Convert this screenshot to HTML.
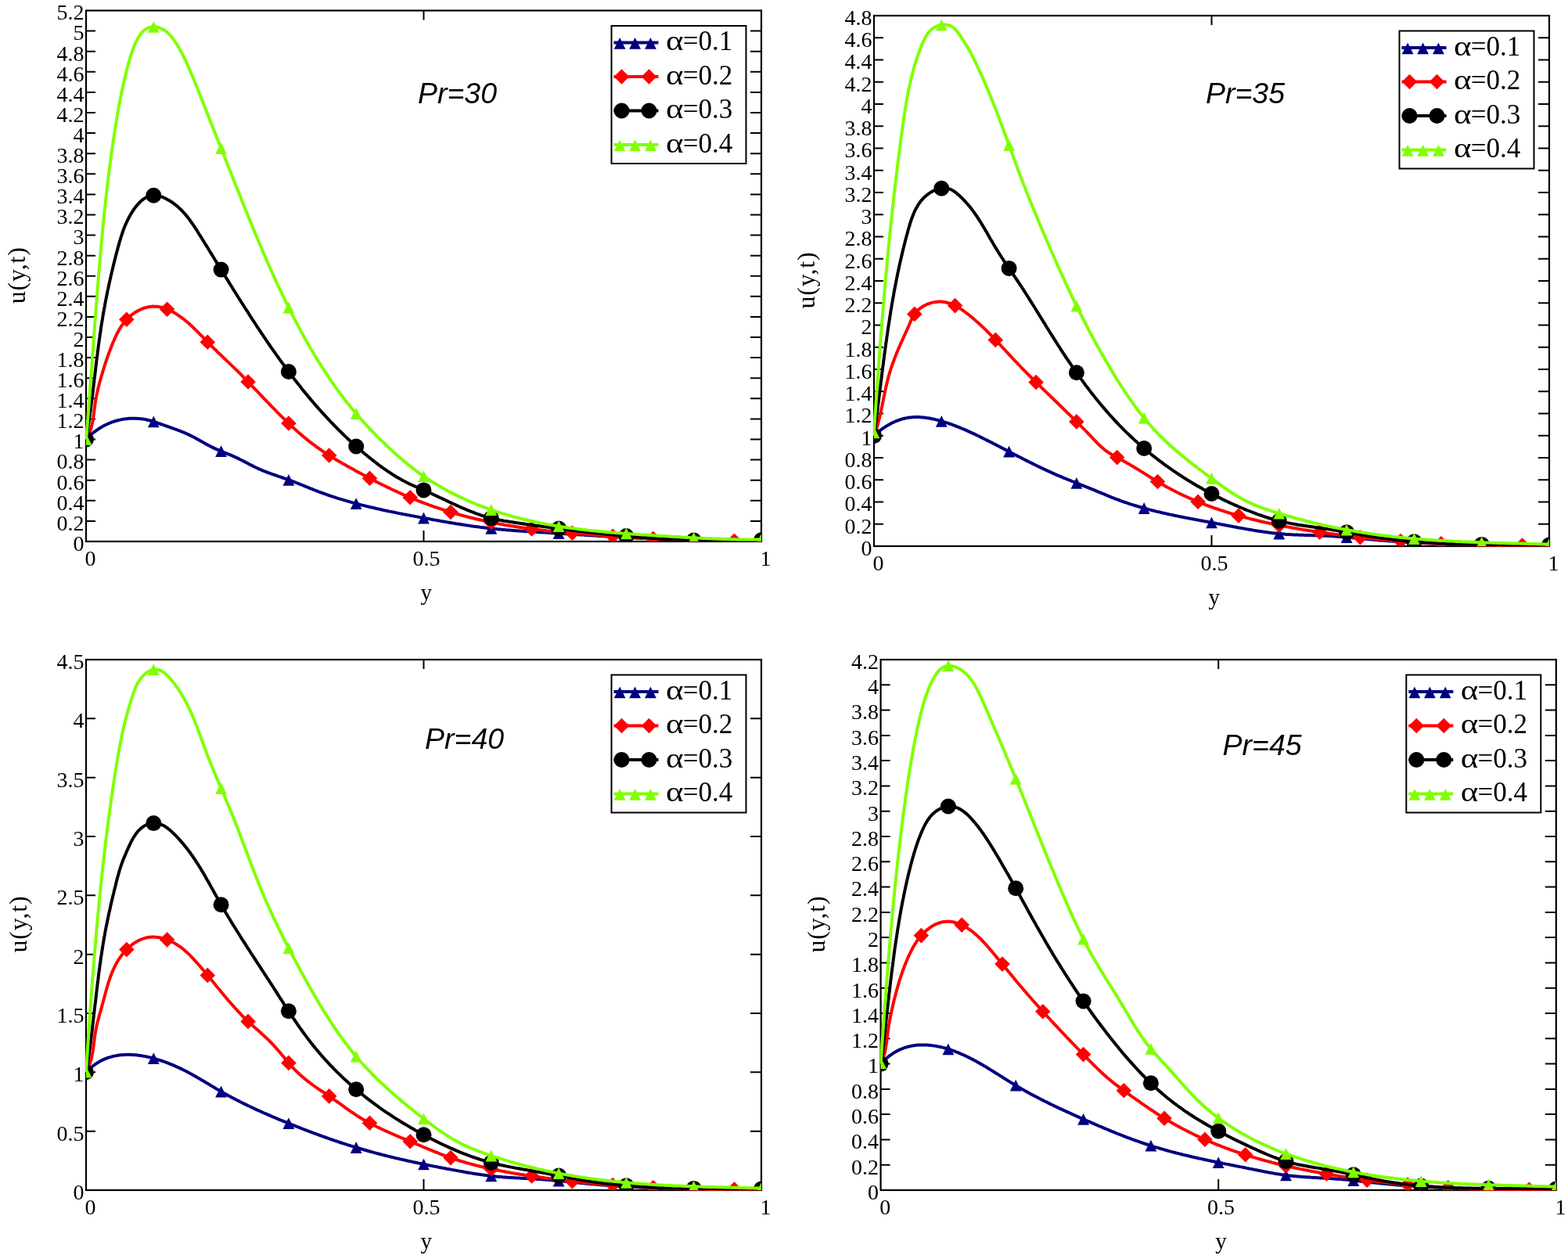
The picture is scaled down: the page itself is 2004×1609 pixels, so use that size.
<!DOCTYPE html>
<html><head><meta charset="utf-8"><title>u(y,t) profiles</title><style>
html,body{margin:0;padding:0;background:#fff;}
svg{display:block;}
.tl{font-family:"Liberation Serif",serif;font-size:28px;fill:#000;}
.al{font-family:"Liberation Serif",serif;font-size:29px;fill:#000;}
.ul{font-family:"Liberation Serif",serif;font-size:32px;letter-spacing:0.8px;fill:#000;}
.lg{font-family:"Liberation Serif",serif;font-size:35px;fill:#000;}
.pr{font-family:"Liberation Sans",sans-serif;font-style:italic;font-size:37.5px;fill:#000;}
</style></head>
<body><svg xmlns="http://www.w3.org/2000/svg" width="2004" height="1609" viewBox="0 0 2004 1609">
<rect width="2004" height="1609" fill="#fff"/>
<rect x="110.0" y="13.5" width="863.0" height="678.5" fill="none" stroke="#000" stroke-width="2.2"/>
<path d="M110.0 665.9H122.0M959.0 665.9H973.0M110.0 639.8H122.0M959.0 639.8H973.0M110.0 613.7H122.0M959.0 613.7H973.0M110.0 587.6H122.0M959.0 587.6H973.0M110.0 561.5H122.0M959.0 561.5H973.0M110.0 535.4H122.0M959.0 535.4H973.0M110.0 509.3H122.0M959.0 509.3H973.0M110.0 483.2H122.0M959.0 483.2H973.0M110.0 457.1H122.0M959.0 457.1H973.0M110.0 431.0H122.0M959.0 431.0H973.0M110.0 404.9H122.0M959.0 404.9H973.0M110.0 378.8H122.0M959.0 378.8H973.0M110.0 352.8H122.0M959.0 352.8H973.0M110.0 326.7H122.0M959.0 326.7H973.0M110.0 300.6H122.0M959.0 300.6H973.0M110.0 274.5H122.0M959.0 274.5H973.0M110.0 248.4H122.0M959.0 248.4H973.0M110.0 222.3H122.0M959.0 222.3H973.0M110.0 196.2H122.0M959.0 196.2H973.0M110.0 170.1H122.0M959.0 170.1H973.0M110.0 144.0H122.0M959.0 144.0H973.0M110.0 117.9H122.0M959.0 117.9H973.0M110.0 91.8H122.0M959.0 91.8H973.0M110.0 65.7H122.0M959.0 65.7H973.0M110.0 39.6H122.0M959.0 39.6H973.0M541.5 13.5V25.5M541.5 678.0V692.0" stroke="#000" stroke-width="2" fill="none"/>
<g class="tl" text-anchor="end"><text x="107.5" y="703.8">0</text><text x="107.5" y="677.7">0.2</text><text x="107.5" y="651.6">0.4</text><text x="107.5" y="625.5">0.6</text><text x="107.5" y="599.4">0.8</text><text x="107.5" y="573.3">1</text><text x="107.5" y="547.2">1.2</text><text x="107.5" y="521.1">1.4</text><text x="107.5" y="495.0">1.6</text><text x="107.5" y="468.9">1.8</text><text x="107.5" y="442.8">2</text><text x="107.5" y="416.7">2.2</text><text x="107.5" y="390.6">2.4</text><text x="107.5" y="364.6">2.6</text><text x="107.5" y="338.5">2.8</text><text x="107.5" y="312.4">3</text><text x="107.5" y="286.3">3.2</text><text x="107.5" y="260.2">3.4</text><text x="107.5" y="234.1">3.6</text><text x="107.5" y="208.0">3.8</text><text x="107.5" y="181.9">4</text><text x="107.5" y="155.8">4.2</text><text x="107.5" y="129.7">4.4</text><text x="107.5" y="103.6">4.6</text><text x="107.5" y="77.5">4.8</text><text x="107.5" y="51.4">5</text><text x="107.5" y="25.3">5.2</text></g>
<g class="tl" text-anchor="middle"><text x="115.6" y="723.2">0</text><text x="544.9" y="723.2">0.5</text><text x="978.6" y="723.2">1</text></g>
<text class="al" x="544.8" y="767.0" text-anchor="middle">y</text>
<text class="ul" transform="translate(31.6 351.8) rotate(-90)" text-anchor="middle">u(y,t)</text>
<clipPath id="c0"><rect x="109.0" y="12.5" width="865.0" height="680.5"/></clipPath>
<clipPath id="c0i"><rect x="110.0" y="13.5" width="863.0" height="678.5"/></clipPath>
<g clip-path="url(#c0)">
<path d="M110.0 561.5L111.3 560.2L112.5 558.9L113.8 557.7L115.1 556.5L116.4 555.3L117.8 554.1L119.2 553.0L120.6 551.9L122.1 550.8L123.5 549.8L125.0 548.8L126.5 547.8L128.1 546.8L129.6 545.9L131.2 545.0L132.8 544.1L134.4 543.3L136.0 542.5L137.6 541.8L139.3 541.0L141.0 540.4L142.6 539.7L144.3 539.1L146.0 538.5L147.8 538.0L149.5 537.5L151.2 537.0L153.0 536.6L154.7 536.3L156.5 535.9L158.3 535.6L160.1 535.4L161.8 535.2L163.6 535.0L165.4 534.8L167.2 534.7L169.0 534.7L170.8 534.7L172.6 534.7L174.4 534.8L176.1 534.9L177.9 535.0L179.7 535.2L181.5 535.4L183.2 535.6L185.0 535.9L186.8 536.3L188.5 536.7L190.2 537.1L192.0 537.5L193.7 538.0L195.4 538.5L197.1 539.0L198.8 539.6L200.5 540.2L202.2 540.8L203.9 541.4L205.6 542.0L207.3 542.6L209.0 543.2L210.7 543.8L212.4 544.4L214.1 545.0L215.8 545.6L217.5 546.2L219.2 546.8L220.9 547.4L222.5 548.0L224.2 548.6L225.9 549.2L227.6 549.8L229.3 550.5L231.0 551.1L232.6 551.8L234.3 552.4L235.9 553.1L237.6 553.8L239.2 554.6L240.8 555.3L242.4 556.1L244.0 556.9L245.6 557.7L247.2 558.5L248.8 559.3L250.4 560.2L251.9 561.1L253.5 561.9L255.0 562.8L256.6 563.7L258.2 564.6L259.7 565.4L261.3 566.3L262.8 567.2L264.4 568.0L266.0 568.9L267.6 569.7L269.2 570.5L270.8 571.4L272.4 572.1L274.0 572.9L275.6 573.6L277.3 574.4L278.9 575.1L280.6 575.8L282.2 576.5L283.9 577.1L285.5 577.8L287.2 578.5L288.8 579.2L290.5 579.9L292.2 580.5L293.8 581.2L295.5 581.9L297.1 582.6L298.8 583.3L300.4 584.1L302.0 584.8L303.7 585.6L305.3 586.4L306.9 587.2L308.5 588.0L310.1 588.8L311.7 589.6L313.3 590.4L314.9 591.3L316.5 592.1L318.0 592.9L319.6 593.8L321.2 594.6L322.8 595.4L324.4 596.2L326.0 597.0L327.7 597.8L329.3 598.5L330.9 599.3L332.5 600.0L334.2 600.7L335.8 601.4L337.5 602.1L339.1 602.7L340.8 603.4L342.5 604.0L344.1 604.6L345.8 605.2L347.5 605.8L349.2 606.4L350.9 607.0L352.6 607.6L354.3 608.2L356.0 608.8L357.7 609.3L359.4 609.9L361.1 610.5L362.8 611.1L364.4 611.7L366.1 612.3L367.8 612.9L369.5 613.5L371.2 614.1L372.9 614.7L374.6 615.4L376.3 616.0L377.9 616.7L379.6 617.3L381.3 618.0L383.0 618.7L384.6 619.3L386.3 620.0L388.0 620.7L389.6 621.4L391.3 622.0L393.0 622.7L394.6 623.4L396.3 624.1L398.0 624.7L399.6 625.4L401.3 626.1L403.0 626.7L404.7 627.4L406.4 628.0L408.0 628.7L409.7 629.3L411.4 629.9L413.1 630.5L414.8 631.1L416.5 631.7L418.2 632.3L419.9 632.9L421.6 633.5L423.3 634.1L425.0 634.6L426.7 635.2L428.4 635.7L430.1 636.3L431.8 636.8L433.5 637.4L435.2 637.9L436.9 638.4L438.6 638.9L440.4 639.4L442.1 639.9L443.8 640.4L445.5 640.9L447.2 641.4L449.0 641.9L450.7 642.4L452.4 642.8L454.2 643.3L455.9 643.8L457.6 644.2L459.4 644.7L461.1 645.1L462.8 645.6L464.6 646.0L466.3 646.4L468.1 646.9L469.8 647.3L471.5 647.7L473.3 648.1L475.0 648.5L476.8 648.9L478.5 649.3L480.3 649.7L482.0 650.1L483.8 650.5L485.5 650.9L487.3 651.3L489.0 651.7L490.8 652.1L492.6 652.5L494.3 652.8L496.1 653.2L497.8 653.6L499.6 653.9L501.4 654.3L503.1 654.6L504.9 655.0L506.6 655.4L508.4 655.7L510.2 656.1L511.9 656.4L513.7 656.7L515.5 657.1L517.2 657.4L519.0 657.8L520.7 658.1L522.5 658.4L524.3 658.8L526.0 659.1L527.8 659.4L529.6 659.8L531.4 660.1L533.1 660.4L534.9 660.7L536.7 661.1L538.4 661.4L540.2 661.7L542.0 662.0L543.7 662.4L545.5 662.7L547.3 663.0L549.0 663.3L550.8 663.6L552.6 664.0L554.3 664.3L556.1 664.6L557.9 664.9L559.6 665.2L561.4 665.5L563.2 665.9L565.0 666.2L566.7 666.5L568.5 666.8L570.3 667.1L572.0 667.4L573.8 667.7L575.6 668.0L577.3 668.3L579.1 668.6L580.9 668.9L582.7 669.2L584.4 669.4L586.2 669.7L588.0 670.0L589.7 670.3L591.5 670.6L593.3 670.8L595.1 671.1L596.8 671.4L598.6 671.6L600.4 671.9L602.2 672.2L603.9 672.4L605.7 672.7L607.5 672.9L609.3 673.1L611.0 673.4L612.8 673.6L614.6 673.9L616.4 674.1L618.2 674.3L619.9 674.5L621.7 674.7L623.5 674.9L625.3 675.1L627.1 675.3L628.9 675.5L630.6 675.7L632.4 675.9L634.2 676.1L636.0 676.3L637.8 676.4L639.6 676.6L641.4 676.8L643.1 676.9L644.9 677.1L646.7 677.2L648.5 677.4L650.3 677.5L652.1 677.6L653.9 677.8L655.7 677.9L657.5 678.1L659.3 678.2L661.1 678.3L662.8 678.4L664.6 678.6L666.4 678.7L668.2 678.8L670.0 678.9L671.8 679.0L673.6 679.2L675.4 679.3L677.2 679.4L679.0 679.5L680.8 679.6L682.6 679.7L684.4 679.8L686.2 679.9L688.0 680.0L689.8 680.2L691.5 680.3L693.3 680.4L695.1 680.5L696.9 680.6L698.7 680.7L700.5 680.8L702.3 680.9L704.1 681.0L705.9 681.2L707.7 681.3L709.5 681.4L711.3 681.5L713.1 681.6L714.9 681.7L716.7 681.8L718.5 681.9L720.3 682.1L722.0 682.2L723.8 682.3L725.6 682.4L727.4 682.5L729.2 682.6L731.0 682.7L732.8 682.9L734.6 683.0L736.4 683.1L738.2 683.2L740.0 683.3L741.8 683.4L743.6 683.5L745.4 683.6L747.2 683.8L748.9 683.9L750.7 684.0L752.5 684.1L754.3 684.2L756.1 684.3L757.9 684.4L759.7 684.5L761.5 684.6L763.3 684.7L765.1 684.9L766.9 685.0L768.7 685.1L770.5 685.2L772.3 685.3L774.0 685.4L775.8 685.5L777.6 685.6L779.4 685.7L781.2 685.8L783.0 685.9L784.8 686.0L786.6 686.1L788.4 686.2L790.2 686.3L792.0 686.4L793.8 686.5L795.6 686.6L797.4 686.7L799.2 686.8L800.9 686.9L802.7 687.0L804.5 687.1L806.3 687.2L808.1 687.3L809.9 687.4L811.7 687.5L813.5 687.6L815.3 687.7L817.1 687.8L818.9 687.9L820.7 688.0L822.5 688.0L824.3 688.1L826.0 688.2L827.8 688.3L829.6 688.4L831.4 688.5L833.2 688.6L835.0 688.6L836.8 688.7L838.6 688.8L840.4 688.9L842.2 688.9L844.0 689.0L845.8 689.1L847.6 689.2L849.4 689.2L851.2 689.3L853.0 689.4L854.7 689.5L856.5 689.5L858.3 689.6L860.1 689.7L861.9 689.7L863.7 689.8L865.5 689.8L867.3 689.9L869.1 690.0L870.9 690.0L872.7 690.1L874.5 690.1L876.3 690.2L878.1 690.2L879.9 690.3L881.7 690.3L883.5 690.4L885.3 690.4L887.0 690.5L888.8 690.5L890.6 690.6L892.4 690.6L894.2 690.6L896.0 690.7L897.8 690.7L899.6 690.7L901.4 690.8L903.2 690.8L905.0 690.8L906.8 690.9L908.6 690.9L910.4 690.9L912.2 690.9L914.0 690.9L915.8 691.0L917.6 691.0L919.4 691.0L921.2 691.0L923.0 691.0L924.8 691.0L926.6 691.0L928.4 691.0L930.2 691.0L932.0 691.0L933.7 691.0L935.5 691.0L937.3 691.0L939.1 691.0L940.9 691.0L942.7 691.0L944.5 691.0L946.3 691.0L948.1 691.0L949.9 690.9L951.7 690.9L953.5 690.9L955.3 690.9L957.1 690.8L958.9 690.8L960.7 690.8L962.5 690.7L964.3 690.7L966.1 690.7L967.9 690.6L969.7 690.6L971.5 690.5L973.3 690.5" fill="none" stroke="#000080" stroke-width="4.0" stroke-linejoin="round"/>
<g fill="#000080" clip-path="url(#c0i)"><path d="M110.0 554.1L117.4 568.9L102.6 568.9Z"/><path d="M196.3 531.4L203.7 546.2L188.9 546.2Z"/><path d="M282.6 569.2L290.0 584.0L275.2 584.0Z"/><path d="M368.9 605.9L376.3 620.7L361.5 620.7Z"/><path d="M455.2 636.2L462.6 651.0L447.8 651.0Z"/><path d="M541.5 654.6L548.9 669.4L534.1 669.4Z"/><path d="M627.8 668.0L635.2 682.8L620.4 682.8Z"/><path d="M714.1 674.3L721.5 689.1L706.7 689.1Z"/><path d="M800.4 679.5L807.8 694.3L793.0 694.3Z"/><path d="M886.7 683.1L894.1 697.9L879.3 697.9Z"/><path d="M973.0 683.1L980.4 697.9L965.6 697.9Z"/></g>
<path d="M110.1 561.5L111.2 559.7L112.3 557.8L113.2 555.8L114.0 553.9L114.8 551.9L115.5 549.9L116.2 547.9L116.7 545.9L117.3 543.8L117.7 541.7L118.2 539.6L118.6 537.5L118.9 535.4L119.3 533.3L119.6 531.2L119.9 529.0L120.1 526.9L120.4 524.8L120.7 522.6L121.0 520.5L121.3 518.3L121.6 516.2L121.9 514.0L122.2 511.9L122.6 509.8L123.0 507.6L123.4 505.5L123.8 503.4L124.3 501.3L124.8 499.2L125.2 497.1L125.7 495.0L126.3 492.9L126.8 490.8L127.3 488.8L127.9 486.7L128.5 484.6L129.1 482.5L129.7 480.5L130.3 478.4L130.9 476.4L131.5 474.3L132.1 472.3L132.8 470.2L133.4 468.2L134.1 466.1L134.7 464.1L135.4 462.1L136.1 460.1L136.8 458.0L137.5 456.0L138.2 454.0L138.9 452.0L139.7 450.0L140.4 448.0L141.2 446.0L141.9 444.0L142.7 442.0L143.5 440.0L144.3 438.0L145.2 436.0L146.0 434.1L146.9 432.1L147.8 430.2L148.7 428.2L149.7 426.3L150.7 424.4L151.7 422.5L152.8 420.6L153.9 418.7L155.1 416.9L156.3 415.1L157.6 413.3L158.9 411.6L160.3 409.9L161.8 408.2L163.4 406.7L165.0 405.1L166.7 403.7L168.4 402.3L170.2 401.0L172.0 399.7L173.9 398.5L175.8 397.4L177.7 396.4L179.7 395.5L181.7 394.6L183.7 393.9L185.7 393.2L187.8 392.7L189.8 392.3L191.9 391.9L193.9 391.7L196.0 391.6L198.1 391.7L200.1 391.8L202.2 392.0L204.2 392.4L206.2 392.8L208.3 393.3L210.3 394.0L212.3 394.7L214.3 395.5L216.2 396.3L218.2 397.2L220.1 398.2L222.1 399.3L224.0 400.4L225.8 401.6L227.7 402.8L229.5 404.1L231.4 405.4L233.1 406.7L234.9 408.0L236.6 409.4L238.3 410.8L240.0 412.3L241.7 413.7L243.3 415.2L244.9 416.6L246.5 418.1L248.0 419.6L249.5 421.1L251.1 422.6L252.6 424.1L254.1 425.6L255.6 427.1L257.0 428.7L258.5 430.2L260.0 431.7L261.5 433.2L263.0 434.8L264.4 436.3L265.9 437.8L267.4 439.3L268.9 440.8L270.4 442.3L272.0 443.8L273.5 445.3L275.0 446.8L276.6 448.3L278.1 449.8L279.6 451.3L281.2 452.7L282.7 454.2L284.3 455.7L285.8 457.2L287.4 458.7L289.0 460.2L290.5 461.6L292.1 463.1L293.6 464.6L295.2 466.1L296.7 467.6L298.3 469.1L299.8 470.6L301.4 472.1L302.9 473.6L304.4 475.1L306.0 476.7L307.5 478.2L309.0 479.7L310.5 481.3L312.0 482.8L313.5 484.3L315.0 485.9L316.5 487.4L318.0 489.0L319.5 490.5L321.0 492.1L322.5 493.6L324.0 495.2L325.5 496.8L327.0 498.3L328.5 499.9L330.0 501.4L331.5 503.0L333.0 504.6L334.4 506.1L335.9 507.7L337.4 509.3L338.9 510.8L340.4 512.4L341.9 513.9L343.4 515.5L344.9 517.0L346.4 518.6L347.9 520.1L349.4 521.7L350.9 523.2L352.4 524.7L353.9 526.3L355.4 527.8L356.9 529.3L358.4 530.8L359.9 532.3L361.5 533.9L363.0 535.4L364.5 536.8L366.1 538.3L367.6 539.8L369.2 541.3L370.7 542.8L372.3 544.2L373.9 545.7L375.4 547.1L377.0 548.6L378.6 550.0L380.2 551.4L381.8 552.8L383.4 554.2L385.0 555.6L386.7 557.0L388.3 558.4L389.9 559.7L391.6 561.1L393.2 562.4L394.9 563.8L396.6 565.1L398.3 566.4L400.0 567.7L401.7 569.0L403.4 570.2L405.1 571.5L406.9 572.7L408.6 574.0L410.4 575.2L412.1 576.4L413.9 577.6L415.7 578.8L417.5 579.9L419.3 581.1L421.1 582.3L422.9 583.4L424.8 584.5L426.6 585.6L428.4 586.8L430.3 587.9L432.1 589.0L434.0 590.1L435.9 591.1L437.7 592.2L439.6 593.3L441.5 594.3L443.3 595.4L445.2 596.5L447.1 597.5L449.0 598.6L450.9 599.6L452.8 600.6L454.6 601.7L456.5 602.7L458.4 603.7L460.3 604.8L462.2 605.8L464.1 606.8L466.0 607.8L467.9 608.8L469.8 609.8L471.7 610.8L473.6 611.8L475.5 612.8L477.4 613.8L479.3 614.8L481.2 615.8L483.1 616.7L485.0 617.7L486.9 618.7L488.9 619.6L490.8 620.6L492.7 621.5L494.6 622.4L496.6 623.4L498.5 624.3L500.4 625.2L502.4 626.1L504.3 627.0L506.2 627.9L508.2 628.8L510.1 629.7L512.1 630.6L514.1 631.5L516.0 632.3L518.0 633.2L519.9 634.0L521.9 634.9L523.9 635.7L525.9 636.5L527.8 637.3L529.8 638.2L531.8 639.0L533.8 639.8L535.8 640.5L537.8 641.3L539.8 642.1L541.8 642.8L543.8 643.6L545.8 644.3L547.9 645.1L549.9 645.8L551.9 646.5L553.9 647.3L556.0 648.0L558.0 648.7L560.0 649.3L562.1 650.0L564.1 650.7L566.2 651.4L568.2 652.0L570.3 652.7L572.3 653.3L574.4 654.0L576.4 654.6L578.5 655.2L580.6 655.8L582.6 656.4L584.7 657.0L586.8 657.6L588.8 658.2L590.9 658.8L593.0 659.3L595.1 659.9L597.2 660.4L599.2 661.0L601.3 661.5L603.4 662.0L605.5 662.5L607.6 663.0L609.7 663.5L611.8 664.0L613.9 664.5L616.0 665.0L618.1 665.5L620.2 665.9L622.3 666.4L624.4 666.8L626.5 667.3L628.6 667.7L630.7 668.1L632.8 668.5L634.9 668.9L637.0 669.3L639.1 669.7L641.2 670.1L643.4 670.5L645.5 670.9L647.6 671.2L649.7 671.6L651.8 671.9L653.9 672.3L656.1 672.6L658.2 672.9L660.3 673.3L662.4 673.6L664.5 673.9L666.7 674.2L668.8 674.5L670.9 674.8L673.0 675.1L675.2 675.4L677.3 675.6L679.4 675.9L681.5 676.2L683.7 676.5L685.8 676.7L687.9 677.0L690.1 677.2L692.2 677.5L694.3 677.7L696.5 677.9L698.6 678.2L700.7 678.4L702.9 678.6L705.0 678.8L707.1 679.1L709.3 679.3L711.4 679.5L713.5 679.7L715.7 679.9L717.8 680.1L720.0 680.3L722.1 680.5L724.2 680.7L726.4 680.9L728.5 681.0L730.7 681.2L732.8 681.4L734.9 681.6L737.1 681.8L739.2 681.9L741.4 682.1L743.5 682.3L745.6 682.5L747.8 682.6L749.9 682.8L752.1 683.0L754.2 683.1L756.4 683.3L758.5 683.5L760.6 683.6L762.8 683.8L764.9 683.9L767.1 684.1L769.2 684.3L771.3 684.4L773.5 684.6L775.6 684.7L777.8 684.9L779.9 685.0L782.1 685.2L784.2 685.3L786.3 685.5L788.5 685.6L790.6 685.8L792.8 685.9L794.9 686.1L797.1 686.2L799.2 686.4L801.4 686.5L803.5 686.6L805.6 686.8L807.8 686.9L809.9 687.1L812.1 687.2L814.2 687.3L816.4 687.5L818.5 687.6L820.6 687.7L822.8 687.8L824.9 688.0L827.1 688.1L829.2 688.2L831.4 688.3L833.5 688.4L835.7 688.5L837.8 688.7L839.9 688.8L842.1 688.9L844.2 689.0L846.4 689.1L848.5 689.2L850.7 689.3L852.8 689.4L855.0 689.5L857.1 689.6L859.3 689.7L861.4 689.8L863.5 689.8L865.7 689.9L867.8 690.0L870.0 690.1L872.1 690.2L874.3 690.3L876.4 690.3L878.6 690.4L880.7 690.5L882.9 690.5L885.0 690.6L887.2 690.7L889.3 690.7L891.4 690.8L893.6 690.8L895.7 690.9L897.9 690.9L900.0 691.0L902.2 691.0L904.3 691.1L906.5 691.1L908.6 691.1L910.8 691.2L912.9 691.2L915.1 691.2L917.2 691.2L919.4 691.3L921.5 691.3L923.7 691.3L925.8 691.3L927.9 691.3L930.1 691.3L932.2 691.3L934.4 691.3L936.5 691.3L938.7 691.3L940.8 691.3L943.0 691.3L945.1 691.3L947.3 691.2L949.4 691.2L951.6 691.2L953.7 691.2L955.9 691.1L958.0 691.1L960.2 691.1L962.3 691.0L964.5 691.0L966.6 690.9L968.8 690.9L970.9 690.8L973.1 690.7" fill="none" stroke="#ff0000" stroke-width="4.0" stroke-linejoin="round"/>
<g fill="#ff0000" clip-path="url(#c0i)"><path d="M110.0 551.7L119.8 561.5L110.0 571.3L100.2 561.5Z"/><path d="M161.8 398.5L171.6 408.3L161.8 418.1L152.0 408.3Z"/><path d="M213.6 385.4L223.4 395.2L213.6 405.0L203.8 395.2Z"/><path d="M265.3 427.4L275.1 437.2L265.3 447.0L255.5 437.2Z"/><path d="M317.1 478.2L326.9 488.0L317.1 497.8L307.3 488.0Z"/><path d="M368.9 531.2L378.7 541.0L368.9 550.8L359.1 541.0Z"/><path d="M420.7 572.2L430.5 582.0L420.7 591.8L410.9 582.0Z"/><path d="M472.5 601.4L482.3 611.2L472.5 621.0L462.7 611.2Z"/><path d="M524.2 626.0L534.0 635.8L524.2 645.6L514.4 635.8Z"/><path d="M576.0 644.7L585.8 654.5L576.0 664.3L566.2 654.5Z"/><path d="M627.8 657.7L637.6 667.5L627.8 677.3L618.0 667.5Z"/><path d="M679.6 666.1L689.4 675.9L679.6 685.7L669.8 675.9Z"/><path d="M731.4 671.5L741.2 681.3L731.4 691.1L721.6 681.3Z"/><path d="M783.1 675.5L792.9 685.3L783.1 695.1L773.3 685.3Z"/><path d="M834.9 678.7L844.7 688.5L834.9 698.3L825.1 688.5Z"/><path d="M886.7 680.8L896.5 690.6L886.7 700.4L876.9 690.6Z"/><path d="M938.5 681.5L948.3 691.3L938.5 701.1L928.7 691.3Z"/></g>
<path d="M110.0 561.5L110.4 558.9L110.9 556.4L111.3 553.8L111.7 551.2L112.1 548.7L112.5 546.1L112.9 543.6L113.3 541.0L113.7 538.4L114.1 535.8L114.4 533.3L114.8 530.7L115.1 528.1L115.5 525.6L115.8 523.0L116.2 520.4L116.5 517.8L116.9 515.3L117.2 512.7L117.5 510.1L117.8 507.5L118.2 505.0L118.5 502.4L118.8 499.8L119.1 497.2L119.4 494.7L119.7 492.1L120.0 489.5L120.3 486.9L120.6 484.3L121.0 481.8L121.3 479.2L121.6 476.6L121.9 474.0L122.2 471.5L122.5 468.9L122.8 466.3L123.1 463.7L123.4 461.1L123.7 458.6L124.1 456.0L124.4 453.4L124.7 450.8L125.0 448.3L125.4 445.7L125.7 443.1L126.0 440.5L126.4 438.0L126.7 435.4L127.1 432.8L127.5 430.3L127.8 427.7L128.2 425.1L128.6 422.5L128.9 420.0L129.3 417.4L129.7 414.8L130.1 412.3L130.6 409.7L131.0 407.2L131.4 404.6L131.8 402.0L132.3 399.5L132.7 396.9L133.2 394.4L133.7 391.8L134.1 389.2L134.6 386.7L135.1 384.1L135.6 381.6L136.1 379.0L136.6 376.5L137.1 374.0L137.6 371.4L138.2 368.9L138.7 366.3L139.3 363.8L139.8 361.2L140.4 358.7L140.9 356.2L141.5 353.6L142.1 351.1L142.7 348.6L143.3 346.1L143.9 343.5L144.5 341.0L145.1 338.5L145.7 336.0L146.3 333.5L147.0 331.0L147.6 328.4L148.3 325.9L148.9 323.4L149.6 320.9L150.3 318.4L150.9 315.9L151.6 313.4L152.3 310.9L153.0 308.4L153.8 306.0L154.5 303.5L155.3 301.0L156.1 298.6L156.9 296.1L157.8 293.7L158.7 291.3L159.7 288.8L160.7 286.4L161.8 284.1L162.9 281.7L164.1 279.3L165.3 277.0L166.6 274.7L168.0 272.4L169.4 270.1L170.9 267.8L172.5 265.6L174.1 263.5L175.9 261.4L177.7 259.5L179.5 257.6L181.5 255.9L183.5 254.4L185.5 253.1L187.7 251.9L189.9 251.0L192.2 250.3L194.5 249.9L196.9 249.7L199.4 249.8L201.9 250.2L204.4 250.9L207.0 251.7L209.5 252.7L212.0 253.9L214.4 255.2L216.8 256.6L219.1 258.0L221.3 259.5L223.4 261.1L225.5 262.8L227.5 264.4L229.4 266.2L231.3 268.0L233.1 269.9L234.9 271.8L236.6 273.7L238.3 275.7L239.9 277.7L241.5 279.8L243.0 281.8L244.5 284.0L246.0 286.1L247.5 288.2L248.9 290.4L250.4 292.6L251.8 294.8L253.1 297.0L254.5 299.2L255.9 301.4L257.3 303.6L258.6 305.8L260.0 308.0L261.4 310.2L262.7 312.4L264.1 314.6L265.5 316.8L266.8 319.0L268.2 321.2L269.5 323.4L270.9 325.6L272.2 327.8L273.6 330.0L274.9 332.2L276.3 334.4L277.7 336.6L279.0 338.8L280.4 341.0L281.7 343.2L283.1 345.4L284.5 347.6L285.8 349.8L287.2 352.0L288.5 354.2L289.9 356.4L291.3 358.6L292.6 360.9L294.0 363.1L295.4 365.3L296.8 367.5L298.1 369.7L299.5 371.9L300.9 374.1L302.3 376.3L303.6 378.5L305.0 380.7L306.4 382.9L307.8 385.1L309.2 387.3L310.6 389.5L312.0 391.7L313.4 393.9L314.8 396.1L316.2 398.2L317.6 400.4L319.0 402.6L320.4 404.8L321.8 407.0L323.2 409.2L324.7 411.4L326.1 413.5L327.5 415.7L328.9 417.9L330.4 420.1L331.8 422.2L333.3 424.4L334.7 426.6L336.2 428.7L337.6 430.9L339.1 433.0L340.5 435.2L342.0 437.3L343.5 439.5L344.9 441.6L346.4 443.8L347.9 445.9L349.4 448.0L350.9 450.2L352.4 452.3L353.9 454.4L355.4 456.5L356.9 458.6L358.4 460.7L359.9 462.8L361.5 464.9L363.0 467.0L364.5 469.1L366.1 471.2L367.6 473.3L369.2 475.4L370.8 477.4L372.3 479.5L373.9 481.6L375.5 483.6L377.1 485.7L378.7 487.7L380.3 489.8L381.9 491.8L383.5 493.8L385.1 495.9L386.7 497.9L388.3 499.9L390.0 501.9L391.6 503.9L393.3 505.9L394.9 507.9L396.6 509.9L398.3 511.9L399.9 513.8L401.6 515.8L403.3 517.7L405.0 519.7L406.7 521.6L408.5 523.6L410.2 525.5L411.9 527.4L413.7 529.3L415.4 531.2L417.2 533.1L418.9 535.0L420.7 536.9L422.5 538.8L424.3 540.7L426.1 542.5L427.9 544.4L429.7 546.2L431.5 548.1L433.3 549.9L435.2 551.7L437.0 553.5L438.9 555.3L440.7 557.1L442.6 558.9L444.5 560.7L446.4 562.5L448.3 564.2L450.2 566.0L452.1 567.7L454.1 569.5L456.0 571.2L458.0 572.9L459.9 574.6L461.9 576.3L463.9 578.0L465.9 579.7L467.9 581.3L469.9 583.0L471.9 584.6L474.0 586.3L476.0 587.9L478.1 589.5L480.1 591.1L482.2 592.7L484.3 594.3L486.4 595.8L488.5 597.4L490.6 598.9L492.8 600.4L494.9 601.9L497.1 603.3L499.2 604.7L501.4 606.2L503.6 607.5L505.8 608.9L508.1 610.2L510.3 611.5L512.6 612.8L514.8 614.1L517.1 615.3L519.4 616.4L521.7 617.6L524.0 618.7L526.4 619.8L528.7 620.9L531.1 621.9L533.4 622.9L535.8 624.0L538.2 625.0L540.5 626.0L542.9 627.0L545.3 628.1L547.7 629.1L550.0 630.2L552.4 631.3L554.7 632.4L557.1 633.5L559.5 634.6L561.8 635.7L564.2 636.8L566.5 637.9L568.9 639.0L571.2 640.1L573.6 641.2L576.0 642.4L578.3 643.5L580.7 644.5L583.1 645.6L585.4 646.7L587.8 647.8L590.2 648.8L592.6 649.8L595.0 650.9L597.4 651.9L599.8 652.8L602.2 653.8L604.6 654.7L607.0 655.7L609.4 656.6L611.9 657.4L614.3 658.3L616.8 659.1L619.2 659.8L621.7 660.6L624.2 661.3L626.7 662.0L629.2 662.6L631.7 663.2L634.2 663.7L636.8 664.3L639.3 664.8L641.8 665.2L644.4 665.7L647.0 666.1L649.5 666.5L652.1 666.9L654.7 667.3L657.2 667.7L659.8 668.1L662.4 668.4L665.0 668.8L667.5 669.2L670.1 669.6L672.7 669.9L675.3 670.3L677.8 670.6L680.4 671.0L683.0 671.4L685.6 671.7L688.1 672.1L690.7 672.4L693.3 672.8L695.9 673.1L698.4 673.5L701.0 673.8L703.6 674.1L706.2 674.5L708.8 674.8L711.3 675.2L713.9 675.5L716.5 675.8L719.1 676.2L721.6 676.5L724.2 676.8L726.8 677.1L729.4 677.5L731.9 677.8L734.5 678.1L737.1 678.4L739.7 678.7L742.3 679.0L744.8 679.3L747.4 679.6L750.0 679.9L752.6 680.2L755.2 680.5L757.7 680.8L760.3 681.1L762.9 681.4L765.5 681.6L768.1 681.9L770.6 682.2L773.2 682.5L775.8 682.7L778.4 683.0L781.0 683.3L783.5 683.5L786.1 683.8L788.7 684.0L791.3 684.3L793.9 684.5L796.4 684.7L799.0 685.0L801.6 685.2L804.2 685.4L806.8 685.7L809.4 685.9L811.9 686.1L814.5 686.3L817.1 686.5L819.7 686.7L822.3 686.9L824.9 687.1L827.5 687.3L830.0 687.5L832.6 687.7L835.2 687.9L837.8 688.1L840.4 688.2L843.0 688.4L845.6 688.6L848.1 688.7L850.7 688.9L853.3 689.0L855.9 689.2L858.5 689.3L861.1 689.5L863.7 689.6L866.3 689.7L868.9 689.8L871.5 690.0L874.0 690.1L876.6 690.2L879.2 690.3L881.8 690.4L884.4 690.5L887.0 690.6L889.6 690.6L892.2 690.7L894.8 690.8L897.4 690.8L900.0 690.9L902.6 691.0L905.2 691.0L907.8 691.1L910.4 691.1L913.0 691.1L915.6 691.2L918.1 691.2L920.7 691.2L923.3 691.2L925.9 691.2L928.5 691.2L931.1 691.2L933.7 691.2L936.3 691.2L938.9 691.2L941.5 691.1L944.1 691.1L946.8 691.0L949.4 691.0L952.0 690.9L954.6 690.9L957.2 690.8L959.8 690.7L962.4 690.7L965.0 690.6L967.6 690.5L970.2 690.4L972.8 690.3" fill="none" stroke="#000000" stroke-width="4.0" stroke-linejoin="round"/>
<g fill="#000000" clip-path="url(#c0i)"><circle cx="110.0" cy="561.5" r="10.0"/><circle cx="196.3" cy="249.7" r="10.0"/><circle cx="282.6" cy="344.6" r="10.0"/><circle cx="368.9" cy="475.0" r="10.0"/><circle cx="455.2" cy="570.5" r="10.0"/><circle cx="541.5" cy="626.4" r="10.0"/><circle cx="627.8" cy="662.2" r="10.0"/><circle cx="714.1" cy="675.5" r="10.0"/><circle cx="800.4" cy="685.1" r="10.0"/><circle cx="886.7" cy="690.5" r="10.0"/><circle cx="973.0" cy="690.3" r="10.0"/></g>
<path d="M110.1 561.5L110.4 558.2L110.7 554.8L110.9 551.5L111.2 548.1L111.5 544.8L111.8 541.4L112.0 538.1L112.3 534.7L112.5 531.4L112.8 528.1L113.1 524.7L113.3 521.4L113.6 518.0L113.8 514.7L114.1 511.3L114.3 508.0L114.6 504.6L114.8 501.3L115.1 497.9L115.3 494.6L115.6 491.3L115.8 487.9L116.1 484.6L116.3 481.2L116.6 477.9L116.8 474.5L117.0 471.2L117.3 467.9L117.5 464.5L117.8 461.2L118.0 457.8L118.3 454.5L118.5 451.1L118.8 447.8L119.0 444.5L119.2 441.1L119.5 437.8L119.7 434.4L120.0 431.1L120.2 427.8L120.5 424.4L120.7 421.1L121.0 417.7L121.2 414.4L121.5 411.1L121.7 407.7L122.0 404.4L122.2 401.0L122.5 397.7L122.7 394.4L123.0 391.0L123.2 387.7L123.5 384.3L123.8 381.0L124.0 377.6L124.3 374.3L124.5 371.0L124.8 367.6L125.1 364.3L125.3 360.9L125.6 357.6L125.9 354.3L126.2 350.9L126.4 347.6L126.7 344.2L127.0 340.9L127.3 337.6L127.6 334.2L127.9 330.9L128.1 327.5L128.4 324.2L128.7 320.9L129.0 317.5L129.3 314.2L129.6 310.8L129.9 307.5L130.3 304.2L130.6 300.8L130.9 297.5L131.2 294.1L131.5 290.8L131.9 287.5L132.2 284.1L132.5 280.8L132.8 277.4L133.2 274.1L133.5 270.8L133.9 267.4L134.2 264.1L134.6 260.7L134.9 257.4L135.3 254.1L135.7 250.7L136.1 247.4L136.4 244.0L136.8 240.7L137.2 237.4L137.6 234.0L138.0 230.7L138.4 227.4L138.8 224.0L139.2 220.7L139.6 217.4L140.1 214.1L140.5 210.7L140.9 207.4L141.4 204.1L141.8 200.8L142.3 197.4L142.7 194.1L143.2 190.8L143.7 187.5L144.1 184.2L144.6 180.8L145.1 177.5L145.6 174.2L146.1 170.9L146.6 167.6L147.2 164.3L147.7 161.0L148.2 157.7L148.8 154.4L149.3 151.1L149.9 147.8L150.4 144.5L151.0 141.2L151.6 137.9L152.2 134.6L152.8 131.3L153.5 128.0L154.1 124.8L154.8 121.5L155.4 118.2L156.1 114.9L156.8 111.7L157.5 108.4L158.3 105.1L159.0 101.9L159.8 98.6L160.6 95.3L161.4 92.1L162.2 88.8L163.0 85.6L163.9 82.3L164.8 79.1L165.7 75.8L166.6 72.6L167.6 69.4L168.7 66.2L169.9 63.0L171.1 59.9L172.4 56.7L173.8 53.7L175.4 50.6L177.1 47.6L178.9 44.7L180.9 42.1L183.1 39.7L185.5 37.7L188.2 36.1L191.1 35.0L194.2 34.5L197.4 34.4L200.6 34.7L203.8 35.5L206.9 36.8L209.8 38.4L212.6 40.4L215.1 42.7L217.6 45.2L219.8 47.8L221.9 50.6L223.9 53.4L225.8 56.3L227.6 59.2L229.3 62.1L230.9 65.1L232.5 68.0L234.0 71.0L235.5 74.0L236.9 77.0L238.3 80.0L239.7 83.0L241.0 86.1L242.4 89.1L243.7 92.2L245.0 95.2L246.3 98.3L247.6 101.4L248.8 104.5L250.1 107.6L251.4 110.7L252.6 113.8L253.8 116.9L255.1 120.0L256.3 123.2L257.5 126.3L258.8 129.4L260.0 132.5L261.2 135.6L262.5 138.8L263.7 141.9L264.9 145.0L266.2 148.1L267.4 151.2L268.6 154.4L269.9 157.5L271.1 160.6L272.3 163.7L273.6 166.8L274.8 170.0L276.0 173.1L277.3 176.2L278.5 179.3L279.8 182.4L281.0 185.5L282.2 188.7L283.5 191.8L284.7 194.9L285.9 198.0L287.2 201.1L288.4 204.2L289.7 207.3L290.9 210.5L292.1 213.6L293.4 216.7L294.6 219.8L295.8 222.9L297.1 226.0L298.3 229.1L299.6 232.3L300.8 235.4L302.0 238.5L303.3 241.6L304.5 244.7L305.8 247.8L307.0 250.9L308.3 254.1L309.5 257.2L310.7 260.3L312.0 263.4L313.2 266.5L314.5 269.6L315.8 272.7L317.0 275.8L318.3 278.9L319.5 282.0L320.8 285.1L322.1 288.2L323.3 291.3L324.6 294.4L325.9 297.5L327.2 300.6L328.5 303.7L329.8 306.8L331.1 309.9L332.4 313.0L333.7 316.0L335.0 319.1L336.3 322.2L337.6 325.3L339.0 328.4L340.3 331.4L341.6 334.5L343.0 337.6L344.3 340.6L345.7 343.7L347.1 346.8L348.4 349.8L349.8 352.9L351.2 355.9L352.6 359.0L354.0 362.0L355.4 365.0L356.8 368.1L358.3 371.1L359.7 374.1L361.1 377.2L362.6 380.2L364.1 383.2L365.5 386.2L367.0 389.2L368.5 392.2L370.0 395.2L371.5 398.2L373.0 401.2L374.6 404.2L376.1 407.2L377.6 410.2L379.2 413.1L380.8 416.1L382.4 419.1L384.0 422.0L385.6 425.0L387.2 427.9L388.8 430.9L390.5 433.8L392.1 436.8L393.8 439.7L395.5 442.6L397.1 445.5L398.8 448.4L400.6 451.3L402.3 454.2L404.0 457.1L405.8 459.9L407.6 462.8L409.3 465.6L411.1 468.5L413.0 471.3L414.8 474.1L416.6 476.9L418.5 479.7L420.4 482.5L422.2 485.3L424.1 488.1L426.1 490.8L428.0 493.6L429.9 496.3L431.9 499.0L433.9 501.7L435.9 504.4L437.9 507.0L439.9 509.7L442.0 512.4L444.0 515.0L446.1 517.6L448.2 520.2L450.3 522.8L452.4 525.3L454.6 527.9L456.7 530.4L458.9 533.0L461.1 535.5L463.3 537.9L465.6 540.4L467.8 542.9L470.1 545.3L472.4 547.8L474.7 550.2L477.0 552.6L479.3 555.0L481.7 557.4L484.1 559.7L486.4 562.1L488.8 564.4L491.3 566.7L493.7 569.1L496.1 571.4L498.6 573.7L501.1 575.9L503.6 578.2L506.1 580.5L508.6 582.7L511.1 584.9L513.7 587.1L516.3 589.3L518.9 591.4L521.5 593.6L524.1 595.7L526.8 597.8L529.5 599.8L532.1 601.9L534.8 603.8L537.6 605.8L540.3 607.7L543.1 609.7L545.9 611.5L548.7 613.4L551.5 615.2L554.3 617.0L557.2 618.7L560.0 620.4L562.9 622.1L565.8 623.8L568.8 625.4L571.7 627.0L574.6 628.6L577.6 630.1L580.6 631.6L583.6 633.1L586.6 634.6L589.6 636.0L592.6 637.4L595.7 638.8L598.8 640.2L601.8 641.5L604.9 642.8L608.0 644.0L611.1 645.3L614.2 646.5L617.4 647.7L620.5 648.9L623.7 650.0L626.8 651.1L630.0 652.2L633.2 653.3L636.4 654.3L639.6 655.4L642.8 656.4L646.0 657.3L649.2 658.3L652.4 659.2L655.7 660.1L658.9 661.0L662.2 661.8L665.4 662.7L668.7 663.5L671.9 664.3L675.2 665.0L678.5 665.8L681.8 666.5L685.1 667.2L688.3 667.9L691.6 668.6L694.9 669.2L698.2 669.9L701.5 670.5L704.8 671.0L708.1 671.6L711.4 672.2L714.7 672.7L718.1 673.2L721.4 673.7L724.7 674.2L728.0 674.7L731.3 675.1L734.7 675.6L738.0 676.0L741.3 676.4L744.6 676.8L748.0 677.2L751.3 677.6L754.6 677.9L758.0 678.3L761.3 678.6L764.7 678.9L768.0 679.3L771.3 679.6L774.7 679.9L778.0 680.2L781.4 680.4L784.7 680.7L788.1 681.0L791.4 681.2L794.8 681.5L798.1 681.7L801.5 682.0L804.8 682.2L808.2 682.5L811.5 682.7L814.9 682.9L818.2 683.2L821.6 683.4L824.9 683.6L828.2 683.8L831.6 684.0L834.9 684.2L838.3 684.5L841.6 684.7L845.0 684.9L848.3 685.1L851.7 685.3L855.0 685.5L858.4 685.7L861.7 685.9L865.1 686.1L868.4 686.3L871.7 686.5L875.1 686.7L878.4 686.9L881.8 687.1L885.1 687.2L888.5 687.4L891.8 687.6L895.2 687.7L898.5 687.9L901.8 688.1L905.2 688.2L908.5 688.3L911.9 688.5L915.2 688.6L918.6 688.7L921.9 688.8L925.3 689.0L928.6 689.1L932.0 689.1L935.3 689.2L938.7 689.3L942.0 689.4L945.4 689.4L948.7 689.5L952.1 689.5L955.5 689.6L958.8 689.6L962.2 689.6L965.5 689.6L968.9 689.6L972.3 689.6" fill="none" stroke="#80ff00" stroke-width="4.0" stroke-linejoin="round"/>
<g fill="#80ff00" clip-path="url(#c0i)"><path d="M110.0 554.1L117.4 568.9L102.6 568.9Z"/><path d="M196.3 27.0L203.7 41.8L188.9 41.8Z"/><path d="M282.6 182.2L290.0 197.0L275.2 197.0Z"/><path d="M368.9 385.6L376.3 400.4L361.5 400.4Z"/><path d="M455.2 521.2L462.6 536.0L447.8 536.0Z"/><path d="M541.5 601.2L548.9 616.0L534.1 616.0Z"/><path d="M627.8 644.1L635.2 658.9L620.4 658.9Z"/><path d="M714.1 665.2L721.5 680.0L706.7 680.0Z"/><path d="M800.4 674.5L807.8 689.3L793.0 689.3Z"/><path d="M886.7 679.9L894.1 694.7L879.3 694.7Z"/><path d="M973.0 682.2L980.4 697.0L965.6 697.0Z"/></g>
</g>
<rect x="781.5" y="33.0" width="172" height="176" fill="#fff" stroke="#000" stroke-width="2"/>
<path d="M784.5 54.5H841.5" stroke="#000080" stroke-width="4"/>
<g fill="#000080"><path d="M792.1 47.9L799.5 62.7L784.7 62.7Z"/><path d="M811.6 47.9L819.0 62.7L804.2 62.7Z"/><path d="M831.4 47.9L838.8 62.7L824.0 62.7Z"/></g>
<text class="lg" transform="translate(851.0 64.3) scale(1.230 1)">&#945;</text>
<text class="lg" x="872.7" y="64.3">=0.1</text>
<path d="M784.5 98.0H841.5" stroke="#ff0000" stroke-width="4"/>
<g fill="#ff0000"><path d="M794.5 88.2L804.3 98.0L794.5 107.8L784.7 98.0Z"/><path d="M829.5 88.2L839.3 98.0L829.5 107.8L819.7 98.0Z"/></g>
<text class="lg" transform="translate(851.0 107.8) scale(1.230 1)">&#945;</text>
<text class="lg" x="872.7" y="107.8">=0.2</text>
<path d="M784.5 141.5H841.5" stroke="#000000" stroke-width="4"/>
<g fill="#000000"><circle cx="794.5" cy="141.5" r="10.0"/><circle cx="829.5" cy="141.5" r="10.0"/></g>
<text class="lg" transform="translate(851.0 151.3) scale(1.230 1)">&#945;</text>
<text class="lg" x="872.7" y="151.3">=0.3</text>
<path d="M784.5 185.0H841.5" stroke="#80ff00" stroke-width="4"/>
<g fill="#80ff00"><path d="M792.1 178.4L799.5 193.2L784.7 193.2Z"/><path d="M811.6 178.4L819.0 193.2L804.2 193.2Z"/><path d="M831.4 178.4L838.8 193.2L824.0 193.2Z"/></g>
<text class="lg" transform="translate(851.0 194.8) scale(1.230 1)">&#945;</text>
<text class="lg" x="872.7" y="194.8">=0.4</text>
<text class="pr" x="533.9" y="131.9">Pr=30</text>
<rect x="1117.0" y="20.0" width="863.0" height="678.0" fill="none" stroke="#000" stroke-width="2.2"/>
<path d="M1117.0 669.8H1129.0M1966.0 669.8H1980.0M1117.0 641.5H1129.0M1966.0 641.5H1980.0M1117.0 613.2H1129.0M1966.0 613.2H1980.0M1117.0 585.0H1129.0M1966.0 585.0H1980.0M1117.0 556.8H1129.0M1966.0 556.8H1980.0M1117.0 528.5H1129.0M1966.0 528.5H1980.0M1117.0 500.2H1129.0M1966.0 500.2H1980.0M1117.0 472.0H1129.0M1966.0 472.0H1980.0M1117.0 443.8H1129.0M1966.0 443.8H1980.0M1117.0 415.5H1129.0M1966.0 415.5H1980.0M1117.0 387.2H1129.0M1966.0 387.2H1980.0M1117.0 359.0H1129.0M1966.0 359.0H1980.0M1117.0 330.7H1129.0M1966.0 330.7H1980.0M1117.0 302.5H1129.0M1966.0 302.5H1980.0M1117.0 274.2H1129.0M1966.0 274.2H1980.0M1117.0 246.0H1129.0M1966.0 246.0H1980.0M1117.0 217.7H1129.0M1966.0 217.7H1980.0M1117.0 189.5H1129.0M1966.0 189.5H1980.0M1117.0 161.2H1129.0M1966.0 161.2H1980.0M1117.0 133.0H1129.0M1966.0 133.0H1980.0M1117.0 104.7H1129.0M1966.0 104.7H1980.0M1117.0 76.5H1129.0M1966.0 76.5H1980.0M1117.0 48.2H1129.0M1966.0 48.2H1980.0M1548.5 20.0V32.0M1548.5 684.0V698.0" stroke="#000" stroke-width="2" fill="none"/>
<g class="tl" text-anchor="end"><text x="1114.5" y="709.8">0</text><text x="1114.5" y="681.5">0.2</text><text x="1114.5" y="653.3">0.4</text><text x="1114.5" y="625.0">0.6</text><text x="1114.5" y="596.8">0.8</text><text x="1114.5" y="568.5">1</text><text x="1114.5" y="540.3">1.2</text><text x="1114.5" y="512.0">1.4</text><text x="1114.5" y="483.8">1.6</text><text x="1114.5" y="455.6">1.8</text><text x="1114.5" y="427.3">2</text><text x="1114.5" y="399.1">2.2</text><text x="1114.5" y="370.8">2.4</text><text x="1114.5" y="342.5">2.6</text><text x="1114.5" y="314.3">2.8</text><text x="1114.5" y="286.1">3</text><text x="1114.5" y="257.8">3.2</text><text x="1114.5" y="229.5">3.4</text><text x="1114.5" y="201.3">3.6</text><text x="1114.5" y="173.1">3.8</text><text x="1114.5" y="144.8">4</text><text x="1114.5" y="116.5">4.2</text><text x="1114.5" y="88.3">4.4</text><text x="1114.5" y="60.0">4.6</text><text x="1114.5" y="31.8">4.8</text></g>
<g class="tl" text-anchor="middle"><text x="1122.6" y="729.2">0</text><text x="1551.9" y="729.2">0.5</text><text x="1985.6" y="729.2">1</text></g>
<text class="al" x="1551.8" y="773.0" text-anchor="middle">y</text>
<text class="ul" transform="translate(1040.8 358.0) rotate(-90)" text-anchor="middle">u(y,t)</text>
<clipPath id="c1"><rect x="1116.0" y="19.0" width="865.0" height="680.0"/></clipPath>
<clipPath id="c1i"><rect x="1117.0" y="20.0" width="863.0" height="678.0"/></clipPath>
<g clip-path="url(#c1)">
<path d="M1116.9 556.9L1118.2 555.7L1119.6 554.5L1121.0 553.3L1122.4 552.1L1123.8 551.0L1125.2 549.8L1126.7 548.7L1128.2 547.7L1129.7 546.6L1131.2 545.6L1132.8 544.6L1134.3 543.7L1135.9 542.8L1137.5 541.9L1139.1 541.0L1140.8 540.2L1142.4 539.5L1144.0 538.7L1145.7 538.0L1147.4 537.4L1149.1 536.8L1150.8 536.2L1152.5 535.7L1154.2 535.2L1155.9 534.8L1157.6 534.4L1159.3 534.1L1161.1 533.8L1162.8 533.6L1164.6 533.4L1166.3 533.2L1168.1 533.1L1169.8 533.1L1171.6 533.0L1173.3 533.1L1175.1 533.1L1176.9 533.2L1178.6 533.4L1180.4 533.5L1182.2 533.7L1183.9 534.0L1185.7 534.2L1187.5 534.5L1189.2 534.8L1191.0 535.2L1192.8 535.5L1194.5 535.9L1196.3 536.4L1198.0 536.8L1199.8 537.3L1201.5 537.7L1203.2 538.2L1205.0 538.8L1206.7 539.3L1208.4 539.8L1210.1 540.4L1211.8 540.9L1213.6 541.5L1215.3 542.1L1216.9 542.7L1218.6 543.4L1220.3 544.0L1222.0 544.6L1223.7 545.3L1225.3 545.9L1227.0 546.6L1228.7 547.3L1230.3 548.0L1232.0 548.7L1233.6 549.4L1235.3 550.1L1236.9 550.9L1238.6 551.6L1240.2 552.4L1241.8 553.1L1243.5 553.9L1245.1 554.6L1246.7 555.4L1248.4 556.2L1250.0 557.0L1251.6 557.8L1253.2 558.6L1254.8 559.4L1256.4 560.2L1258.1 561.0L1259.7 561.8L1261.3 562.6L1262.9 563.4L1264.5 564.2L1266.1 565.0L1267.7 565.8L1269.3 566.7L1270.9 567.5L1272.5 568.3L1274.1 569.1L1275.7 570.0L1277.3 570.8L1278.9 571.6L1280.5 572.4L1282.1 573.3L1283.7 574.1L1285.3 574.9L1286.9 575.7L1288.5 576.6L1290.1 577.4L1291.7 578.2L1293.3 579.1L1294.9 579.9L1296.4 580.7L1298.0 581.5L1299.6 582.4L1301.2 583.2L1302.8 584.0L1304.4 584.8L1306.0 585.6L1307.6 586.5L1309.2 587.3L1310.8 588.1L1312.4 588.9L1314.0 589.7L1315.6 590.5L1317.2 591.3L1318.9 592.1L1320.5 592.9L1322.1 593.7L1323.7 594.5L1325.3 595.3L1326.9 596.1L1328.5 596.8L1330.1 597.6L1331.8 598.4L1333.4 599.2L1335.0 599.9L1336.6 600.7L1338.3 601.4L1339.9 602.2L1341.5 602.9L1343.2 603.7L1344.8 604.4L1346.4 605.2L1348.1 605.9L1349.7 606.6L1351.4 607.3L1353.0 608.0L1354.7 608.7L1356.3 609.4L1358.0 610.1L1359.7 610.8L1361.3 611.5L1363.0 612.2L1364.7 612.9L1366.3 613.5L1368.0 614.2L1369.7 614.9L1371.3 615.5L1373.0 616.2L1374.7 616.9L1376.4 617.5L1378.0 618.2L1379.7 618.8L1381.4 619.5L1383.1 620.2L1384.7 620.8L1386.4 621.5L1388.1 622.2L1389.8 622.8L1391.4 623.5L1393.1 624.2L1394.8 624.8L1396.4 625.5L1398.1 626.2L1399.8 626.9L1401.4 627.6L1403.1 628.3L1404.7 629.0L1406.4 629.7L1408.1 630.3L1409.7 631.0L1411.4 631.7L1413.0 632.4L1414.7 633.1L1416.4 633.8L1418.0 634.5L1419.7 635.1L1421.4 635.8L1423.0 636.5L1424.7 637.1L1426.4 637.8L1428.1 638.4L1429.8 639.0L1431.4 639.6L1433.1 640.3L1434.8 640.9L1436.5 641.5L1438.2 642.0L1439.9 642.6L1441.6 643.2L1443.3 643.8L1445.0 644.3L1446.8 644.9L1448.5 645.4L1450.2 646.0L1451.9 646.5L1453.6 647.0L1455.4 647.5L1457.1 648.0L1458.8 648.5L1460.5 649.0L1462.3 649.5L1464.0 650.0L1465.7 650.4L1467.5 650.9L1469.2 651.4L1471.0 651.8L1472.7 652.3L1474.4 652.7L1476.2 653.1L1477.9 653.6L1479.7 654.0L1481.4 654.4L1483.2 654.8L1484.9 655.2L1486.7 655.6L1488.4 656.0L1490.2 656.4L1491.9 656.8L1493.7 657.2L1495.5 657.6L1497.2 657.9L1499.0 658.3L1500.7 658.7L1502.5 659.0L1504.3 659.4L1506.0 659.8L1507.8 660.1L1509.5 660.5L1511.3 660.8L1513.1 661.2L1514.8 661.5L1516.6 661.9L1518.4 662.2L1520.1 662.5L1521.9 662.9L1523.7 663.2L1525.4 663.5L1527.2 663.9L1529.0 664.2L1530.7 664.5L1532.5 664.9L1534.3 665.2L1536.1 665.5L1537.8 665.9L1539.6 666.2L1541.4 666.5L1543.1 666.8L1544.9 667.2L1546.7 667.5L1548.4 667.8L1550.2 668.2L1552.0 668.5L1553.7 668.8L1555.5 669.2L1557.3 669.5L1559.1 669.8L1560.8 670.2L1562.6 670.5L1564.4 670.8L1566.1 671.2L1567.9 671.5L1569.7 671.8L1571.4 672.2L1573.2 672.5L1575.0 672.8L1576.7 673.2L1578.5 673.5L1580.3 673.8L1582.0 674.2L1583.8 674.5L1585.6 674.8L1587.3 675.1L1589.1 675.4L1590.9 675.8L1592.7 676.1L1594.4 676.4L1596.2 676.7L1598.0 677.0L1599.7 677.3L1601.5 677.6L1603.3 677.9L1605.1 678.2L1606.8 678.5L1608.6 678.8L1610.4 679.0L1612.2 679.3L1614.0 679.6L1615.7 679.8L1617.5 680.1L1619.3 680.3L1621.1 680.6L1622.9 680.8L1624.6 681.0L1626.4 681.2L1628.2 681.4L1630.0 681.6L1631.8 681.8L1633.6 682.0L1635.4 682.2L1637.2 682.3L1638.9 682.5L1640.7 682.6L1642.5 682.7L1644.3 682.9L1646.1 683.0L1647.9 683.1L1649.7 683.2L1651.5 683.3L1653.3 683.4L1655.1 683.4L1656.9 683.5L1658.7 683.6L1660.5 683.7L1662.3 683.7L1664.1 683.8L1665.9 683.8L1667.7 683.9L1669.5 684.0L1671.3 684.0L1673.1 684.1L1674.9 684.1L1676.7 684.2L1678.5 684.2L1680.3 684.3L1682.1 684.3L1683.9 684.4L1685.7 684.5L1687.5 684.5L1689.3 684.6L1691.1 684.7L1692.9 684.7L1694.7 684.8L1696.5 684.9L1698.3 685.0L1700.1 685.1L1701.9 685.2L1703.6 685.3L1705.4 685.4L1707.2 685.6L1709.0 685.7L1710.8 685.8L1712.6 685.9L1714.4 686.1L1716.2 686.2L1718.0 686.4L1719.8 686.5L1721.6 686.6L1723.4 686.8L1725.2 687.0L1727.0 687.1L1728.8 687.3L1730.6 687.4L1732.3 687.6L1734.1 687.7L1735.9 687.9L1737.7 688.1L1739.5 688.2L1741.3 688.4L1743.1 688.6L1744.9 688.7L1746.7 688.9L1748.5 689.1L1750.3 689.2L1752.1 689.4L1753.8 689.6L1755.6 689.7L1757.4 689.9L1759.2 690.0L1761.0 690.2L1762.8 690.4L1764.6 690.5L1766.4 690.7L1768.2 690.8L1770.0 690.9L1771.8 691.1L1773.6 691.2L1775.4 691.4L1777.1 691.5L1778.9 691.6L1780.7 691.8L1782.5 691.9L1784.3 692.0L1786.1 692.1L1787.9 692.3L1789.7 692.4L1791.5 692.5L1793.3 692.6L1795.1 692.7L1796.9 692.8L1798.7 692.9L1800.5 693.1L1802.3 693.2L1804.1 693.3L1805.9 693.4L1807.7 693.5L1809.5 693.6L1811.3 693.7L1813.0 693.7L1814.8 693.8L1816.6 693.9L1818.4 694.0L1820.2 694.1L1822.0 694.2L1823.8 694.3L1825.6 694.3L1827.4 694.4L1829.2 694.5L1831.0 694.6L1832.8 694.6L1834.6 694.7L1836.4 694.8L1838.2 694.8L1840.0 694.9L1841.8 695.0L1843.6 695.0L1845.4 695.1L1847.2 695.2L1849.0 695.2L1850.8 695.3L1852.6 695.3L1854.4 695.4L1856.2 695.4L1858.0 695.5L1859.8 695.5L1861.6 695.6L1863.4 695.6L1865.2 695.7L1867.0 695.7L1868.8 695.8L1870.6 695.8L1872.4 695.8L1874.2 695.9L1876.0 695.9L1877.8 696.0L1879.6 696.0L1881.4 696.0L1883.2 696.1L1885.0 696.1L1886.8 696.1L1888.6 696.1L1890.4 696.2L1892.2 696.2L1894.0 696.2L1895.8 696.3L1897.6 696.3L1899.4 696.3L1901.2 696.3L1903.0 696.3L1904.8 696.4L1906.6 696.4L1908.4 696.4L1910.1 696.4L1911.9 696.4L1913.7 696.4L1915.5 696.5L1917.3 696.5L1919.1 696.5L1920.9 696.5L1922.7 696.5L1924.5 696.5L1926.3 696.5L1928.1 696.5L1929.9 696.5L1931.7 696.6L1933.5 696.6L1935.3 696.6L1937.1 696.6L1938.9 696.6L1940.7 696.6L1942.5 696.6L1944.3 696.6L1946.1 696.6L1947.9 696.6L1949.7 696.6L1951.5 696.6L1953.3 696.6L1955.1 696.6L1956.9 696.6L1958.7 696.6L1960.5 696.6L1962.3 696.6L1964.1 696.6L1965.9 696.6L1967.7 696.6L1969.5 696.6L1971.3 696.6L1973.1 696.6L1974.9 696.6L1976.7 696.6L1978.5 696.6L1980.3 696.6" fill="none" stroke="#000080" stroke-width="4.0" stroke-linejoin="round"/>
<g fill="#000080" clip-path="url(#c1i)"><path d="M1117.0 549.4L1124.4 564.2L1109.6 564.2Z"/><path d="M1203.3 530.9L1210.7 545.7L1195.9 545.7Z"/><path d="M1289.6 569.8L1297.0 584.6L1282.2 584.6Z"/><path d="M1375.9 609.9L1383.3 624.7L1368.5 624.7Z"/><path d="M1462.2 642.1L1469.6 656.9L1454.8 656.9Z"/><path d="M1548.5 660.4L1555.9 675.2L1541.1 675.2Z"/><path d="M1634.8 674.7L1642.2 689.5L1627.4 689.5Z"/><path d="M1721.1 679.2L1728.5 694.0L1713.7 694.0Z"/><path d="M1807.4 686.0L1814.8 700.8L1800.0 700.8Z"/><path d="M1893.7 688.8L1901.1 703.6L1886.3 703.6Z"/><path d="M1980.0 689.2L1987.4 704.0L1972.6 704.0Z"/></g>
<path d="M1117.1 556.8L1117.9 554.8L1118.6 552.7L1119.3 550.7L1120.0 548.6L1120.6 546.5L1121.2 544.5L1121.8 542.4L1122.4 540.3L1122.9 538.2L1123.5 536.1L1124.0 534.1L1124.5 532.0L1125.0 529.9L1125.5 527.7L1125.9 525.6L1126.4 523.5L1126.8 521.4L1127.3 519.3L1127.7 517.2L1128.1 515.1L1128.6 512.9L1129.0 510.8L1129.4 508.7L1129.8 506.6L1130.3 504.5L1130.7 502.4L1131.1 500.2L1131.6 498.1L1132.0 496.0L1132.5 493.9L1133.0 491.8L1133.5 489.7L1134.0 487.6L1134.5 485.5L1135.1 483.4L1135.6 481.3L1136.2 479.2L1136.8 477.2L1137.4 475.1L1138.1 473.0L1138.7 471.0L1139.4 468.9L1140.1 466.9L1140.8 464.8L1141.6 462.8L1142.3 460.8L1143.1 458.7L1143.8 456.7L1144.6 454.7L1145.4 452.7L1146.2 450.7L1147.0 448.7L1147.9 446.7L1148.7 444.7L1149.6 442.7L1150.5 440.8L1151.3 438.8L1152.2 436.8L1153.1 434.9L1154.0 432.9L1154.9 430.9L1155.8 429.0L1156.7 427.0L1157.6 425.0L1158.5 423.1L1159.4 421.1L1160.3 419.1L1161.2 417.1L1162.0 415.1L1162.9 413.1L1163.7 411.1L1164.6 409.1L1165.5 407.2L1166.5 405.3L1167.5 403.4L1168.7 401.6L1169.9 399.9L1171.4 398.2L1172.9 396.6L1174.5 395.2L1176.3 393.8L1178.2 392.5L1180.1 391.3L1182.1 390.2L1184.2 389.2L1186.3 388.4L1188.5 387.6L1190.7 386.9L1193.0 386.4L1195.2 386.0L1197.4 385.7L1199.6 385.6L1201.8 385.5L1204.0 385.6L1206.1 385.9L1208.2 386.2L1210.3 386.7L1212.3 387.2L1214.4 387.9L1216.3 388.6L1218.3 389.5L1220.2 390.4L1222.1 391.4L1224.0 392.4L1225.9 393.6L1227.7 394.7L1229.5 396.0L1231.3 397.2L1233.1 398.5L1234.8 399.8L1236.6 401.1L1238.3 402.5L1240.0 403.9L1241.7 405.2L1243.3 406.6L1245.0 408.0L1246.7 409.5L1248.3 410.9L1249.9 412.3L1251.5 413.8L1253.1 415.3L1254.7 416.7L1256.3 418.2L1257.8 419.7L1259.4 421.2L1260.9 422.7L1262.4 424.3L1264.0 425.8L1265.5 427.3L1267.0 428.9L1268.5 430.4L1270.0 432.0L1271.5 433.5L1273.0 435.1L1274.5 436.7L1275.9 438.2L1277.4 439.8L1278.9 441.4L1280.4 443.0L1281.8 444.6L1283.3 446.2L1284.8 447.7L1286.2 449.3L1287.7 450.9L1289.1 452.5L1290.6 454.1L1292.1 455.7L1293.6 457.2L1295.0 458.8L1296.5 460.4L1298.0 462.0L1299.5 463.5L1301.0 465.1L1302.5 466.7L1304.0 468.2L1305.5 469.8L1307.0 471.3L1308.5 472.9L1310.0 474.4L1311.5 475.9L1313.0 477.5L1314.5 479.0L1316.1 480.5L1317.6 482.1L1319.1 483.6L1320.7 485.1L1322.2 486.6L1323.7 488.1L1325.3 489.7L1326.8 491.2L1328.4 492.7L1329.9 494.2L1331.5 495.7L1333.0 497.2L1334.6 498.7L1336.1 500.2L1337.7 501.7L1339.2 503.2L1340.8 504.7L1342.3 506.2L1343.9 507.7L1345.5 509.2L1347.0 510.7L1348.6 512.2L1350.1 513.7L1351.7 515.2L1353.2 516.7L1354.8 518.2L1356.3 519.8L1357.9 521.3L1359.5 522.8L1361.0 524.3L1362.6 525.8L1364.1 527.3L1365.6 528.8L1367.2 530.3L1368.7 531.8L1370.3 533.3L1371.8 534.9L1373.4 536.4L1374.9 537.9L1376.4 539.4L1378.0 541.0L1379.5 542.5L1381.0 544.0L1382.5 545.6L1384.0 547.1L1385.6 548.6L1387.1 550.2L1388.6 551.7L1390.1 553.3L1391.6 554.9L1393.1 556.4L1394.6 558.0L1396.0 559.5L1397.5 561.1L1399.0 562.7L1400.5 564.2L1402.0 565.8L1403.5 567.3L1405.0 568.8L1406.6 570.3L1408.2 571.7L1409.8 573.1L1411.4 574.5L1413.1 575.8L1414.9 577.0L1416.6 578.2L1418.4 579.3L1420.3 580.4L1422.1 581.5L1424.0 582.6L1425.9 583.6L1427.7 584.6L1429.6 585.7L1431.5 586.7L1433.4 587.7L1435.3 588.8L1437.1 589.8L1439.0 590.9L1440.9 592.0L1442.7 593.0L1444.6 594.1L1446.4 595.2L1448.3 596.3L1450.1 597.4L1452.0 598.5L1453.8 599.6L1455.7 600.8L1457.5 601.9L1459.4 603.1L1461.2 604.2L1463.1 605.4L1464.9 606.5L1466.7 607.7L1468.6 608.9L1470.4 610.0L1472.3 611.2L1474.1 612.3L1476.0 613.5L1477.9 614.6L1479.7 615.7L1481.6 616.8L1483.5 617.9L1485.4 619.0L1487.3 620.1L1489.2 621.2L1491.0 622.2L1493.0 623.2L1494.9 624.3L1496.8 625.3L1498.7 626.3L1500.6 627.3L1502.5 628.3L1504.5 629.2L1506.4 630.2L1508.3 631.1L1510.3 632.1L1512.2 633.0L1514.2 633.9L1516.2 634.8L1518.1 635.7L1520.1 636.6L1522.1 637.4L1524.0 638.3L1526.0 639.2L1528.0 640.0L1530.0 640.8L1532.0 641.6L1534.0 642.4L1536.0 643.2L1538.0 644.0L1540.0 644.8L1542.0 645.6L1544.0 646.3L1546.0 647.1L1548.1 647.8L1550.1 648.5L1552.1 649.3L1554.1 650.0L1556.2 650.7L1558.2 651.4L1560.3 652.1L1562.3 652.7L1564.4 653.4L1566.4 654.1L1568.5 654.7L1570.5 655.3L1572.6 656.0L1574.6 656.6L1576.7 657.2L1578.8 657.8L1580.9 658.4L1582.9 659.0L1585.0 659.6L1587.1 660.2L1589.2 660.7L1591.3 661.3L1593.3 661.9L1595.4 662.4L1597.5 662.9L1599.6 663.5L1601.7 664.0L1603.8 664.5L1605.9 665.0L1608.0 665.5L1610.1 666.0L1612.2 666.5L1614.3 667.0L1616.5 667.5L1618.6 667.9L1620.7 668.4L1622.8 668.9L1624.9 669.3L1627.0 669.8L1629.2 670.2L1631.3 670.6L1633.4 671.1L1635.5 671.5L1637.7 671.9L1639.8 672.3L1641.9 672.7L1644.1 673.1L1646.2 673.5L1648.3 673.9L1650.5 674.3L1652.6 674.7L1654.7 675.1L1656.9 675.4L1659.0 675.8L1661.1 676.2L1663.3 676.5L1665.4 676.9L1667.6 677.2L1669.7 677.6L1671.9 677.9L1674.0 678.2L1676.1 678.6L1678.3 678.9L1680.4 679.2L1682.6 679.5L1684.7 679.9L1686.9 680.2L1689.0 680.5L1691.2 680.8L1693.3 681.1L1695.4 681.4L1697.6 681.7L1699.7 682.0L1701.9 682.3L1704.0 682.6L1706.2 682.9L1708.3 683.1L1710.5 683.4L1712.6 683.7L1714.8 684.0L1716.9 684.2L1719.1 684.5L1721.2 684.8L1723.4 685.0L1725.5 685.3L1727.7 685.5L1729.8 685.8L1731.9 686.0L1734.1 686.3L1736.2 686.5L1738.4 686.7L1740.5 687.0L1742.7 687.2L1744.8 687.4L1747.0 687.7L1749.1 687.9L1751.3 688.1L1753.4 688.3L1755.6 688.5L1757.7 688.7L1759.9 688.9L1762.0 689.1L1764.2 689.3L1766.3 689.5L1768.5 689.7L1770.6 689.9L1772.8 690.1L1774.9 690.3L1777.1 690.5L1779.2 690.7L1781.4 690.8L1783.5 691.0L1785.7 691.2L1787.9 691.4L1790.0 691.5L1792.2 691.7L1794.3 691.9L1796.5 692.0L1798.6 692.2L1800.8 692.3L1802.9 692.5L1805.1 692.6L1807.2 692.8L1809.4 692.9L1811.5 693.0L1813.7 693.2L1815.8 693.3L1818.0 693.5L1820.2 693.6L1822.3 693.7L1824.5 693.8L1826.6 694.0L1828.8 694.1L1830.9 694.2L1833.1 694.3L1835.2 694.4L1837.4 694.5L1839.6 694.6L1841.7 694.7L1843.9 694.8L1846.0 694.9L1848.2 695.0L1850.3 695.1L1852.5 695.2L1854.6 695.3L1856.8 695.4L1859.0 695.5L1861.1 695.6L1863.3 695.6L1865.4 695.7L1867.6 695.8L1869.8 695.9L1871.9 695.9L1874.1 696.0L1876.2 696.1L1878.4 696.1L1880.6 696.2L1882.7 696.3L1884.9 696.3L1887.0 696.4L1889.2 696.4L1891.3 696.5L1893.5 696.5L1895.7 696.6L1897.8 696.6L1900.0 696.6L1902.2 696.7L1904.3 696.7L1906.5 696.8L1908.6 696.8L1910.8 696.8L1913.0 696.9L1915.1 696.9L1917.3 696.9L1919.5 696.9L1921.6 696.9L1923.8 697.0L1925.9 697.0L1928.1 697.0L1930.3 697.0L1932.4 697.0L1934.6 697.0L1936.8 697.0L1938.9 697.0L1941.1 697.0L1943.3 697.0L1945.4 697.0L1947.6 697.0L1949.7 697.0L1951.9 697.0L1954.1 697.0L1956.2 697.0L1958.4 697.0L1960.6 697.0L1962.7 697.0L1964.9 697.0L1967.1 696.9L1969.2 696.9L1971.4 696.9L1973.6 696.9L1975.8 696.8L1977.9 696.8L1980.1 696.8" fill="none" stroke="#ff0000" stroke-width="4.0" stroke-linejoin="round"/>
<g fill="#ff0000" clip-path="url(#c1i)"><path d="M1117.0 547.0L1126.8 556.8L1117.0 566.6L1107.2 556.8Z"/><path d="M1168.8 391.6L1178.6 401.4L1168.8 411.2L1159.0 401.4Z"/><path d="M1220.6 380.8L1230.4 390.6L1220.6 400.4L1210.8 390.6Z"/><path d="M1272.3 424.6L1282.1 434.4L1272.3 444.2L1262.5 434.4Z"/><path d="M1324.1 478.7L1333.9 488.5L1324.1 498.3L1314.3 488.5Z"/><path d="M1375.9 529.1L1385.7 538.9L1375.9 548.7L1366.1 538.9Z"/><path d="M1427.7 574.8L1437.5 584.6L1427.7 594.4L1417.9 584.6Z"/><path d="M1479.5 605.7L1489.3 615.5L1479.5 625.3L1469.7 615.5Z"/><path d="M1531.2 631.5L1541.0 641.3L1531.2 651.1L1521.4 641.3Z"/><path d="M1583.0 649.2L1592.8 659.0L1583.0 668.8L1573.2 659.0Z"/><path d="M1634.8 661.5L1644.6 671.3L1634.8 681.1L1625.0 671.3Z"/><path d="M1686.6 670.3L1696.4 680.1L1686.6 689.9L1676.8 680.1Z"/><path d="M1738.4 676.9L1748.2 686.7L1738.4 696.5L1728.6 686.7Z"/><path d="M1790.1 681.7L1799.9 691.5L1790.1 701.3L1780.3 691.5Z"/><path d="M1841.9 684.9L1851.7 694.7L1841.9 704.5L1832.1 694.7Z"/><path d="M1893.7 686.7L1903.5 696.5L1893.7 706.3L1883.9 696.5Z"/><path d="M1945.5 687.2L1955.3 697.0L1945.5 706.8L1935.7 697.0Z"/></g>
<path d="M1117.2 556.9L1117.5 554.3L1117.9 551.7L1118.2 549.0L1118.5 546.4L1118.9 543.8L1119.2 541.1L1119.6 538.5L1119.9 535.9L1120.2 533.2L1120.6 530.6L1120.9 528.0L1121.2 525.4L1121.6 522.7L1121.9 520.1L1122.2 517.5L1122.6 514.9L1122.9 512.3L1123.2 509.7L1123.5 507.0L1123.9 504.4L1124.2 501.8L1124.5 499.2L1124.8 496.6L1125.2 494.0L1125.5 491.4L1125.8 488.8L1126.1 486.2L1126.5 483.6L1126.8 481.0L1127.1 478.4L1127.4 475.8L1127.8 473.2L1128.1 470.6L1128.4 468.0L1128.8 465.4L1129.1 462.8L1129.4 460.2L1129.8 457.6L1130.1 455.0L1130.5 452.4L1130.8 449.8L1131.2 447.2L1131.5 444.6L1131.9 442.0L1132.2 439.4L1132.6 436.8L1133.0 434.2L1133.3 431.7L1133.7 429.1L1134.1 426.5L1134.4 423.9L1134.8 421.3L1135.2 418.7L1135.6 416.1L1136.0 413.5L1136.4 411.0L1136.8 408.4L1137.2 405.8L1137.6 403.2L1138.0 400.6L1138.4 398.0L1138.8 395.5L1139.3 392.9L1139.7 390.3L1140.1 387.7L1140.6 385.1L1141.0 382.5L1141.5 380.0L1142.0 377.4L1142.4 374.8L1142.9 372.2L1143.4 369.6L1143.9 367.1L1144.4 364.5L1144.8 361.9L1145.4 359.3L1145.9 356.7L1146.4 354.2L1146.9 351.6L1147.4 349.0L1148.0 346.4L1148.5 343.8L1149.1 341.3L1149.6 338.7L1150.2 336.1L1150.8 333.5L1151.4 330.9L1152.0 328.4L1152.6 325.8L1153.2 323.2L1153.8 320.6L1154.4 318.0L1155.1 315.5L1155.7 312.9L1156.4 310.3L1157.0 307.7L1157.7 305.1L1158.4 302.5L1159.1 300.0L1159.8 297.4L1160.5 294.8L1161.2 292.2L1162.0 289.6L1162.7 287.1L1163.5 284.5L1164.3 282.0L1165.2 279.5L1166.1 277.0L1167.1 274.5L1168.1 272.1L1169.1 269.8L1170.3 267.4L1171.5 265.2L1172.8 263.0L1174.1 260.8L1175.6 258.7L1177.1 256.7L1178.8 254.8L1180.5 252.9L1182.3 251.2L1184.3 249.5L1186.4 247.9L1188.6 246.4L1190.9 245.0L1193.2 243.8L1195.6 242.8L1198.1 241.9L1200.6 241.2L1203.1 240.8L1205.6 240.5L1208.1 240.5L1210.5 240.8L1212.9 241.4L1215.3 242.2L1217.6 243.3L1219.8 244.8L1222.0 246.4L1224.0 248.2L1226.1 249.9L1228.0 251.8L1230.0 253.7L1231.8 255.6L1233.6 257.5L1235.4 259.5L1237.2 261.5L1238.8 263.5L1240.5 265.6L1242.1 267.6L1243.7 269.7L1245.2 271.9L1246.7 274.0L1248.2 276.2L1249.7 278.4L1251.1 280.6L1252.5 282.8L1253.9 285.0L1255.3 287.3L1256.6 289.5L1258.0 291.8L1259.3 294.1L1260.7 296.3L1262.0 298.6L1263.3 300.9L1264.6 303.2L1265.9 305.5L1267.3 307.8L1268.6 310.0L1269.9 312.3L1271.3 314.6L1272.6 316.8L1274.0 319.1L1275.4 321.3L1276.8 323.6L1278.2 325.8L1279.6 328.0L1281.0 330.2L1282.5 332.4L1283.9 334.6L1285.4 336.8L1286.9 338.9L1288.4 341.1L1289.8 343.3L1291.3 345.5L1292.8 347.6L1294.3 349.8L1295.8 352.0L1297.2 354.1L1298.7 356.3L1300.2 358.5L1301.6 360.6L1303.1 362.8L1304.5 365.0L1306.0 367.2L1307.4 369.4L1308.8 371.6L1310.2 373.8L1311.6 376.0L1313.0 378.2L1314.4 380.4L1315.8 382.6L1317.2 384.9L1318.6 387.1L1320.0 389.3L1321.4 391.5L1322.8 393.7L1324.2 396.0L1325.5 398.2L1326.9 400.4L1328.3 402.7L1329.7 404.9L1331.0 407.1L1332.4 409.3L1333.8 411.6L1335.2 413.8L1336.5 416.0L1337.9 418.3L1339.3 420.5L1340.7 422.7L1342.1 425.0L1343.5 427.2L1344.9 429.4L1346.3 431.6L1347.7 433.9L1349.1 436.1L1350.5 438.3L1351.9 440.5L1353.3 442.7L1354.8 444.9L1356.2 447.2L1357.6 449.4L1359.1 451.6L1360.5 453.8L1362.0 456.0L1363.4 458.1L1364.9 460.3L1366.4 462.5L1367.9 464.7L1369.4 466.9L1370.9 469.1L1372.4 471.2L1373.9 473.4L1375.4 475.5L1376.9 477.7L1378.4 479.8L1380.0 482.0L1381.5 484.1L1383.0 486.2L1384.6 488.4L1386.2 490.5L1387.7 492.6L1389.3 494.7L1390.9 496.8L1392.5 498.9L1394.1 501.0L1395.7 503.1L1397.4 505.1L1399.0 507.2L1400.6 509.2L1402.3 511.3L1403.9 513.3L1405.6 515.3L1407.3 517.4L1409.0 519.4L1410.7 521.4L1412.4 523.4L1414.1 525.4L1415.8 527.3L1417.5 529.3L1419.3 531.3L1421.1 533.2L1422.8 535.1L1424.6 537.1L1426.4 539.0L1428.2 540.9L1430.0 542.8L1431.8 544.7L1433.6 546.5L1435.5 548.4L1437.3 550.3L1439.2 552.1L1441.1 553.9L1443.0 555.7L1444.9 557.5L1446.8 559.3L1448.7 561.1L1450.6 562.9L1452.6 564.6L1454.5 566.4L1456.5 568.1L1458.5 569.9L1460.5 571.6L1462.5 573.3L1464.5 575.0L1466.5 576.6L1468.5 578.3L1470.5 580.0L1472.6 581.6L1474.6 583.2L1476.7 584.8L1478.8 586.5L1480.9 588.1L1483.0 589.6L1485.1 591.2L1487.2 592.8L1489.3 594.3L1491.4 595.9L1493.6 597.4L1495.7 598.9L1497.9 600.4L1500.0 601.9L1502.2 603.4L1504.4 604.8L1506.6 606.3L1508.8 607.7L1511.0 609.2L1513.2 610.6L1515.4 612.0L1517.6 613.4L1519.9 614.8L1522.1 616.1L1524.4 617.5L1526.6 618.8L1528.9 620.2L1531.2 621.5L1533.5 622.8L1535.8 624.1L1538.1 625.4L1540.4 626.7L1542.7 627.9L1545.0 629.2L1547.3 630.4L1549.7 631.6L1552.0 632.8L1554.3 634.0L1556.7 635.2L1559.1 636.4L1561.4 637.6L1563.8 638.7L1566.2 639.9L1568.6 641.0L1570.9 642.1L1573.3 643.2L1575.7 644.3L1578.1 645.4L1580.6 646.4L1583.0 647.5L1585.4 648.5L1587.8 649.5L1590.3 650.6L1592.7 651.6L1595.1 652.5L1597.6 653.5L1600.0 654.5L1602.5 655.4L1605.0 656.3L1607.4 657.3L1609.9 658.1L1612.4 659.0L1614.9 659.9L1617.4 660.7L1619.9 661.5L1622.4 662.3L1624.9 663.0L1627.4 663.8L1629.9 664.5L1632.5 665.1L1635.0 665.8L1637.5 666.4L1640.1 667.0L1642.6 667.6L1645.2 668.1L1647.8 668.6L1650.3 669.1L1652.9 669.6L1655.5 670.0L1658.1 670.5L1660.7 670.9L1663.3 671.3L1665.9 671.7L1668.5 672.1L1671.1 672.5L1673.7 672.8L1676.3 673.2L1678.9 673.6L1681.5 673.9L1684.1 674.3L1686.7 674.7L1689.3 675.0L1691.9 675.4L1694.5 675.8L1697.1 676.2L1699.7 676.6L1702.3 677.0L1704.9 677.4L1707.5 677.8L1710.1 678.3L1712.7 678.7L1715.3 679.2L1717.9 679.6L1720.4 680.1L1723.0 680.5L1725.6 681.0L1728.2 681.4L1730.8 681.9L1733.4 682.3L1736.0 682.8L1738.6 683.2L1741.2 683.7L1743.8 684.1L1746.4 684.5L1749.0 685.0L1751.6 685.4L1754.2 685.8L1756.8 686.2L1759.4 686.6L1762.0 687.0L1764.6 687.4L1767.2 687.8L1769.8 688.1L1772.4 688.5L1775.0 688.8L1777.6 689.1L1780.2 689.5L1782.8 689.8L1785.4 690.1L1788.0 690.4L1790.6 690.6L1793.2 690.9L1795.8 691.2L1798.5 691.4L1801.1 691.7L1803.7 691.9L1806.3 692.1L1808.9 692.3L1811.5 692.5L1814.2 692.8L1816.8 692.9L1819.4 693.1L1822.0 693.3L1824.7 693.5L1827.3 693.6L1829.9 693.8L1832.5 694.0L1835.1 694.1L1837.8 694.2L1840.4 694.4L1843.0 694.5L1845.7 694.6L1848.3 694.7L1850.9 694.8L1853.5 694.9L1856.2 695.0L1858.8 695.1L1861.4 695.2L1864.1 695.3L1866.7 695.4L1869.3 695.4L1871.9 695.5L1874.6 695.6L1877.2 695.6L1879.8 695.7L1882.5 695.7L1885.1 695.8L1887.7 695.8L1890.4 695.9L1893.0 695.9L1895.6 695.9L1898.3 696.0L1900.9 696.0L1903.5 696.0L1906.2 696.1L1908.8 696.1L1911.4 696.1L1914.1 696.1L1916.7 696.1L1919.3 696.2L1922.0 696.2L1924.6 696.2L1927.2 696.2L1929.8 696.2L1932.5 696.2L1935.1 696.2L1937.7 696.2L1940.4 696.2L1943.0 696.3L1945.6 696.3L1948.3 696.3L1950.9 696.3L1953.5 696.3L1956.1 696.3L1958.8 696.3L1961.4 696.3L1964.0 696.4L1966.6 696.4L1969.3 696.4L1971.9 696.4L1974.5 696.4L1977.1 696.5L1979.7 696.5" fill="none" stroke="#000000" stroke-width="4.0" stroke-linejoin="round"/>
<g fill="#000000" clip-path="url(#c1i)"><circle cx="1117.0" cy="556.9" r="10.0"/><circle cx="1203.3" cy="240.7" r="10.0"/><circle cx="1289.6" cy="342.9" r="10.0"/><circle cx="1375.9" cy="476.3" r="10.0"/><circle cx="1462.2" cy="573.0" r="10.0"/><circle cx="1548.5" cy="631.0" r="10.0"/><circle cx="1634.8" cy="665.7" r="10.0"/><circle cx="1721.1" cy="680.2" r="10.0"/><circle cx="1807.4" cy="692.2" r="10.0"/><circle cx="1893.7" cy="695.9" r="10.0"/><circle cx="1980.0" cy="696.5" r="10.0"/></g>
<path d="M1116.7 556.7L1117.0 553.4L1117.2 550.0L1117.4 546.7L1117.6 543.3L1117.9 540.0L1118.1 536.6L1118.3 533.3L1118.5 529.9L1118.8 526.6L1119.0 523.2L1119.2 519.9L1119.5 516.5L1119.7 513.2L1119.9 509.8L1120.2 506.4L1120.4 503.1L1120.6 499.7L1120.9 496.4L1121.1 493.0L1121.3 489.7L1121.6 486.3L1121.8 483.0L1122.1 479.6L1122.3 476.3L1122.6 472.9L1122.8 469.6L1123.0 466.2L1123.3 462.9L1123.5 459.5L1123.8 456.2L1124.0 452.8L1124.3 449.4L1124.5 446.1L1124.8 442.7L1125.1 439.4L1125.3 436.0L1125.6 432.7L1125.8 429.3L1126.1 426.0L1126.4 422.6L1126.6 419.3L1126.9 415.9L1127.2 412.6L1127.4 409.2L1127.7 405.9L1128.0 402.5L1128.2 399.1L1128.5 395.8L1128.8 392.4L1129.1 389.1L1129.4 385.7L1129.6 382.4L1129.9 379.0L1130.2 375.7L1130.5 372.3L1130.8 369.0L1131.1 365.6L1131.4 362.3L1131.7 358.9L1132.0 355.6L1132.3 352.2L1132.6 348.9L1132.9 345.5L1133.2 342.2L1133.5 338.8L1133.8 335.5L1134.1 332.1L1134.4 328.8L1134.8 325.4L1135.1 322.1L1135.4 318.7L1135.7 315.4L1136.0 312.0L1136.4 308.7L1136.7 305.3L1137.0 302.0L1137.4 298.6L1137.7 295.3L1138.1 291.9L1138.4 288.6L1138.8 285.2L1139.1 281.9L1139.5 278.6L1139.8 275.2L1140.2 271.9L1140.5 268.5L1140.9 265.2L1141.3 261.8L1141.6 258.5L1142.0 255.2L1142.4 251.8L1142.7 248.5L1143.1 245.1L1143.5 241.8L1143.9 238.5L1144.3 235.1L1144.7 231.8L1145.1 228.4L1145.5 225.1L1145.9 221.8L1146.3 218.4L1146.7 215.1L1147.1 211.8L1147.5 208.4L1147.9 205.1L1148.3 201.8L1148.8 198.4L1149.2 195.1L1149.6 191.8L1150.0 188.4L1150.5 185.1L1150.9 181.8L1151.4 178.4L1151.8 175.1L1152.3 171.8L1152.7 168.5L1153.2 165.1L1153.6 161.8L1154.1 158.5L1154.6 155.2L1155.0 151.8L1155.5 148.5L1156.0 145.2L1156.5 141.9L1157.0 138.6L1157.6 135.3L1158.1 132.0L1158.7 128.6L1159.3 125.3L1159.9 122.0L1160.5 118.7L1161.2 115.5L1161.8 112.2L1162.5 108.9L1163.3 105.6L1164.0 102.3L1164.8 99.1L1165.6 95.8L1166.5 92.5L1167.3 89.3L1168.3 86.0L1169.2 82.8L1170.2 79.6L1171.2 76.3L1172.3 73.1L1173.4 69.9L1174.6 66.7L1175.8 63.5L1177.0 60.3L1178.3 57.1L1179.6 54.0L1181.1 50.9L1182.6 47.8L1184.3 45.0L1186.2 42.2L1188.3 39.8L1190.6 37.5L1193.2 35.6L1196.1 34.0L1199.3 32.7L1202.6 31.9L1206.0 31.5L1209.3 31.6L1212.5 32.2L1215.5 33.4L1218.3 35.1L1220.7 37.3L1223.0 39.9L1225.1 42.7L1227.1 45.5L1229.0 48.4L1230.9 51.3L1232.8 54.2L1234.6 57.1L1236.3 60.0L1238.0 62.9L1239.7 65.8L1241.2 68.8L1242.8 71.7L1244.3 74.7L1245.8 77.7L1247.2 80.7L1248.7 83.7L1250.1 86.8L1251.5 89.8L1252.9 92.8L1254.3 95.9L1255.6 98.9L1257.0 102.0L1258.3 105.1L1259.7 108.2L1261.0 111.3L1262.3 114.4L1263.6 117.5L1264.9 120.6L1266.2 123.7L1267.4 126.8L1268.7 129.9L1269.9 133.1L1271.2 136.2L1272.4 139.3L1273.6 142.5L1274.8 145.6L1276.0 148.8L1277.2 151.9L1278.4 155.1L1279.6 158.2L1280.8 161.4L1282.0 164.5L1283.1 167.7L1284.3 170.8L1285.4 174.0L1286.6 177.1L1287.7 180.3L1288.9 183.4L1290.0 186.6L1291.1 189.8L1292.3 192.9L1293.4 196.1L1294.6 199.2L1295.7 202.4L1296.9 205.5L1298.0 208.7L1299.2 211.8L1300.4 214.9L1301.5 218.1L1302.7 221.2L1303.9 224.4L1305.1 227.5L1306.3 230.6L1307.5 233.7L1308.7 236.9L1309.9 240.0L1311.2 243.1L1312.4 246.2L1313.7 249.4L1314.9 252.5L1316.2 255.6L1317.4 258.7L1318.7 261.8L1320.0 264.9L1321.2 268.0L1322.5 271.1L1323.8 274.2L1325.1 277.3L1326.4 280.5L1327.7 283.6L1329.0 286.7L1330.3 289.7L1331.6 292.8L1332.9 295.9L1334.3 299.0L1335.6 302.1L1336.9 305.2L1338.2 308.3L1339.6 311.4L1340.9 314.5L1342.3 317.6L1343.6 320.7L1344.9 323.7L1346.3 326.8L1347.7 329.9L1349.0 333.0L1350.4 336.1L1351.7 339.1L1353.1 342.2L1354.5 345.3L1355.9 348.4L1357.3 351.4L1358.7 354.5L1360.1 357.5L1361.5 360.6L1362.9 363.7L1364.3 366.7L1365.7 369.8L1367.2 372.8L1368.6 375.8L1370.0 378.9L1371.5 381.9L1372.9 384.9L1374.4 388.0L1375.9 391.0L1377.4 394.0L1378.9 397.0L1380.3 400.0L1381.9 403.0L1383.4 406.0L1384.9 409.0L1386.4 411.9L1388.0 414.9L1389.5 417.9L1391.1 420.9L1392.6 423.8L1394.2 426.8L1395.8 429.7L1397.4 432.7L1399.0 435.6L1400.6 438.6L1402.2 441.5L1403.9 444.4L1405.5 447.4L1407.1 450.3L1408.8 453.2L1410.5 456.1L1412.1 459.0L1413.8 461.9L1415.5 464.8L1417.2 467.7L1418.9 470.6L1420.7 473.5L1422.4 476.4L1424.2 479.3L1425.9 482.2L1427.7 485.1L1429.5 487.9L1431.3 490.8L1433.1 493.6L1434.9 496.4L1436.8 499.3L1438.6 502.1L1440.5 504.9L1442.4 507.6L1444.3 510.4L1446.3 513.2L1448.2 515.9L1450.2 518.6L1452.2 521.3L1454.2 524.0L1456.2 526.7L1458.3 529.3L1460.4 532.0L1462.5 534.6L1464.6 537.2L1466.8 539.7L1469.0 542.3L1471.2 544.8L1473.4 547.3L1475.7 549.7L1478.0 552.2L1480.3 554.6L1482.6 557.0L1485.0 559.3L1487.4 561.7L1489.8 564.0L1492.3 566.3L1494.8 568.5L1497.3 570.8L1499.8 573.0L1502.3 575.2L1504.9 577.4L1507.4 579.6L1510.0 581.7L1512.6 583.9L1515.2 586.0L1517.9 588.1L1520.5 590.2L1523.2 592.3L1525.8 594.3L1528.5 596.4L1531.2 598.5L1533.9 600.5L1536.6 602.5L1539.3 604.6L1542.0 606.6L1544.7 608.6L1547.4 610.6L1550.1 612.6L1552.8 614.6L1555.5 616.6L1558.3 618.6L1561.0 620.5L1563.7 622.5L1566.5 624.4L1569.2 626.3L1572.0 628.2L1574.8 630.0L1577.6 631.8L1580.5 633.6L1583.4 635.3L1586.3 636.9L1589.2 638.5L1592.2 640.0L1595.2 641.5L1598.2 642.9L1601.3 644.3L1604.4 645.6L1607.5 646.9L1610.6 648.1L1613.8 649.3L1617.0 650.4L1620.2 651.5L1623.4 652.6L1626.6 653.6L1629.8 654.7L1633.1 655.7L1636.3 656.6L1639.5 657.6L1642.8 658.6L1646.0 659.5L1649.3 660.4L1652.5 661.3L1655.8 662.2L1659.0 663.1L1662.3 664.0L1665.6 664.8L1668.8 665.7L1672.1 666.5L1675.3 667.3L1678.6 668.1L1681.9 668.9L1685.2 669.7L1688.4 670.4L1691.7 671.1L1695.0 671.9L1698.3 672.6L1701.6 673.3L1704.8 674.0L1708.1 674.6L1711.4 675.3L1714.7 675.9L1718.0 676.5L1721.3 677.2L1724.6 677.7L1727.9 678.3L1731.2 678.9L1734.5 679.5L1737.8 680.0L1741.2 680.5L1744.5 681.1L1747.8 681.6L1751.1 682.0L1754.4 682.5L1757.7 683.0L1761.1 683.4L1764.4 683.9L1767.7 684.3L1771.1 684.7L1774.4 685.1L1777.7 685.5L1781.1 685.9L1784.4 686.2L1787.7 686.6L1791.1 686.9L1794.4 687.3L1797.8 687.6L1801.1 687.9L1804.5 688.2L1807.8 688.5L1811.2 688.8L1814.5 689.0L1817.9 689.3L1821.3 689.6L1824.6 689.8L1828.0 690.0L1831.3 690.3L1834.7 690.5L1838.0 690.7L1841.4 690.9L1844.8 691.1L1848.1 691.3L1851.5 691.5L1854.9 691.6L1858.2 691.8L1861.6 692.0L1865.0 692.1L1868.3 692.3L1871.7 692.4L1875.1 692.5L1878.4 692.7L1881.8 692.8L1885.2 692.9L1888.5 693.1L1891.9 693.2L1895.3 693.3L1898.6 693.4L1902.0 693.5L1905.4 693.6L1908.7 693.7L1912.1 693.8L1915.5 693.9L1918.8 694.0L1922.2 694.1L1925.6 694.2L1928.9 694.3L1932.3 694.4L1935.7 694.4L1939.0 694.5L1942.4 694.6L1945.7 694.7L1949.1 694.8L1952.4 694.9L1955.8 695.0L1959.2 695.0L1962.5 695.1L1965.9 695.2L1969.2 695.3L1972.6 695.4L1975.9 695.5L1979.2 695.6" fill="none" stroke="#80ff00" stroke-width="4.0" stroke-linejoin="round"/>
<g fill="#80ff00" clip-path="url(#c1i)"><path d="M1117.0 545.4L1124.4 560.2L1109.6 560.2Z"/><path d="M1203.3 24.4L1210.7 39.2L1195.9 39.2Z"/><path d="M1289.6 178.1L1297.0 192.9L1282.2 192.9Z"/><path d="M1375.9 383.6L1383.3 398.4L1368.5 398.4Z"/><path d="M1462.2 526.8L1469.6 541.6L1454.8 541.6Z"/><path d="M1548.5 604.0L1555.9 618.8L1541.1 618.8Z"/><path d="M1634.8 648.8L1642.2 663.6L1627.4 663.6Z"/><path d="M1721.1 669.7L1728.5 684.5L1713.7 684.5Z"/><path d="M1807.4 681.1L1814.8 695.9L1800.0 695.9Z"/><path d="M1893.7 685.8L1901.1 700.6L1886.3 700.6Z"/><path d="M1980.0 688.2L1987.4 703.0L1972.6 703.0Z"/></g>
</g>
<rect x="1788.5" y="39.5" width="172" height="176" fill="#fff" stroke="#000" stroke-width="2"/>
<path d="M1791.5 61.0H1848.5" stroke="#000080" stroke-width="4"/>
<g fill="#000080"><path d="M1799.1 54.4L1806.5 69.2L1791.7 69.2Z"/><path d="M1818.6 54.4L1826.0 69.2L1811.2 69.2Z"/><path d="M1838.4 54.4L1845.8 69.2L1831.0 69.2Z"/></g>
<text class="lg" transform="translate(1858.0 70.8) scale(1.230 1)">&#945;</text>
<text class="lg" x="1879.7" y="70.8">=0.1</text>
<path d="M1791.5 104.5H1848.5" stroke="#ff0000" stroke-width="4"/>
<g fill="#ff0000"><path d="M1801.5 94.7L1811.3 104.5L1801.5 114.3L1791.7 104.5Z"/><path d="M1836.5 94.7L1846.3 104.5L1836.5 114.3L1826.7 104.5Z"/></g>
<text class="lg" transform="translate(1858.0 114.3) scale(1.230 1)">&#945;</text>
<text class="lg" x="1879.7" y="114.3">=0.2</text>
<path d="M1791.5 148.0H1848.5" stroke="#000000" stroke-width="4"/>
<g fill="#000000"><circle cx="1801.5" cy="148.0" r="10.0"/><circle cx="1836.5" cy="148.0" r="10.0"/></g>
<text class="lg" transform="translate(1858.0 157.8) scale(1.230 1)">&#945;</text>
<text class="lg" x="1879.7" y="157.8">=0.3</text>
<path d="M1791.5 191.5H1848.5" stroke="#80ff00" stroke-width="4"/>
<g fill="#80ff00"><path d="M1799.1 184.9L1806.5 199.7L1791.7 199.7Z"/><path d="M1818.6 184.9L1826.0 199.7L1811.2 199.7Z"/><path d="M1838.4 184.9L1845.8 199.7L1831.0 199.7Z"/></g>
<text class="lg" transform="translate(1858.0 201.3) scale(1.230 1)">&#945;</text>
<text class="lg" x="1879.7" y="201.3">=0.4</text>
<text class="pr" x="1540.9" y="131.9">Pr=35</text>
<rect x="110.0" y="843.0" width="863.0" height="678.0" fill="none" stroke="#000" stroke-width="2.2"/>
<path d="M110.0 1445.7H122.0M959.0 1445.7H973.0M110.0 1370.3H122.0M959.0 1370.3H973.0M110.0 1295.0H122.0M959.0 1295.0H973.0M110.0 1219.7H122.0M959.0 1219.7H973.0M110.0 1144.3H122.0M959.0 1144.3H973.0M110.0 1069.0H122.0M959.0 1069.0H973.0M110.0 993.7H122.0M959.0 993.7H973.0M110.0 918.3H122.0M959.0 918.3H973.0M541.5 843.0V855.0M541.5 1507.0V1521.0" stroke="#000" stroke-width="2" fill="none"/>
<g class="tl" text-anchor="end"><text x="107.5" y="1532.8">0</text><text x="107.5" y="1457.5">0.5</text><text x="107.5" y="1382.1">1</text><text x="107.5" y="1306.8">1.5</text><text x="107.5" y="1231.5">2</text><text x="107.5" y="1156.1">2.5</text><text x="107.5" y="1080.8">3</text><text x="107.5" y="1005.5">3.5</text><text x="107.5" y="930.1">4</text><text x="107.5" y="854.8">4.5</text></g>
<g class="tl" text-anchor="middle"><text x="115.6" y="1552.2">0</text><text x="544.9" y="1552.2">0.5</text><text x="978.6" y="1552.2">1</text></g>
<text class="al" x="544.8" y="1596.0" text-anchor="middle">y</text>
<text class="ul" transform="translate(33.8 1181.0) rotate(-90)" text-anchor="middle">u(y,t)</text>
<clipPath id="c2"><rect x="109.0" y="842.0" width="865.0" height="680.0"/></clipPath>
<clipPath id="c2i"><rect x="110.0" y="843.0" width="863.0" height="678.0"/></clipPath>
<g clip-path="url(#c2)">
<path d="M109.8 1370.9L111.2 1369.4L112.6 1368.0L114.0 1366.6L115.4 1365.2L116.8 1364.0L118.3 1362.8L119.8 1361.6L121.3 1360.5L122.8 1359.4L124.3 1358.4L125.9 1357.5L127.4 1356.6L129.0 1355.7L130.6 1354.9L132.2 1354.2L133.8 1353.4L135.5 1352.8L137.1 1352.2L138.8 1351.6L140.5 1351.1L142.2 1350.6L143.9 1350.1L145.6 1349.7L147.3 1349.4L149.0 1349.1L150.7 1348.8L152.5 1348.5L154.2 1348.3L156.0 1348.2L157.7 1348.0L159.5 1347.9L161.3 1347.9L163.1 1347.8L164.8 1347.8L166.6 1347.9L168.4 1348.0L170.2 1348.1L172.0 1348.2L173.8 1348.3L175.6 1348.5L177.4 1348.8L179.2 1349.0L181.0 1349.3L182.8 1349.6L184.5 1349.9L186.3 1350.2L188.1 1350.6L189.9 1351.0L191.7 1351.4L193.4 1351.8L195.2 1352.3L197.0 1352.8L198.7 1353.2L200.5 1353.8L202.2 1354.3L203.9 1354.8L205.7 1355.4L207.4 1356.0L209.1 1356.6L210.8 1357.2L212.5 1357.8L214.2 1358.4L215.9 1359.1L217.6 1359.8L219.2 1360.4L220.9 1361.1L222.6 1361.8L224.2 1362.6L225.9 1363.3L227.5 1364.1L229.2 1364.8L230.8 1365.6L232.4 1366.4L234.0 1367.2L235.6 1368.0L237.3 1368.8L238.9 1369.6L240.5 1370.5L242.0 1371.3L243.6 1372.2L245.2 1373.0L246.8 1373.9L248.4 1374.8L249.9 1375.7L251.5 1376.6L253.0 1377.5L254.6 1378.4L256.1 1379.3L257.7 1380.2L259.2 1381.1L260.8 1382.0L262.3 1383.0L263.9 1383.9L265.4 1384.8L267.0 1385.7L268.5 1386.7L270.0 1387.6L271.6 1388.5L273.1 1389.4L274.7 1390.3L276.2 1391.3L277.8 1392.2L279.3 1393.1L280.9 1394.0L282.4 1394.9L284.0 1395.8L285.5 1396.7L287.1 1397.5L288.7 1398.4L290.3 1399.3L291.8 1400.2L293.4 1401.0L295.0 1401.9L296.6 1402.7L298.2 1403.5L299.8 1404.4L301.4 1405.2L303.0 1406.0L304.6 1406.9L306.2 1407.7L307.8 1408.5L309.4 1409.3L311.0 1410.1L312.6 1410.9L314.2 1411.7L315.8 1412.4L317.5 1413.2L319.1 1414.0L320.7 1414.8L322.3 1415.5L324.0 1416.3L325.6 1417.1L327.2 1417.8L328.9 1418.6L330.5 1419.3L332.2 1420.0L333.8 1420.8L335.4 1421.5L337.1 1422.3L338.7 1423.0L340.4 1423.7L342.0 1424.4L343.7 1425.1L345.4 1425.9L347.0 1426.6L348.7 1427.3L350.3 1428.0L352.0 1428.7L353.7 1429.4L355.3 1430.1L357.0 1430.8L358.7 1431.5L360.3 1432.1L362.0 1432.8L363.7 1433.5L365.3 1434.2L367.0 1434.9L368.7 1435.5L370.3 1436.2L372.0 1436.9L373.7 1437.6L375.4 1438.2L377.0 1438.9L378.7 1439.6L380.4 1440.2L382.1 1440.9L383.8 1441.5L385.4 1442.2L387.1 1442.8L388.8 1443.5L390.5 1444.1L392.2 1444.8L393.9 1445.4L395.5 1446.1L397.2 1446.7L398.9 1447.3L400.6 1448.0L402.3 1448.6L404.0 1449.2L405.7 1449.8L407.4 1450.5L409.1 1451.1L410.7 1451.7L412.4 1452.3L414.1 1452.9L415.8 1453.5L417.5 1454.1L419.2 1454.7L420.9 1455.3L422.6 1455.9L424.3 1456.5L426.0 1457.1L427.7 1457.7L429.5 1458.2L431.2 1458.8L432.9 1459.4L434.6 1460.0L436.3 1460.5L438.0 1461.1L439.7 1461.6L441.4 1462.2L443.1 1462.7L444.9 1463.3L446.6 1463.8L448.3 1464.4L450.0 1464.9L451.7 1465.4L453.4 1466.0L455.2 1466.5L456.9 1467.0L458.6 1467.5L460.3 1468.0L462.1 1468.5L463.8 1469.0L465.5 1469.5L467.3 1470.0L469.0 1470.5L470.7 1471.0L472.5 1471.5L474.2 1472.0L475.9 1472.4L477.7 1472.9L479.4 1473.4L481.2 1473.8L482.9 1474.3L484.6 1474.7L486.4 1475.2L488.1 1475.7L489.9 1476.1L491.6 1476.5L493.4 1477.0L495.1 1477.4L496.9 1477.9L498.6 1478.3L500.4 1478.7L502.1 1479.1L503.9 1479.6L505.6 1480.0L507.4 1480.4L509.1 1480.8L510.9 1481.2L512.6 1481.6L514.4 1482.0L516.2 1482.4L517.9 1482.8L519.7 1483.2L521.4 1483.6L523.2 1484.0L525.0 1484.4L526.7 1484.8L528.5 1485.1L530.2 1485.5L532.0 1485.9L533.8 1486.3L535.5 1486.6L537.3 1487.0L539.1 1487.4L540.8 1487.7L542.6 1488.1L544.4 1488.5L546.1 1488.8L547.9 1489.2L549.7 1489.5L551.4 1489.9L553.2 1490.2L555.0 1490.6L556.8 1490.9L558.5 1491.3L560.3 1491.6L562.1 1492.0L563.8 1492.3L565.6 1492.6L567.4 1493.0L569.2 1493.3L570.9 1493.7L572.7 1494.0L574.5 1494.3L576.2 1494.6L578.0 1495.0L579.8 1495.3L581.6 1495.6L583.3 1495.9L585.1 1496.3L586.9 1496.6L588.7 1496.9L590.4 1497.2L592.2 1497.5L594.0 1497.9L595.8 1498.2L597.5 1498.5L599.3 1498.8L601.1 1499.1L602.9 1499.4L604.7 1499.7L606.4 1500.0L608.2 1500.2L610.0 1500.5L611.8 1500.8L613.6 1501.0L615.3 1501.3L617.1 1501.6L618.9 1501.8L620.7 1502.0L622.5 1502.3L624.3 1502.5L626.0 1502.7L627.8 1502.9L629.6 1503.1L631.4 1503.3L633.2 1503.5L635.0 1503.7L636.8 1503.8L638.6 1504.0L640.4 1504.1L642.2 1504.3L643.9 1504.4L645.7 1504.5L647.5 1504.7L649.3 1504.8L651.1 1504.9L652.9 1505.0L654.7 1505.1L656.5 1505.2L658.3 1505.3L660.1 1505.4L661.9 1505.5L663.7 1505.6L665.5 1505.7L667.3 1505.8L669.1 1505.9L670.9 1506.0L672.7 1506.1L674.5 1506.2L676.3 1506.3L678.1 1506.4L679.9 1506.5L681.7 1506.6L683.5 1506.7L685.3 1506.8L687.1 1506.9L688.9 1507.0L690.7 1507.1L692.5 1507.3L694.3 1507.4L696.1 1507.5L697.9 1507.7L699.7 1507.8L701.5 1508.0L703.3 1508.1L705.1 1508.3L706.9 1508.4L708.7 1508.6L710.5 1508.7L712.3 1508.9L714.1 1509.1L715.9 1509.3L717.7 1509.4L719.5 1509.6L721.3 1509.8L723.1 1510.0L724.9 1510.1L726.7 1510.3L728.4 1510.5L730.2 1510.7L732.0 1510.9L733.8 1511.0L735.6 1511.2L737.4 1511.4L739.2 1511.6L741.0 1511.8L742.8 1512.0L744.6 1512.1L746.4 1512.3L748.2 1512.5L750.0 1512.7L751.8 1512.8L753.6 1513.0L755.4 1513.2L757.2 1513.3L758.9 1513.5L760.7 1513.6L762.5 1513.8L764.3 1514.0L766.1 1514.1L767.9 1514.3L769.7 1514.4L771.5 1514.5L773.3 1514.7L775.1 1514.8L776.9 1514.9L778.7 1515.1L780.5 1515.2L782.3 1515.3L784.1 1515.5L785.9 1515.6L787.7 1515.7L789.5 1515.8L791.3 1515.9L793.1 1516.0L794.9 1516.2L796.7 1516.3L798.5 1516.4L800.3 1516.5L802.1 1516.6L803.9 1516.7L805.7 1516.8L807.5 1516.9L809.3 1516.9L811.1 1517.0L812.9 1517.1L814.7 1517.2L816.5 1517.3L818.3 1517.4L820.1 1517.5L821.9 1517.5L823.7 1517.6L825.5 1517.7L827.3 1517.8L829.1 1517.8L830.9 1517.9L832.7 1518.0L834.5 1518.0L836.3 1518.1L838.1 1518.1L839.9 1518.2L841.7 1518.3L843.5 1518.3L845.3 1518.4L847.1 1518.4L848.9 1518.5L850.7 1518.5L852.5 1518.6L854.3 1518.6L856.1 1518.7L857.9 1518.7L859.7 1518.8L861.5 1518.8L863.3 1518.8L865.1 1518.9L866.9 1518.9L868.7 1518.9L870.5 1519.0L872.3 1519.0L874.2 1519.0L876.0 1519.1L877.8 1519.1L879.6 1519.1L881.4 1519.2L883.2 1519.2L885.0 1519.2L886.8 1519.2L888.6 1519.3L890.4 1519.3L892.2 1519.3L894.0 1519.3L895.8 1519.3L897.6 1519.4L899.4 1519.4L901.2 1519.4L903.0 1519.4L904.8 1519.4L906.6 1519.4L908.4 1519.4L910.2 1519.5L912.0 1519.5L913.8 1519.5L915.6 1519.5L917.4 1519.5L919.2 1519.5L921.0 1519.5L922.8 1519.5L924.6 1519.5L926.4 1519.5L928.2 1519.5L930.0 1519.5L931.8 1519.5L933.7 1519.5L935.5 1519.6L937.3 1519.6L939.1 1519.6L940.9 1519.6L942.7 1519.6L944.5 1519.6L946.3 1519.6L948.1 1519.6L949.9 1519.6L951.7 1519.6L953.5 1519.6L955.3 1519.6L957.1 1519.6L958.9 1519.6L960.7 1519.6L962.5 1519.6L964.3 1519.6L966.1 1519.6L967.9 1519.6L969.7 1519.6L971.5 1519.6L973.3 1519.6" fill="none" stroke="#000080" stroke-width="4.0" stroke-linejoin="round"/>
<g fill="#000080" clip-path="url(#c2i)"><path d="M110.0 1363.3L117.4 1378.1L102.6 1378.1Z"/><path d="M196.3 1345.2L203.7 1360.0L188.9 1360.0Z"/><path d="M282.6 1387.6L290.0 1402.4L275.2 1402.4Z"/><path d="M368.9 1428.2L376.3 1443.0L361.5 1443.0Z"/><path d="M455.2 1459.1L462.6 1473.9L447.8 1473.9Z"/><path d="M541.5 1480.5L548.9 1495.3L534.1 1495.3Z"/><path d="M627.8 1495.5L635.2 1510.3L620.4 1510.3Z"/><path d="M714.1 1501.7L721.5 1516.5L706.7 1516.5Z"/><path d="M800.4 1509.1L807.8 1523.9L793.0 1523.9Z"/><path d="M886.7 1511.8L894.1 1526.6L879.3 1526.6Z"/><path d="M973.0 1512.2L980.4 1527.0L965.6 1527.0Z"/></g>
<path d="M110.1 1370.3L111.1 1368.4L112.1 1366.4L113.0 1364.4L113.8 1362.4L114.5 1360.4L115.2 1358.3L115.8 1356.2L116.4 1354.2L116.9 1352.0L117.4 1349.9L117.8 1347.8L118.2 1345.6L118.6 1343.5L118.9 1341.3L119.2 1339.2L119.5 1337.0L119.8 1334.8L120.1 1332.6L120.4 1330.5L120.6 1328.3L120.9 1326.1L121.2 1323.9L121.5 1321.8L121.9 1319.6L122.3 1317.5L122.6 1315.3L123.1 1313.2L123.5 1311.1L124.0 1309.0L124.5 1306.9L125.1 1304.8L125.6 1302.7L126.2 1300.6L126.7 1298.5L127.3 1296.4L127.9 1294.3L128.5 1292.2L129.1 1290.1L129.7 1288.0L130.3 1285.9L130.8 1283.8L131.4 1281.7L132.0 1279.6L132.5 1277.5L133.1 1275.3L133.7 1273.2L134.2 1271.1L134.8 1269.0L135.4 1266.8L136.0 1264.7L136.6 1262.6L137.2 1260.5L137.8 1258.4L138.4 1256.3L139.1 1254.2L139.8 1252.1L140.5 1250.1L141.2 1248.0L142.0 1246.0L142.8 1243.9L143.6 1241.9L144.5 1239.9L145.4 1237.9L146.3 1236.0L147.3 1234.0L148.3 1232.1L149.3 1230.2L150.5 1228.3L151.6 1226.4L152.8 1224.6L154.1 1222.8L155.4 1221.0L156.7 1219.2L158.1 1217.5L159.6 1215.9L161.1 1214.2L162.7 1212.6L164.3 1211.1L165.9 1209.6L167.6 1208.2L169.3 1206.9L171.1 1205.6L172.9 1204.4L174.8 1203.3L176.7 1202.3L178.6 1201.3L180.6 1200.5L182.5 1199.7L184.6 1199.1L186.6 1198.5L188.7 1198.1L190.9 1197.8L193.0 1197.5L195.2 1197.5L197.4 1197.5L199.6 1197.7L201.8 1197.9L204.1 1198.3L206.3 1198.7L208.5 1199.3L210.7 1199.9L212.8 1200.7L214.9 1201.5L217.0 1202.3L219.0 1203.3L221.0 1204.3L222.9 1205.3L224.8 1206.4L226.7 1207.6L228.5 1208.8L230.3 1210.0L232.0 1211.3L233.7 1212.7L235.4 1214.0L237.0 1215.5L238.6 1216.9L240.2 1218.4L241.8 1219.9L243.3 1221.4L244.8 1223.0L246.3 1224.6L247.8 1226.2L249.3 1227.8L250.8 1229.4L252.2 1231.0L253.7 1232.7L255.1 1234.3L256.5 1236.0L257.9 1237.6L259.4 1239.3L260.8 1241.0L262.2 1242.6L263.6 1244.3L265.0 1246.0L266.4 1247.7L267.7 1249.3L269.1 1251.0L270.5 1252.7L271.9 1254.4L273.3 1256.1L274.7 1257.8L276.0 1259.5L277.4 1261.2L278.8 1262.8L280.2 1264.5L281.6 1266.2L282.9 1267.9L284.3 1269.6L285.7 1271.2L287.1 1272.9L288.5 1274.6L289.9 1276.2L291.3 1277.9L292.7 1279.6L294.2 1281.2L295.6 1282.8L297.0 1284.5L298.5 1286.1L299.9 1287.7L301.4 1289.3L302.9 1290.9L304.3 1292.5L305.8 1294.1L307.3 1295.7L308.8 1297.3L310.3 1298.8L311.9 1300.4L313.4 1301.9L315.0 1303.4L316.6 1304.9L318.1 1306.4L319.7 1307.9L321.4 1309.4L323.0 1310.8L324.6 1312.3L326.2 1313.7L327.9 1315.2L329.5 1316.6L331.2 1318.1L332.8 1319.5L334.4 1321.0L336.0 1322.5L337.6 1323.9L339.3 1325.4L340.8 1326.9L342.4 1328.4L344.0 1329.9L345.5 1331.5L347.0 1333.0L348.5 1334.6L350.0 1336.2L351.5 1337.8L352.9 1339.5L354.3 1341.1L355.8 1342.8L357.2 1344.4L358.6 1346.1L360.0 1347.8L361.4 1349.4L362.8 1351.1L364.2 1352.8L365.6 1354.5L367.0 1356.1L368.4 1357.8L369.8 1359.5L371.3 1361.1L372.7 1362.7L374.2 1364.3L375.7 1365.9L377.2 1367.5L378.7 1369.0L380.3 1370.5L381.9 1372.0L383.5 1373.5L385.1 1374.9L386.7 1376.3L388.4 1377.7L390.1 1379.1L391.7 1380.5L393.4 1381.8L395.2 1383.2L396.9 1384.5L398.7 1385.8L400.4 1387.1L402.2 1388.3L404.0 1389.6L405.8 1390.8L407.6 1392.1L409.4 1393.3L411.2 1394.5L413.0 1395.7L414.8 1396.9L416.6 1398.2L418.5 1399.4L420.3 1400.6L422.1 1401.8L423.9 1403.1L425.7 1404.3L427.4 1405.6L429.2 1406.8L431.0 1408.1L432.8 1409.4L434.6 1410.7L436.3 1411.9L438.1 1413.2L439.9 1414.5L441.6 1415.8L443.4 1417.0L445.2 1418.3L447.0 1419.6L448.8 1420.8L450.6 1422.0L452.4 1423.2L454.2 1424.4L456.0 1425.6L457.8 1426.8L459.7 1428.0L461.5 1429.1L463.4 1430.2L465.2 1431.3L467.1 1432.4L469.0 1433.4L470.9 1434.5L472.8 1435.5L474.8 1436.5L476.7 1437.5L478.6 1438.5L480.6 1439.5L482.5 1440.5L484.5 1441.4L486.4 1442.3L488.4 1443.3L490.4 1444.2L492.4 1445.1L494.4 1446.0L496.4 1446.9L498.4 1447.8L500.4 1448.7L502.4 1449.5L504.4 1450.4L506.4 1451.3L508.4 1452.1L510.4 1453.0L512.4 1453.8L514.4 1454.7L516.5 1455.5L518.5 1456.4L520.5 1457.2L522.5 1458.1L524.6 1458.9L526.6 1459.7L528.6 1460.6L530.6 1461.4L532.6 1462.3L534.6 1463.2L536.7 1464.0L538.7 1464.9L540.7 1465.7L542.7 1466.6L544.7 1467.4L546.8 1468.2L548.8 1469.1L550.8 1469.9L552.8 1470.7L554.8 1471.6L556.9 1472.4L558.9 1473.2L560.9 1474.0L563.0 1474.8L565.0 1475.6L567.0 1476.3L569.1 1477.1L571.1 1477.9L573.2 1478.6L575.2 1479.3L577.3 1480.1L579.3 1480.8L581.4 1481.4L583.5 1482.1L585.5 1482.8L587.6 1483.5L589.7 1484.1L591.8 1484.7L593.9 1485.3L596.0 1486.0L598.1 1486.6L600.1 1487.1L602.2 1487.7L604.3 1488.3L606.5 1488.8L608.6 1489.4L610.7 1489.9L612.8 1490.5L614.9 1491.0L617.0 1491.5L619.1 1492.0L621.3 1492.5L623.4 1492.9L625.5 1493.4L627.7 1493.9L629.8 1494.3L631.9 1494.8L634.1 1495.2L636.2 1495.7L638.3 1496.1L640.5 1496.5L642.6 1496.9L644.8 1497.3L646.9 1497.7L649.1 1498.1L651.2 1498.5L653.4 1498.9L655.5 1499.2L657.7 1499.6L659.8 1500.0L662.0 1500.3L664.2 1500.7L666.3 1501.0L668.5 1501.3L670.6 1501.7L672.8 1502.0L675.0 1502.3L677.1 1502.7L679.3 1503.0L681.4 1503.3L683.6 1503.6L685.8 1503.9L687.9 1504.2L690.1 1504.5L692.3 1504.8L694.4 1505.1L696.6 1505.4L698.8 1505.7L700.9 1506.0L703.1 1506.3L705.3 1506.6L707.4 1506.8L709.6 1507.1L711.8 1507.4L713.9 1507.6L716.1 1507.9L718.3 1508.2L720.4 1508.4L722.6 1508.7L724.8 1508.9L726.9 1509.2L729.1 1509.4L731.3 1509.7L733.4 1509.9L735.6 1510.1L737.8 1510.4L739.9 1510.6L742.1 1510.8L744.3 1511.0L746.5 1511.3L748.6 1511.5L750.8 1511.7L753.0 1511.9L755.1 1512.1L757.3 1512.3L759.5 1512.5L761.7 1512.7L763.8 1512.9L766.0 1513.1L768.2 1513.3L770.3 1513.5L772.5 1513.7L774.7 1513.8L776.9 1514.0L779.0 1514.2L781.2 1514.4L783.4 1514.5L785.6 1514.7L787.7 1514.9L789.9 1515.0L792.1 1515.2L794.3 1515.3L796.4 1515.5L798.6 1515.6L800.8 1515.8L803.0 1515.9L805.1 1516.1L807.3 1516.2L809.5 1516.4L811.7 1516.5L813.8 1516.6L816.0 1516.8L818.2 1516.9L820.4 1517.0L822.6 1517.1L824.7 1517.2L826.9 1517.4L829.1 1517.5L831.3 1517.6L833.4 1517.7L835.6 1517.8L837.8 1517.9L840.0 1518.0L842.2 1518.1L844.3 1518.2L846.5 1518.3L848.7 1518.4L850.9 1518.5L853.1 1518.5L855.2 1518.6L857.4 1518.7L859.6 1518.8L861.8 1518.9L863.9 1518.9L866.1 1519.0L868.3 1519.1L870.5 1519.1L872.7 1519.2L874.9 1519.3L877.0 1519.3L879.2 1519.4L881.4 1519.4L883.6 1519.5L885.8 1519.5L887.9 1519.6L890.1 1519.6L892.3 1519.7L894.5 1519.7L896.7 1519.7L898.8 1519.8L901.0 1519.8L903.2 1519.8L905.4 1519.9L907.6 1519.9L909.8 1519.9L911.9 1519.9L914.1 1520.0L916.3 1520.0L918.5 1520.0L920.7 1520.0L922.8 1520.0L925.0 1520.0L927.2 1520.0L929.4 1520.1L931.6 1520.1L933.8 1520.1L935.9 1520.1L938.1 1520.1L940.3 1520.1L942.5 1520.1L944.7 1520.0L946.9 1520.0L949.0 1520.0L951.2 1520.0L953.4 1520.0L955.6 1520.0L957.8 1520.0L960.0 1519.9L962.1 1519.9L964.3 1519.9L966.5 1519.9L968.7 1519.8L970.9 1519.8L973.1 1519.8" fill="none" stroke="#ff0000" stroke-width="4.0" stroke-linejoin="round"/>
<g fill="#ff0000" clip-path="url(#c2i)"><path d="M110.0 1360.5L119.8 1370.3L110.0 1380.1L100.2 1370.3Z"/><path d="M161.8 1203.7L171.6 1213.5L161.8 1223.3L152.0 1213.5Z"/><path d="M213.6 1191.1L223.4 1200.9L213.6 1210.7L203.8 1200.9Z"/><path d="M265.3 1236.6L275.1 1246.4L265.3 1256.2L255.5 1246.4Z"/><path d="M317.1 1295.6L326.9 1305.4L317.1 1315.2L307.3 1305.4Z"/><path d="M368.9 1348.6L378.7 1358.4L368.9 1368.2L359.1 1358.4Z"/><path d="M420.7 1391.1L430.5 1400.9L420.7 1410.7L410.9 1400.9Z"/><path d="M472.5 1425.5L482.3 1435.3L472.5 1445.1L462.7 1435.3Z"/><path d="M524.2 1449.0L534.0 1458.8L524.2 1468.6L514.4 1458.8Z"/><path d="M576.0 1469.8L585.8 1479.6L576.0 1489.4L566.2 1479.6Z"/><path d="M627.8 1484.1L637.6 1493.9L627.8 1503.7L618.0 1493.9Z"/><path d="M679.6 1493.2L689.4 1503.0L679.6 1512.8L669.8 1503.0Z"/><path d="M731.4 1499.9L741.2 1509.7L731.4 1519.5L721.6 1509.7Z"/><path d="M783.1 1504.7L792.9 1514.5L783.1 1524.3L773.3 1514.5Z"/><path d="M834.9 1508.0L844.7 1517.8L834.9 1527.6L825.1 1517.8Z"/><path d="M886.7 1509.7L896.5 1519.5L886.7 1529.3L876.9 1519.5Z"/><path d="M938.5 1510.3L948.3 1520.1L938.5 1529.9L928.7 1520.1Z"/></g>
<path d="M110.1 1370.3L110.6 1367.7L111.0 1365.1L111.4 1362.5L111.8 1359.9L112.2 1357.2L112.6 1354.6L113.0 1352.0L113.4 1349.4L113.8 1346.8L114.1 1344.2L114.5 1341.5L114.9 1338.9L115.2 1336.3L115.6 1333.7L115.9 1331.0L116.3 1328.4L116.6 1325.8L116.9 1323.2L117.2 1320.5L117.6 1317.9L117.9 1315.3L118.2 1312.7L118.5 1310.1L118.8 1307.4L119.1 1304.8L119.4 1302.2L119.7 1299.6L120.0 1296.9L120.3 1294.3L120.6 1291.7L120.9 1289.1L121.2 1286.4L121.5 1283.8L121.9 1281.2L122.2 1278.6L122.5 1275.9L122.8 1273.3L123.1 1270.7L123.4 1268.1L123.7 1265.4L124.0 1262.8L124.3 1260.2L124.6 1257.6L124.9 1254.9L125.3 1252.3L125.6 1249.7L125.9 1247.1L126.2 1244.5L126.6 1241.8L126.9 1239.2L127.3 1236.6L127.6 1234.0L128.0 1231.4L128.4 1228.7L128.7 1226.1L129.1 1223.5L129.5 1220.9L129.9 1218.3L130.3 1215.7L130.7 1213.1L131.1 1210.4L131.5 1207.8L132.0 1205.2L132.4 1202.6L132.8 1200.0L133.3 1197.4L133.8 1194.8L134.2 1192.2L134.7 1189.6L135.2 1187.0L135.7 1184.4L136.2 1181.8L136.8 1179.2L137.3 1176.6L137.8 1174.0L138.4 1171.4L138.9 1168.8L139.5 1166.2L140.1 1163.6L140.7 1161.0L141.2 1158.4L141.8 1155.8L142.4 1153.3L143.0 1150.7L143.6 1148.1L144.2 1145.5L144.9 1143.0L145.5 1140.4L146.1 1137.8L146.7 1135.3L147.4 1132.7L148.0 1130.2L148.6 1127.6L149.3 1125.1L149.9 1122.5L150.6 1120.0L151.3 1117.5L152.0 1115.0L152.7 1112.5L153.5 1110.0L154.3 1107.5L155.1 1105.0L156.0 1102.6L156.9 1100.1L157.9 1097.7L158.9 1095.3L159.9 1092.9L161.0 1090.4L162.0 1088.0L163.1 1085.5L164.2 1083.1L165.3 1080.6L166.5 1078.1L167.7 1075.7L169.0 1073.3L170.3 1070.9L171.8 1068.6L173.3 1066.3L174.9 1064.2L176.6 1062.1L178.5 1060.2L180.4 1058.4L182.5 1056.8L184.6 1055.4L186.9 1054.2L189.3 1053.3L191.7 1052.7L194.2 1052.3L196.8 1052.1L199.3 1052.2L201.8 1052.6L204.3 1053.2L206.7 1054.0L209.0 1055.1L211.3 1056.4L213.4 1057.9L215.5 1059.5L217.6 1061.3L219.6 1063.1L221.6 1065.0L223.5 1066.8L225.4 1068.7L227.2 1070.7L229.0 1072.6L230.8 1074.6L232.5 1076.6L234.3 1078.6L235.9 1080.7L237.6 1082.7L239.2 1084.8L240.8 1086.9L242.4 1089.0L243.9 1091.2L245.5 1093.3L247.0 1095.5L248.4 1097.7L249.9 1099.8L251.3 1102.1L252.8 1104.3L254.2 1106.5L255.6 1108.8L256.9 1111.0L258.3 1113.3L259.7 1115.5L261.0 1117.8L262.3 1120.1L263.6 1122.4L264.9 1124.7L266.3 1127.0L267.6 1129.3L268.8 1131.6L270.1 1133.9L271.4 1136.3L272.7 1138.6L274.0 1140.9L275.3 1143.2L276.6 1145.5L277.9 1147.8L279.2 1150.2L280.5 1152.5L281.8 1154.8L283.1 1157.1L284.4 1159.4L285.7 1161.6L287.1 1163.9L288.4 1166.2L289.8 1168.5L291.1 1170.8L292.5 1173.0L293.9 1175.3L295.2 1177.5L296.6 1179.8L298.0 1182.1L299.4 1184.3L300.8 1186.5L302.2 1188.8L303.6 1191.0L305.0 1193.3L306.4 1195.5L307.8 1197.7L309.2 1200.0L310.6 1202.2L312.1 1204.4L313.5 1206.6L314.9 1208.9L316.3 1211.1L317.8 1213.3L319.2 1215.5L320.6 1217.7L322.1 1220.0L323.5 1222.2L325.0 1224.4L326.4 1226.6L327.8 1228.8L329.3 1231.0L330.7 1233.2L332.2 1235.4L333.6 1237.6L335.0 1239.9L336.5 1242.1L337.9 1244.3L339.4 1246.5L340.8 1248.7L342.2 1250.9L343.7 1253.1L345.1 1255.3L346.6 1257.5L348.0 1259.8L349.4 1262.0L350.8 1264.2L352.3 1266.4L353.7 1268.6L355.1 1270.9L356.5 1273.1L357.9 1275.3L359.4 1277.5L360.8 1279.7L362.2 1282.0L363.6 1284.2L365.1 1286.4L366.5 1288.6L368.0 1290.8L369.4 1293.0L370.8 1295.2L372.3 1297.4L373.8 1299.6L375.2 1301.8L376.7 1304.0L378.2 1306.2L379.7 1308.4L381.2 1310.5L382.7 1312.7L384.3 1314.9L385.8 1317.0L387.4 1319.2L388.9 1321.3L390.5 1323.4L392.1 1325.6L393.7 1327.7L395.3 1329.8L396.9 1331.9L398.6 1334.0L400.2 1336.1L401.9 1338.1L403.6 1340.2L405.3 1342.2L407.0 1344.3L408.7 1346.3L410.4 1348.3L412.2 1350.3L414.0 1352.3L415.7 1354.3L417.5 1356.2L419.3 1358.2L421.1 1360.1L422.9 1362.0L424.8 1363.9L426.6 1365.8L428.5 1367.7L430.3 1369.6L432.2 1371.4L434.1 1373.3L436.0 1375.1L437.9 1376.9L439.8 1378.7L441.8 1380.5L443.7 1382.3L445.7 1384.1L447.6 1385.8L449.6 1387.6L451.6 1389.3L453.6 1391.0L455.6 1392.7L457.7 1394.4L459.7 1396.1L461.7 1397.7L463.8 1399.4L465.8 1401.0L467.9 1402.7L470.0 1404.3L472.1 1405.9L474.2 1407.5L476.3 1409.0L478.4 1410.6L480.5 1412.2L482.7 1413.7L484.8 1415.3L487.0 1416.8L489.1 1418.3L491.3 1419.8L493.5 1421.3L495.7 1422.8L497.9 1424.2L500.1 1425.7L502.3 1427.1L504.5 1428.6L506.7 1430.0L509.0 1431.4L511.2 1432.8L513.5 1434.2L515.7 1435.6L518.0 1436.9L520.3 1438.3L522.6 1439.6L524.8 1441.0L527.1 1442.3L529.4 1443.6L531.7 1444.9L534.1 1446.2L536.4 1447.5L538.7 1448.8L541.0 1450.0L543.4 1451.3L545.7 1452.5L548.1 1453.8L550.4 1455.0L552.8 1456.2L555.2 1457.4L557.6 1458.6L559.9 1459.8L562.3 1461.0L564.7 1462.1L567.1 1463.3L569.5 1464.4L571.9 1465.5L574.4 1466.6L576.8 1467.7L579.2 1468.7L581.7 1469.8L584.1 1470.8L586.5 1471.8L589.0 1472.8L591.5 1473.8L593.9 1474.8L596.4 1475.7L598.9 1476.7L601.4 1477.6L603.8 1478.5L606.3 1479.3L608.8 1480.2L611.3 1481.0L613.8 1481.8L616.4 1482.6L618.9 1483.4L621.4 1484.1L623.9 1484.9L626.5 1485.6L629.0 1486.2L631.6 1486.9L634.1 1487.5L636.7 1488.1L639.2 1488.7L641.8 1489.3L644.4 1489.8L647.0 1490.4L649.5 1490.9L652.1 1491.4L654.7 1491.9L657.3 1492.4L659.9 1492.9L662.5 1493.3L665.1 1493.8L667.7 1494.3L670.3 1494.7L672.9 1495.1L675.5 1495.6L678.1 1496.0L680.7 1496.5L683.3 1496.9L685.9 1497.4L688.5 1497.8L691.1 1498.3L693.7 1498.8L696.3 1499.2L698.9 1499.7L701.5 1500.2L704.1 1500.7L706.7 1501.2L709.3 1501.7L711.9 1502.2L714.6 1502.7L717.2 1503.2L719.8 1503.7L722.4 1504.2L725.0 1504.6L727.6 1505.1L730.2 1505.6L732.8 1506.1L735.4 1506.6L738.0 1507.0L740.6 1507.5L743.2 1508.0L745.8 1508.4L748.4 1508.9L751.0 1509.3L753.6 1509.7L756.3 1510.1L758.9 1510.5L761.5 1510.9L764.1 1511.3L766.7 1511.6L769.3 1512.0L772.0 1512.3L774.6 1512.6L777.2 1512.9L779.8 1513.2L782.5 1513.5L785.1 1513.8L787.7 1514.1L790.4 1514.4L793.0 1514.6L795.6 1514.9L798.2 1515.1L800.9 1515.3L803.5 1515.5L806.1 1515.7L808.8 1515.9L811.4 1516.1L814.1 1516.3L816.7 1516.5L819.3 1516.7L822.0 1516.8L824.6 1517.0L827.3 1517.1L829.9 1517.3L832.5 1517.4L835.2 1517.5L837.8 1517.6L840.5 1517.8L843.1 1517.9L845.8 1518.0L848.4 1518.1L851.0 1518.1L853.7 1518.2L856.3 1518.3L859.0 1518.4L861.6 1518.4L864.3 1518.5L866.9 1518.6L869.6 1518.6L872.2 1518.7L874.9 1518.7L877.5 1518.8L880.2 1518.8L882.8 1518.9L885.5 1518.9L888.1 1518.9L890.8 1518.9L893.4 1519.0L896.1 1519.0L898.7 1519.0L901.4 1519.0L904.0 1519.1L906.6 1519.1L909.3 1519.1L911.9 1519.1L914.6 1519.1L917.2 1519.1L919.9 1519.1L922.5 1519.1L925.2 1519.2L927.8 1519.2L930.5 1519.2L933.1 1519.2L935.8 1519.2L938.4 1519.2L941.1 1519.2L943.7 1519.2L946.3 1519.3L949.0 1519.3L951.6 1519.3L954.3 1519.3L956.9 1519.3L959.5 1519.3L962.2 1519.4L964.8 1519.4L967.5 1519.4L970.1 1519.5L972.7 1519.5" fill="none" stroke="#000000" stroke-width="4.0" stroke-linejoin="round"/>
<g fill="#000000" clip-path="url(#c2i)"><circle cx="110.0" cy="1370.3" r="10.0"/><circle cx="196.3" cy="1052.1" r="10.0"/><circle cx="282.6" cy="1156.2" r="10.0"/><circle cx="368.9" cy="1292.3" r="10.0"/><circle cx="455.2" cy="1392.3" r="10.0"/><circle cx="541.5" cy="1450.3" r="10.0"/><circle cx="627.8" cy="1485.9" r="10.0"/><circle cx="714.1" cy="1502.6" r="10.0"/><circle cx="800.4" cy="1515.3" r="10.0"/><circle cx="886.7" cy="1518.9" r="10.0"/><circle cx="973.0" cy="1519.5" r="10.0"/></g>
<path d="M110.0 1370.3L110.2 1366.9L110.4 1363.6L110.6 1360.3L110.8 1357.0L111.1 1353.7L111.3 1350.4L111.5 1347.0L111.7 1343.7L111.9 1340.4L112.2 1337.1L112.4 1333.8L112.6 1330.4L112.8 1327.1L113.1 1323.8L113.3 1320.5L113.5 1317.2L113.7 1313.8L114.0 1310.5L114.2 1307.2L114.4 1303.9L114.7 1300.5L114.9 1297.2L115.1 1293.9L115.4 1290.6L115.6 1287.3L115.8 1283.9L116.1 1280.6L116.3 1277.3L116.6 1274.0L116.8 1270.6L117.1 1267.3L117.3 1264.0L117.6 1260.7L117.8 1257.3L118.1 1254.0L118.3 1250.7L118.6 1247.4L118.8 1244.1L119.1 1240.7L119.4 1237.4L119.6 1234.1L119.9 1230.8L120.2 1227.4L120.4 1224.1L120.7 1220.8L121.0 1217.5L121.2 1214.1L121.5 1210.8L121.8 1207.5L122.1 1204.2L122.4 1200.9L122.7 1197.5L122.9 1194.2L123.2 1190.9L123.5 1187.6L123.8 1184.3L124.1 1180.9L124.4 1177.6L124.7 1174.3L125.0 1171.0L125.4 1167.6L125.7 1164.3L126.0 1161.0L126.3 1157.7L126.6 1154.4L126.9 1151.1L127.3 1147.7L127.6 1144.4L127.9 1141.1L128.3 1137.8L128.6 1134.5L128.9 1131.2L129.3 1127.8L129.6 1124.5L130.0 1121.2L130.3 1117.9L130.7 1114.6L131.1 1111.3L131.4 1108.0L131.8 1104.7L132.2 1101.3L132.5 1098.0L132.9 1094.7L133.3 1091.4L133.7 1088.1L134.1 1084.8L134.5 1081.5L134.8 1078.2L135.2 1074.9L135.6 1071.6L136.1 1068.3L136.5 1065.0L136.9 1061.7L137.3 1058.4L137.7 1055.0L138.1 1051.7L138.6 1048.4L139.0 1045.1L139.4 1041.8L139.9 1038.5L140.3 1035.2L140.8 1032.0L141.2 1028.7L141.7 1025.4L142.1 1022.1L142.6 1018.8L143.1 1015.5L143.6 1012.2L144.0 1008.9L144.5 1005.6L145.0 1002.3L145.5 999.0L146.0 995.7L146.5 992.5L147.0 989.2L147.5 985.9L148.0 982.6L148.6 979.3L149.1 976.0L149.6 972.8L150.2 969.5L150.8 966.2L151.3 962.9L151.9 959.7L152.5 956.4L153.1 953.1L153.8 949.9L154.4 946.6L155.1 943.3L155.7 940.1L156.4 936.8L157.2 933.6L157.9 930.3L158.7 927.1L159.4 923.8L160.2 920.6L161.1 917.4L161.9 914.1L162.8 910.9L163.7 907.7L164.6 904.4L165.6 901.2L166.6 898.0L167.6 894.8L168.6 891.6L169.7 888.4L170.8 885.2L171.9 882.0L173.2 878.9L174.5 875.7L176.1 872.7L177.9 869.7L180.0 866.8L182.4 864.1L185.1 861.6L187.9 859.4L190.9 857.6L193.8 856.3L196.8 855.6L199.7 855.4L202.6 855.9L205.3 856.9L207.9 858.4L210.5 860.3L212.9 862.4L215.3 864.8L217.6 867.4L219.8 870.0L221.9 872.6L224.0 875.3L225.9 878.0L227.8 880.7L229.7 883.5L231.5 886.3L233.2 889.2L234.9 892.1L236.5 895.0L238.0 897.9L239.5 900.9L241.0 903.8L242.4 906.8L243.8 909.9L245.2 912.9L246.5 916.0L247.8 919.0L249.0 922.1L250.2 925.2L251.5 928.3L252.6 931.4L253.8 934.6L255.0 937.7L256.2 940.8L257.3 944.0L258.5 947.1L259.6 950.2L260.7 953.4L261.9 956.5L263.1 959.6L264.2 962.8L265.4 965.9L266.6 969.0L267.9 972.1L269.1 975.2L270.3 978.3L271.6 981.4L272.9 984.4L274.1 987.5L275.4 990.6L276.7 993.6L278.0 996.7L279.3 999.8L280.6 1002.8L281.9 1005.9L283.2 1008.9L284.5 1012.0L285.8 1015.1L287.1 1018.1L288.4 1021.2L289.7 1024.2L291.0 1027.3L292.3 1030.4L293.6 1033.4L294.9 1036.5L296.1 1039.6L297.4 1042.7L298.6 1045.7L299.9 1048.8L301.1 1051.9L302.3 1055.0L303.5 1058.1L304.7 1061.3L305.9 1064.4L307.1 1067.5L308.3 1070.6L309.5 1073.7L310.6 1076.8L311.8 1080.0L313.0 1083.1L314.2 1086.2L315.3 1089.3L316.5 1092.5L317.7 1095.6L318.9 1098.7L320.0 1101.8L321.2 1105.0L322.4 1108.1L323.6 1111.2L324.8 1114.3L326.0 1117.4L327.2 1120.5L328.4 1123.6L329.7 1126.7L330.9 1129.8L332.2 1132.9L333.4 1136.0L334.7 1139.0L336.0 1142.1L337.3 1145.2L338.6 1148.2L339.9 1151.3L341.3 1154.3L342.6 1157.4L344.0 1160.4L345.4 1163.4L346.7 1166.4L348.1 1169.5L349.5 1172.5L351.0 1175.5L352.4 1178.5L353.8 1181.5L355.3 1184.5L356.7 1187.5L358.2 1190.4L359.7 1193.4L361.1 1196.4L362.6 1199.4L364.1 1202.3L365.6 1205.3L367.2 1208.3L368.7 1211.2L370.2 1214.2L371.7 1217.1L373.3 1220.1L374.8 1223.0L376.4 1226.0L378.0 1228.9L379.5 1231.9L381.1 1234.8L382.7 1237.8L384.3 1240.7L385.9 1243.6L387.5 1246.5L389.1 1249.5L390.7 1252.4L392.3 1255.3L393.9 1258.2L395.6 1261.1L397.2 1264.0L398.9 1267.0L400.5 1269.8L402.2 1272.7L403.9 1275.6L405.6 1278.5L407.3 1281.4L409.0 1284.2L410.7 1287.1L412.4 1289.9L414.2 1292.7L416.0 1295.6L417.7 1298.4L419.5 1301.2L421.3 1304.0L423.2 1306.8L425.0 1309.5L426.8 1312.3L428.7 1315.0L430.6 1317.8L432.5 1320.5L434.4 1323.2L436.4 1325.9L438.3 1328.6L440.3 1331.3L442.3 1333.9L444.3 1336.5L446.3 1339.2L448.4 1341.8L450.4 1344.4L452.5 1346.9L454.6 1349.5L456.8 1352.0L458.9 1354.5L461.1 1357.0L463.3 1359.5L465.5 1362.0L467.8 1364.4L470.1 1366.8L472.4 1369.2L474.7 1371.6L477.0 1374.0L479.4 1376.3L481.7 1378.7L484.1 1381.0L486.5 1383.3L489.0 1385.6L491.4 1387.8L493.9 1390.1L496.3 1392.3L498.8 1394.6L501.3 1396.8L503.8 1399.0L506.3 1401.2L508.9 1403.3L511.4 1405.5L514.0 1407.6L516.5 1409.8L519.1 1411.9L521.7 1414.0L524.3 1416.1L526.9 1418.2L529.5 1420.3L532.1 1422.4L534.7 1424.4L537.3 1426.5L539.9 1428.5L542.6 1430.5L545.2 1432.6L547.8 1434.6L550.5 1436.6L553.1 1438.6L555.8 1440.5L558.4 1442.5L561.1 1444.4L563.8 1446.3L566.6 1448.1L569.3 1449.9L572.1 1451.7L574.9 1453.5L577.7 1455.2L580.5 1456.8L583.4 1458.4L586.3 1460.0L589.3 1461.5L592.3 1463.0L595.3 1464.4L598.3 1465.8L601.3 1467.1L604.4 1468.4L607.5 1469.6L610.6 1470.9L613.8 1472.0L616.9 1473.2L620.1 1474.3L623.2 1475.4L626.4 1476.5L629.6 1477.6L632.8 1478.7L636.0 1479.7L639.2 1480.7L642.4 1481.7L645.6 1482.7L648.8 1483.6L652.0 1484.6L655.2 1485.5L658.4 1486.4L661.6 1487.3L664.8 1488.2L668.0 1489.0L671.3 1489.9L674.5 1490.7L677.7 1491.5L681.0 1492.3L684.2 1493.1L687.4 1493.9L690.7 1494.6L693.9 1495.3L697.2 1496.1L700.4 1496.8L703.7 1497.4L707.0 1498.1L710.2 1498.8L713.5 1499.4L716.8 1500.0L720.0 1500.6L723.3 1501.2L726.6 1501.8L729.8 1502.4L733.1 1502.9L736.4 1503.5L739.7 1504.0L743.0 1504.5L746.3 1505.0L749.6 1505.5L752.9 1506.0L756.1 1506.4L759.4 1506.9L762.7 1507.3L766.0 1507.7L769.3 1508.1L772.7 1508.5L776.0 1508.9L779.3 1509.3L782.6 1509.6L785.9 1510.0L789.2 1510.3L792.5 1510.6L795.8 1511.0L799.1 1511.3L802.5 1511.5L805.8 1511.8L809.1 1512.1L812.4 1512.4L815.8 1512.6L819.1 1512.9L822.4 1513.1L825.7 1513.3L829.1 1513.6L832.4 1513.8L835.7 1514.0L839.0 1514.2L842.4 1514.4L845.7 1514.5L849.0 1514.7L852.4 1514.9L855.7 1515.0L859.0 1515.2L862.4 1515.4L865.7 1515.5L869.0 1515.6L872.4 1515.8L875.7 1515.9L879.0 1516.0L882.4 1516.1L885.7 1516.3L889.1 1516.4L892.4 1516.5L895.7 1516.6L899.1 1516.7L902.4 1516.8L905.7 1516.9L909.1 1517.0L912.4 1517.1L915.7 1517.2L919.1 1517.2L922.4 1517.3L925.7 1517.4L929.1 1517.5L932.4 1517.6L935.7 1517.7L939.0 1517.7L942.4 1517.8L945.7 1517.9L949.0 1518.0L952.3 1518.1L955.7 1518.2L959.0 1518.2L962.3 1518.3L965.6 1518.4L969.0 1518.5L972.3 1518.6" fill="none" stroke="#80ff00" stroke-width="4.0" stroke-linejoin="round"/>
<g fill="#80ff00" clip-path="url(#c2i)"><path d="M110.0 1362.6L117.4 1377.4L102.6 1377.4Z"/><path d="M196.3 848.3L203.7 863.1L188.9 863.1Z"/><path d="M282.6 1000.1L290.0 1014.9L275.2 1014.9Z"/><path d="M368.9 1204.3L376.3 1219.1L361.5 1219.1Z"/><path d="M455.2 1342.7L462.6 1357.5L447.8 1357.5Z"/><path d="M541.5 1422.3L548.9 1437.1L534.1 1437.1Z"/><path d="M627.8 1469.6L635.2 1484.4L620.4 1484.4Z"/><path d="M714.1 1492.1L721.5 1506.9L706.7 1506.9Z"/><path d="M800.4 1504.0L807.8 1518.8L793.0 1518.8Z"/><path d="M886.7 1508.9L894.1 1523.7L879.3 1523.7Z"/><path d="M973.0 1511.2L980.4 1526.0L965.6 1526.0Z"/></g>
</g>
<rect x="781.5" y="862.5" width="172" height="176" fill="#fff" stroke="#000" stroke-width="2"/>
<path d="M784.5 884.0H841.5" stroke="#000080" stroke-width="4"/>
<g fill="#000080"><path d="M792.1 877.4L799.5 892.2L784.7 892.2Z"/><path d="M811.6 877.4L819.0 892.2L804.2 892.2Z"/><path d="M831.4 877.4L838.8 892.2L824.0 892.2Z"/></g>
<text class="lg" transform="translate(851.0 893.8) scale(1.230 1)">&#945;</text>
<text class="lg" x="872.7" y="893.8">=0.1</text>
<path d="M784.5 927.5H841.5" stroke="#ff0000" stroke-width="4"/>
<g fill="#ff0000"><path d="M794.5 917.7L804.3 927.5L794.5 937.3L784.7 927.5Z"/><path d="M829.5 917.7L839.3 927.5L829.5 937.3L819.7 927.5Z"/></g>
<text class="lg" transform="translate(851.0 937.3) scale(1.230 1)">&#945;</text>
<text class="lg" x="872.7" y="937.3">=0.2</text>
<path d="M784.5 971.0H841.5" stroke="#000000" stroke-width="4"/>
<g fill="#000000"><circle cx="794.5" cy="971.0" r="10.0"/><circle cx="829.5" cy="971.0" r="10.0"/></g>
<text class="lg" transform="translate(851.0 980.8) scale(1.230 1)">&#945;</text>
<text class="lg" x="872.7" y="980.8">=0.3</text>
<path d="M784.5 1014.5H841.5" stroke="#80ff00" stroke-width="4"/>
<g fill="#80ff00"><path d="M792.1 1007.9L799.5 1022.7L784.7 1022.7Z"/><path d="M811.6 1007.9L819.0 1022.7L804.2 1022.7Z"/><path d="M831.4 1007.9L838.8 1022.7L824.0 1022.7Z"/></g>
<text class="lg" transform="translate(851.0 1024.3) scale(1.230 1)">&#945;</text>
<text class="lg" x="872.7" y="1024.3">=0.4</text>
<text class="pr" x="543.0" y="956.7">Pr=40</text>
<rect x="1125.6" y="843.0" width="863.2" height="678.0" fill="none" stroke="#000" stroke-width="2.2"/>
<path d="M1125.6 1488.7H1137.6M1974.8 1488.7H1988.8M1125.6 1456.4H1137.6M1974.8 1456.4H1988.8M1125.6 1424.1H1137.6M1974.8 1424.1H1988.8M1125.6 1391.9H1137.6M1974.8 1391.9H1988.8M1125.6 1359.6H1137.6M1974.8 1359.6H1988.8M1125.6 1327.3H1137.6M1974.8 1327.3H1988.8M1125.6 1295.0H1137.6M1974.8 1295.0H1988.8M1125.6 1262.7H1137.6M1974.8 1262.7H1988.8M1125.6 1230.4H1137.6M1974.8 1230.4H1988.8M1125.6 1198.1H1137.6M1974.8 1198.1H1988.8M1125.6 1165.9H1137.6M1974.8 1165.9H1988.8M1125.6 1133.6H1137.6M1974.8 1133.6H1988.8M1125.6 1101.3H1137.6M1974.8 1101.3H1988.8M1125.6 1069.0H1137.6M1974.8 1069.0H1988.8M1125.6 1036.7H1137.6M1974.8 1036.7H1988.8M1125.6 1004.4H1137.6M1974.8 1004.4H1988.8M1125.6 972.1H1137.6M1974.8 972.1H1988.8M1125.6 939.9H1137.6M1974.8 939.9H1988.8M1125.6 907.6H1137.6M1974.8 907.6H1988.8M1125.6 875.3H1137.6M1974.8 875.3H1988.8M1557.2 843.0V855.0M1557.2 1507.0V1521.0" stroke="#000" stroke-width="2" fill="none"/>
<g class="tl" text-anchor="end"><text x="1123.1" y="1532.8">0</text><text x="1123.1" y="1500.5">0.2</text><text x="1123.1" y="1468.2">0.4</text><text x="1123.1" y="1435.9">0.6</text><text x="1123.1" y="1403.7">0.8</text><text x="1123.1" y="1371.4">1</text><text x="1123.1" y="1339.1">1.2</text><text x="1123.1" y="1306.8">1.4</text><text x="1123.1" y="1274.5">1.6</text><text x="1123.1" y="1242.2">1.8</text><text x="1123.1" y="1209.9">2</text><text x="1123.1" y="1177.7">2.2</text><text x="1123.1" y="1145.4">2.4</text><text x="1123.1" y="1113.1">2.6</text><text x="1123.1" y="1080.8">2.8</text><text x="1123.1" y="1048.5">3</text><text x="1123.1" y="1016.2">3.2</text><text x="1123.1" y="983.9">3.4</text><text x="1123.1" y="951.7">3.6</text><text x="1123.1" y="919.4">3.8</text><text x="1123.1" y="887.1">4</text><text x="1123.1" y="854.8">4.2</text></g>
<g class="tl" text-anchor="middle"><text x="1131.2" y="1552.2">0</text><text x="1560.6" y="1552.2">0.5</text><text x="1994.4" y="1552.2">1</text></g>
<text class="al" x="1560.5" y="1596.0" text-anchor="middle">y</text>
<text class="ul" transform="translate(1053.8 1181.0) rotate(-90)" text-anchor="middle">u(y,t)</text>
<clipPath id="c3"><rect x="1124.6" y="842.0" width="865.2" height="680.0"/></clipPath>
<clipPath id="c3i"><rect x="1125.6" y="843.0" width="863.2" height="678.0"/></clipPath>
<g clip-path="url(#c3)">
<path d="M1125.7 1360.3L1127.0 1358.8L1128.3 1357.3L1129.6 1355.9L1130.9 1354.5L1132.3 1353.2L1133.7 1352.0L1135.1 1350.7L1136.6 1349.6L1138.1 1348.5L1139.6 1347.4L1141.1 1346.4L1142.6 1345.4L1144.2 1344.4L1145.8 1343.6L1147.4 1342.7L1149.0 1341.9L1150.6 1341.2L1152.3 1340.5L1153.9 1339.8L1155.6 1339.2L1157.3 1338.7L1159.0 1338.1L1160.7 1337.7L1162.4 1337.2L1164.2 1336.9L1165.9 1336.5L1167.7 1336.2L1169.4 1336.0L1171.2 1335.8L1173.0 1335.6L1174.8 1335.5L1176.5 1335.4L1178.3 1335.4L1180.1 1335.4L1181.9 1335.4L1183.7 1335.5L1185.5 1335.6L1187.3 1335.7L1189.1 1335.9L1190.9 1336.1L1192.7 1336.4L1194.5 1336.6L1196.3 1336.9L1198.1 1337.3L1199.9 1337.6L1201.7 1338.0L1203.5 1338.4L1205.2 1338.9L1207.0 1339.3L1208.8 1339.8L1210.5 1340.3L1212.3 1340.9L1214.0 1341.4L1215.7 1342.0L1217.5 1342.6L1219.2 1343.2L1220.9 1343.8L1222.6 1344.5L1224.2 1345.2L1225.9 1345.9L1227.6 1346.6L1229.3 1347.3L1230.9 1348.0L1232.6 1348.8L1234.2 1349.5L1235.8 1350.3L1237.5 1351.1L1239.1 1351.9L1240.7 1352.7L1242.3 1353.6L1243.9 1354.4L1245.5 1355.2L1247.1 1356.1L1248.7 1357.0L1250.3 1357.9L1251.9 1358.8L1253.4 1359.7L1255.0 1360.6L1256.6 1361.5L1258.2 1362.4L1259.7 1363.3L1261.3 1364.3L1262.8 1365.2L1264.4 1366.2L1265.9 1367.1L1267.5 1368.1L1269.0 1369.0L1270.6 1370.0L1272.1 1371.0L1273.7 1371.9L1275.2 1372.9L1276.8 1373.9L1278.3 1374.9L1279.8 1375.8L1281.4 1376.8L1282.9 1377.8L1284.5 1378.7L1286.0 1379.7L1287.6 1380.7L1289.1 1381.6L1290.7 1382.6L1292.2 1383.6L1293.8 1384.5L1295.3 1385.4L1296.9 1386.4L1298.4 1387.3L1300.0 1388.2L1301.5 1389.2L1303.1 1390.1L1304.7 1391.0L1306.3 1391.9L1307.8 1392.8L1309.4 1393.7L1311.0 1394.6L1312.6 1395.4L1314.1 1396.3L1315.7 1397.2L1317.3 1398.1L1318.9 1398.9L1320.5 1399.8L1322.1 1400.6L1323.7 1401.5L1325.3 1402.3L1326.9 1403.1L1328.5 1404.0L1330.1 1404.8L1331.7 1405.6L1333.3 1406.4L1334.9 1407.2L1336.6 1408.0L1338.2 1408.8L1339.8 1409.6L1341.4 1410.4L1343.0 1411.2L1344.7 1412.0L1346.3 1412.8L1347.9 1413.6L1349.5 1414.3L1351.2 1415.1L1352.8 1415.9L1354.4 1416.7L1356.1 1417.4L1357.7 1418.2L1359.3 1418.9L1361.0 1419.7L1362.6 1420.4L1364.3 1421.2L1365.9 1421.9L1367.6 1422.7L1369.2 1423.4L1370.9 1424.2L1372.5 1424.9L1374.2 1425.7L1375.8 1426.4L1377.5 1427.1L1379.1 1427.9L1380.8 1428.6L1382.4 1429.3L1384.1 1430.1L1385.7 1430.8L1387.4 1431.5L1389.1 1432.3L1390.7 1433.0L1392.4 1433.7L1394.0 1434.4L1395.7 1435.2L1397.4 1435.9L1399.0 1436.6L1400.7 1437.3L1402.4 1438.0L1404.0 1438.8L1405.7 1439.5L1407.4 1440.2L1409.0 1440.9L1410.7 1441.6L1412.4 1442.3L1414.1 1443.0L1415.7 1443.7L1417.4 1444.4L1419.1 1445.1L1420.8 1445.8L1422.5 1446.4L1424.1 1447.1L1425.8 1447.8L1427.5 1448.5L1429.2 1449.2L1430.9 1449.8L1432.6 1450.5L1434.3 1451.2L1436.0 1451.8L1437.6 1452.5L1439.3 1453.1L1441.0 1453.8L1442.7 1454.4L1444.4 1455.0L1446.1 1455.7L1447.8 1456.3L1449.5 1456.9L1451.2 1457.5L1453.0 1458.1L1454.7 1458.7L1456.4 1459.3L1458.1 1459.9L1459.8 1460.5L1461.5 1461.1L1463.2 1461.7L1464.9 1462.3L1466.7 1462.8L1468.4 1463.4L1470.1 1464.0L1471.8 1464.5L1473.6 1465.1L1475.3 1465.6L1477.0 1466.1L1478.8 1466.7L1480.5 1467.2L1482.2 1467.7L1484.0 1468.2L1485.7 1468.7L1487.4 1469.2L1489.2 1469.7L1490.9 1470.2L1492.7 1470.7L1494.4 1471.1L1496.2 1471.6L1497.9 1472.1L1499.7 1472.5L1501.4 1473.0L1503.2 1473.5L1504.9 1473.9L1506.7 1474.3L1508.4 1474.8L1510.2 1475.2L1512.0 1475.7L1513.7 1476.1L1515.5 1476.5L1517.2 1476.9L1519.0 1477.3L1520.8 1477.8L1522.5 1478.2L1524.3 1478.6L1526.1 1479.0L1527.8 1479.4L1529.6 1479.8L1531.4 1480.2L1533.1 1480.6L1534.9 1480.9L1536.7 1481.3L1538.5 1481.7L1540.2 1482.1L1542.0 1482.5L1543.8 1482.9L1545.6 1483.2L1547.3 1483.6L1549.1 1484.0L1550.9 1484.3L1552.7 1484.7L1554.4 1485.1L1556.2 1485.4L1558.0 1485.8L1559.8 1486.1L1561.6 1486.5L1563.3 1486.9L1565.1 1487.2L1566.9 1487.6L1568.7 1487.9L1570.5 1488.3L1572.2 1488.6L1574.0 1489.0L1575.8 1489.3L1577.6 1489.7L1579.4 1490.0L1581.1 1490.4L1582.9 1490.7L1584.7 1491.1L1586.5 1491.4L1588.3 1491.8L1590.0 1492.1L1591.8 1492.5L1593.6 1492.9L1595.4 1493.2L1597.2 1493.6L1598.9 1493.9L1600.7 1494.3L1602.5 1494.6L1604.3 1495.0L1606.1 1495.3L1607.8 1495.7L1609.6 1496.0L1611.4 1496.4L1613.2 1496.8L1615.0 1497.1L1616.7 1497.5L1618.5 1497.8L1620.3 1498.1L1622.1 1498.5L1623.9 1498.8L1625.6 1499.1L1627.4 1499.4L1629.2 1499.8L1631.0 1500.1L1632.8 1500.4L1634.6 1500.6L1636.3 1500.9L1638.1 1501.2L1639.9 1501.5L1641.7 1501.7L1643.5 1501.9L1645.3 1502.2L1647.1 1502.4L1648.9 1502.6L1650.7 1502.8L1652.5 1503.0L1654.3 1503.2L1656.1 1503.3L1657.9 1503.5L1659.7 1503.6L1661.5 1503.8L1663.3 1503.9L1665.1 1504.1L1666.9 1504.2L1668.7 1504.3L1670.5 1504.4L1672.3 1504.5L1674.1 1504.6L1675.9 1504.8L1677.7 1504.9L1679.6 1505.0L1681.4 1505.1L1683.2 1505.2L1685.0 1505.3L1686.8 1505.4L1688.6 1505.5L1690.4 1505.6L1692.2 1505.7L1694.0 1505.8L1695.8 1505.9L1697.7 1506.0L1699.5 1506.1L1701.3 1506.2L1703.1 1506.3L1704.9 1506.4L1706.7 1506.6L1708.5 1506.7L1710.3 1506.8L1712.1 1507.0L1713.9 1507.1L1715.7 1507.3L1717.6 1507.5L1719.4 1507.6L1721.2 1507.8L1723.0 1508.0L1724.8 1508.1L1726.6 1508.3L1728.4 1508.5L1730.2 1508.7L1732.0 1508.9L1733.8 1509.1L1735.6 1509.3L1737.4 1509.5L1739.2 1509.7L1741.0 1509.8L1742.8 1510.0L1744.6 1510.2L1746.4 1510.4L1748.2 1510.6L1750.0 1510.8L1751.8 1511.0L1753.6 1511.2L1755.4 1511.4L1757.2 1511.6L1759.0 1511.8L1760.9 1512.0L1762.7 1512.2L1764.5 1512.4L1766.3 1512.6L1768.1 1512.8L1769.9 1512.9L1771.7 1513.1L1773.5 1513.3L1775.3 1513.5L1777.1 1513.6L1778.9 1513.8L1780.7 1514.0L1782.5 1514.1L1784.3 1514.3L1786.1 1514.4L1787.9 1514.6L1789.7 1514.7L1791.5 1514.9L1793.3 1515.0L1795.2 1515.1L1797.0 1515.3L1798.8 1515.4L1800.6 1515.5L1802.4 1515.7L1804.2 1515.8L1806.0 1515.9L1807.8 1516.0L1809.6 1516.1L1811.4 1516.3L1813.2 1516.4L1815.1 1516.5L1816.9 1516.6L1818.7 1516.7L1820.5 1516.8L1822.3 1516.9L1824.1 1517.0L1825.9 1517.1L1827.7 1517.2L1829.5 1517.2L1831.3 1517.3L1833.2 1517.4L1835.0 1517.5L1836.8 1517.6L1838.6 1517.7L1840.4 1517.7L1842.2 1517.8L1844.0 1517.9L1845.8 1517.9L1847.6 1518.0L1849.5 1518.1L1851.3 1518.1L1853.1 1518.2L1854.9 1518.3L1856.7 1518.3L1858.5 1518.4L1860.3 1518.4L1862.1 1518.5L1864.0 1518.5L1865.8 1518.6L1867.6 1518.6L1869.4 1518.7L1871.2 1518.7L1873.0 1518.7L1874.8 1518.8L1876.7 1518.8L1878.5 1518.9L1880.3 1518.9L1882.1 1518.9L1883.9 1519.0L1885.7 1519.0L1887.5 1519.0L1889.4 1519.1L1891.2 1519.1L1893.0 1519.1L1894.8 1519.1L1896.6 1519.2L1898.4 1519.2L1900.2 1519.2L1902.0 1519.2L1903.9 1519.2L1905.7 1519.3L1907.5 1519.3L1909.3 1519.3L1911.1 1519.3L1912.9 1519.3L1914.7 1519.3L1916.6 1519.4L1918.4 1519.4L1920.2 1519.4L1922.0 1519.4L1923.8 1519.4L1925.6 1519.4L1927.4 1519.4L1929.3 1519.4L1931.1 1519.4L1932.9 1519.4L1934.7 1519.4L1936.5 1519.5L1938.3 1519.5L1940.1 1519.5L1942.0 1519.5L1943.8 1519.5L1945.6 1519.5L1947.4 1519.5L1949.2 1519.5L1951.0 1519.5L1952.8 1519.5L1954.7 1519.5L1956.5 1519.5L1958.3 1519.5L1960.1 1519.5L1961.9 1519.5L1963.7 1519.5L1965.5 1519.5L1967.3 1519.5L1969.2 1519.5L1971.0 1519.5L1972.8 1519.5L1974.6 1519.5L1976.4 1519.6L1978.2 1519.6L1980.0 1519.6L1981.8 1519.6L1983.7 1519.6L1985.5 1519.6L1987.3 1519.6L1989.1 1519.6" fill="none" stroke="#000080" stroke-width="4.0" stroke-linejoin="round"/>
<g fill="#000080" clip-path="url(#c3i)"><path d="M1125.6 1352.9L1133.0 1367.7L1118.2 1367.7Z"/><path d="M1211.9 1333.4L1219.3 1348.2L1204.5 1348.2Z"/><path d="M1298.2 1379.8L1305.6 1394.6L1290.8 1394.6Z"/><path d="M1384.6 1422.9L1392.0 1437.7L1377.2 1437.7Z"/><path d="M1470.9 1456.8L1478.3 1471.6L1463.5 1471.6Z"/><path d="M1557.2 1478.2L1564.6 1493.0L1549.8 1493.0Z"/><path d="M1643.5 1494.5L1650.9 1509.3L1636.1 1509.3Z"/><path d="M1729.8 1501.3L1737.2 1516.1L1722.4 1516.1Z"/><path d="M1816.2 1509.1L1823.6 1523.9L1808.8 1523.9Z"/><path d="M1902.5 1511.8L1909.9 1526.6L1895.1 1526.6Z"/><path d="M1988.8 1512.2L1996.2 1527.0L1981.4 1527.0Z"/></g>
<path d="M1125.7 1359.6L1126.7 1357.6L1127.5 1355.6L1128.3 1353.5L1129.0 1351.4L1129.7 1349.3L1130.3 1347.2L1130.8 1345.1L1131.3 1342.9L1131.7 1340.8L1132.1 1338.6L1132.4 1336.4L1132.8 1334.2L1133.1 1332.0L1133.4 1329.8L1133.6 1327.6L1133.9 1325.4L1134.2 1323.2L1134.4 1321.0L1134.7 1318.8L1135.0 1316.6L1135.3 1314.4L1135.7 1312.2L1136.0 1310.0L1136.4 1307.8L1136.8 1305.6L1137.2 1303.4L1137.6 1301.2L1138.0 1299.0L1138.5 1296.9L1138.9 1294.7L1139.4 1292.5L1139.9 1290.3L1140.4 1288.2L1140.9 1286.0L1141.4 1283.9L1141.9 1281.7L1142.4 1279.5L1142.9 1277.4L1143.5 1275.2L1144.0 1273.1L1144.6 1271.0L1145.1 1268.8L1145.7 1266.7L1146.3 1264.6L1146.9 1262.4L1147.5 1260.3L1148.1 1258.2L1148.7 1256.1L1149.4 1254.0L1150.0 1251.9L1150.7 1249.8L1151.4 1247.7L1152.1 1245.6L1152.8 1243.5L1153.5 1241.4L1154.3 1239.3L1155.1 1237.3L1155.8 1235.2L1156.6 1233.1L1157.5 1231.1L1158.3 1229.0L1159.2 1227.0L1160.0 1224.9L1160.9 1222.9L1161.8 1220.8L1162.8 1218.8L1163.8 1216.8L1164.8 1214.8L1165.8 1212.8L1166.9 1210.8L1168.0 1208.9L1169.1 1207.0L1170.3 1205.1L1171.5 1203.2L1172.8 1201.4L1174.1 1199.6L1175.5 1197.8L1177.0 1196.1L1178.5 1194.4L1180.1 1192.7L1181.7 1191.1L1183.4 1189.6L1185.2 1188.1L1187.0 1186.7L1188.8 1185.3L1190.7 1184.1L1192.6 1182.9L1194.6 1181.9L1196.6 1180.9L1198.7 1180.0L1200.7 1179.3L1202.8 1178.7L1204.9 1178.2L1207.0 1177.9L1209.2 1177.7L1211.3 1177.6L1213.5 1177.7L1215.6 1178.0L1217.8 1178.3L1219.9 1178.8L1222.1 1179.4L1224.2 1180.1L1226.3 1180.9L1228.3 1181.7L1230.3 1182.7L1232.3 1183.7L1234.2 1184.8L1236.1 1185.9L1238.0 1187.1L1239.8 1188.4L1241.6 1189.7L1243.4 1191.0L1245.1 1192.4L1246.8 1193.9L1248.5 1195.4L1250.1 1196.9L1251.8 1198.4L1253.4 1200.0L1254.9 1201.6L1256.5 1203.3L1258.0 1204.9L1259.6 1206.6L1261.1 1208.3L1262.6 1210.0L1264.0 1211.7L1265.5 1213.4L1267.0 1215.1L1268.4 1216.9L1269.8 1218.6L1271.3 1220.3L1272.7 1222.0L1274.1 1223.7L1275.5 1225.5L1277.0 1227.2L1278.4 1228.9L1279.8 1230.6L1281.2 1232.3L1282.6 1234.0L1284.0 1235.7L1285.4 1237.4L1286.8 1239.1L1288.2 1240.8L1289.6 1242.5L1291.0 1244.2L1292.4 1245.9L1293.8 1247.6L1295.2 1249.3L1296.6 1251.0L1298.0 1252.7L1299.4 1254.4L1300.8 1256.1L1302.2 1257.8L1303.6 1259.5L1305.1 1261.1L1306.5 1262.8L1307.9 1264.5L1309.4 1266.2L1310.8 1267.8L1312.2 1269.5L1313.7 1271.2L1315.1 1272.8L1316.6 1274.5L1318.1 1276.2L1319.5 1277.8L1321.0 1279.5L1322.4 1281.1L1323.9 1282.8L1325.4 1284.5L1326.9 1286.1L1328.4 1287.8L1329.8 1289.4L1331.3 1291.1L1332.8 1292.7L1334.3 1294.3L1335.8 1296.0L1337.3 1297.6L1338.8 1299.3L1340.3 1300.9L1341.8 1302.5L1343.3 1304.2L1344.8 1305.8L1346.3 1307.4L1347.8 1309.1L1349.4 1310.7L1350.9 1312.3L1352.4 1313.9L1353.9 1315.5L1355.4 1317.2L1357.0 1318.8L1358.5 1320.4L1360.0 1322.0L1361.5 1323.6L1363.1 1325.2L1364.6 1326.9L1366.1 1328.5L1367.7 1330.1L1369.2 1331.7L1370.8 1333.3L1372.3 1334.9L1373.8 1336.5L1375.4 1338.1L1376.9 1339.7L1378.5 1341.3L1380.0 1342.9L1381.6 1344.5L1383.1 1346.1L1384.6 1347.6L1386.2 1349.2L1387.7 1350.8L1389.3 1352.4L1390.8 1354.0L1392.4 1355.6L1394.0 1357.1L1395.5 1358.7L1397.1 1360.3L1398.7 1361.8L1400.2 1363.4L1401.8 1364.9L1403.4 1366.5L1405.0 1368.0L1406.6 1369.5L1408.2 1371.0L1409.8 1372.5L1411.5 1374.0L1413.1 1375.4L1414.8 1376.9L1416.4 1378.3L1418.1 1379.7L1419.8 1381.1L1421.5 1382.5L1423.2 1383.9L1425.0 1385.3L1426.7 1386.6L1428.5 1387.9L1430.2 1389.2L1432.0 1390.6L1433.8 1391.9L1435.6 1393.2L1437.3 1394.5L1439.1 1395.8L1440.9 1397.1L1442.7 1398.4L1444.5 1399.7L1446.3 1401.0L1448.1 1402.3L1449.9 1403.5L1451.7 1404.8L1453.6 1406.1L1455.4 1407.4L1457.2 1408.7L1459.0 1410.0L1460.8 1411.3L1462.7 1412.5L1464.5 1413.8L1466.4 1415.0L1468.2 1416.3L1470.0 1417.5L1471.9 1418.8L1473.8 1420.0L1475.6 1421.3L1477.5 1422.5L1479.3 1423.7L1481.2 1424.9L1483.1 1426.1L1485.0 1427.3L1486.9 1428.4L1488.8 1429.6L1490.7 1430.8L1492.6 1431.9L1494.5 1433.0L1496.4 1434.1L1498.3 1435.3L1500.3 1436.4L1502.2 1437.4L1504.1 1438.5L1506.1 1439.6L1508.0 1440.7L1510.0 1441.7L1511.9 1442.7L1513.9 1443.8L1515.9 1444.8L1517.8 1445.8L1519.8 1446.8L1521.8 1447.8L1523.8 1448.8L1525.8 1449.7L1527.8 1450.7L1529.7 1451.6L1531.8 1452.6L1533.8 1453.5L1535.8 1454.4L1537.8 1455.3L1539.8 1456.2L1541.8 1457.1L1543.9 1458.0L1545.9 1458.9L1547.9 1459.7L1550.0 1460.6L1552.0 1461.4L1554.1 1462.3L1556.1 1463.1L1558.2 1463.9L1560.2 1464.7L1562.3 1465.5L1564.3 1466.3L1566.4 1467.1L1568.5 1467.8L1570.6 1468.6L1572.6 1469.4L1574.7 1470.1L1576.8 1470.8L1578.9 1471.6L1581.0 1472.3L1583.1 1473.0L1585.2 1473.7L1587.3 1474.4L1589.4 1475.1L1591.5 1475.8L1593.6 1476.4L1595.7 1477.1L1597.8 1477.7L1600.0 1478.4L1602.1 1479.0L1604.2 1479.7L1606.3 1480.3L1608.5 1480.9L1610.6 1481.5L1612.7 1482.1L1614.9 1482.7L1617.0 1483.3L1619.2 1483.9L1621.3 1484.4L1623.4 1485.0L1625.6 1485.6L1627.7 1486.1L1629.9 1486.7L1632.0 1487.2L1634.2 1487.7L1636.4 1488.2L1638.5 1488.8L1640.7 1489.3L1642.8 1489.8L1645.0 1490.3L1647.2 1490.8L1649.3 1491.3L1651.5 1491.7L1653.7 1492.2L1655.9 1492.7L1658.0 1493.2L1660.2 1493.6L1662.4 1494.1L1664.6 1494.5L1666.7 1495.0L1668.9 1495.4L1671.1 1495.8L1673.3 1496.3L1675.5 1496.7L1677.6 1497.1L1679.8 1497.5L1682.0 1497.9L1684.2 1498.3L1686.4 1498.7L1688.6 1499.1L1690.8 1499.5L1692.9 1499.9L1695.1 1500.3L1697.3 1500.7L1699.5 1501.0L1701.7 1501.4L1703.9 1501.8L1706.1 1502.1L1708.3 1502.5L1710.5 1502.9L1712.7 1503.2L1714.9 1503.6L1717.0 1503.9L1719.2 1504.2L1721.4 1504.6L1723.6 1504.9L1725.8 1505.2L1728.0 1505.6L1730.2 1505.9L1732.4 1506.2L1734.6 1506.5L1736.8 1506.8L1739.0 1507.1L1741.2 1507.4L1743.4 1507.7L1745.6 1508.0L1747.8 1508.3L1750.0 1508.6L1752.2 1508.9L1754.4 1509.2L1756.6 1509.4L1758.8 1509.7L1761.0 1510.0L1763.2 1510.2L1765.4 1510.5L1767.6 1510.8L1769.8 1511.0L1772.0 1511.3L1774.2 1511.5L1776.4 1511.8L1778.6 1512.0L1780.8 1512.2L1783.0 1512.5L1785.2 1512.7L1787.4 1512.9L1789.6 1513.1L1791.8 1513.4L1794.0 1513.6L1796.2 1513.8L1798.4 1514.0L1800.6 1514.2L1802.8 1514.4L1805.0 1514.6L1807.2 1514.8L1809.4 1515.0L1811.6 1515.2L1813.8 1515.3L1816.0 1515.5L1818.2 1515.7L1820.5 1515.9L1822.7 1516.0L1824.9 1516.2L1827.1 1516.4L1829.3 1516.5L1831.5 1516.7L1833.7 1516.8L1835.9 1517.0L1838.1 1517.1L1840.3 1517.3L1842.5 1517.4L1844.7 1517.6L1847.0 1517.7L1849.2 1517.8L1851.4 1517.9L1853.6 1518.1L1855.8 1518.2L1858.0 1518.3L1860.2 1518.4L1862.4 1518.5L1864.6 1518.6L1866.9 1518.7L1869.1 1518.8L1871.3 1518.9L1873.5 1519.0L1875.7 1519.1L1877.9 1519.2L1880.1 1519.3L1882.4 1519.4L1884.6 1519.4L1886.8 1519.5L1889.0 1519.6L1891.2 1519.6L1893.4 1519.7L1895.6 1519.8L1897.9 1519.8L1900.1 1519.9L1902.3 1519.9L1904.5 1520.0L1906.7 1520.0L1908.9 1520.1L1911.2 1520.1L1913.4 1520.1L1915.6 1520.2L1917.8 1520.2L1920.0 1520.2L1922.2 1520.3L1924.5 1520.3L1926.7 1520.3L1928.9 1520.3L1931.1 1520.3L1933.3 1520.3L1935.5 1520.3L1937.8 1520.3L1940.0 1520.3L1942.2 1520.3L1944.4 1520.3L1946.6 1520.3L1948.9 1520.3L1951.1 1520.3L1953.3 1520.3L1955.5 1520.3L1957.7 1520.2L1960.0 1520.2L1962.2 1520.2L1964.4 1520.2L1966.6 1520.1L1968.9 1520.1L1971.1 1520.1L1973.3 1520.0L1975.5 1520.0L1977.7 1519.9L1980.0 1519.9L1982.2 1519.8L1984.4 1519.8L1986.6 1519.7L1988.9 1519.6" fill="none" stroke="#ff0000" stroke-width="4.0" stroke-linejoin="round"/>
<g fill="#ff0000" clip-path="url(#c3i)"><path d="M1125.6 1349.8L1135.4 1359.6L1125.6 1369.4L1115.8 1359.6Z"/><path d="M1177.4 1185.8L1187.2 1195.6L1177.4 1205.4L1167.6 1195.6Z"/><path d="M1229.2 1172.3L1239.0 1182.1L1229.2 1191.9L1219.4 1182.1Z"/><path d="M1281.0 1222.3L1290.8 1232.1L1281.0 1241.9L1271.2 1232.1Z"/><path d="M1332.8 1282.9L1342.6 1292.7L1332.8 1302.5L1323.0 1292.7Z"/><path d="M1384.6 1337.8L1394.4 1347.6L1384.6 1357.4L1374.8 1347.6Z"/><path d="M1436.4 1383.9L1446.2 1393.7L1436.4 1403.5L1426.6 1393.7Z"/><path d="M1488.1 1419.4L1497.9 1429.2L1488.1 1439.0L1478.3 1429.2Z"/><path d="M1539.9 1446.5L1549.7 1456.3L1539.9 1466.1L1530.1 1456.3Z"/><path d="M1591.7 1466.0L1601.5 1475.8L1591.7 1485.6L1581.9 1475.8Z"/><path d="M1643.5 1480.1L1653.3 1489.9L1643.5 1499.7L1633.7 1489.9Z"/><path d="M1695.3 1490.5L1705.1 1500.3L1695.3 1510.1L1685.5 1500.3Z"/><path d="M1747.1 1498.4L1756.9 1508.2L1747.1 1518.0L1737.3 1508.2Z"/><path d="M1798.9 1504.2L1808.7 1514.0L1798.9 1523.8L1789.1 1514.0Z"/><path d="M1850.7 1508.1L1860.5 1517.9L1850.7 1527.7L1840.9 1517.9Z"/><path d="M1902.5 1510.1L1912.3 1519.9L1902.5 1529.7L1892.7 1519.9Z"/><path d="M1954.3 1510.5L1964.1 1520.3L1954.3 1530.1L1944.5 1520.3Z"/></g>
<path d="M1126.2 1359.6L1126.5 1357.0L1126.8 1354.3L1127.1 1351.6L1127.4 1349.0L1127.8 1346.3L1128.1 1343.6L1128.4 1341.0L1128.7 1338.3L1129.0 1335.6L1129.3 1333.0L1129.6 1330.3L1129.9 1327.6L1130.2 1324.9L1130.5 1322.3L1130.8 1319.6L1131.1 1316.9L1131.4 1314.2L1131.7 1311.6L1132.0 1308.9L1132.3 1306.2L1132.6 1303.5L1132.9 1300.9L1133.2 1298.2L1133.5 1295.5L1133.8 1292.8L1134.1 1290.1L1134.4 1287.5L1134.7 1284.8L1135.0 1282.1L1135.3 1279.4L1135.6 1276.7L1135.9 1274.0L1136.2 1271.4L1136.5 1268.7L1136.9 1266.0L1137.2 1263.3L1137.5 1260.6L1137.8 1258.0L1138.1 1255.3L1138.4 1252.6L1138.8 1249.9L1139.1 1247.2L1139.4 1244.6L1139.7 1241.9L1140.1 1239.2L1140.4 1236.5L1140.8 1233.8L1141.1 1231.2L1141.5 1228.5L1141.8 1225.8L1142.2 1223.1L1142.5 1220.5L1142.9 1217.8L1143.3 1215.1L1143.6 1212.4L1144.0 1209.8L1144.4 1207.1L1144.8 1204.4L1145.2 1201.8L1145.6 1199.1L1146.0 1196.4L1146.4 1193.8L1146.8 1191.1L1147.2 1188.4L1147.6 1185.8L1148.1 1183.1L1148.5 1180.5L1148.9 1177.8L1149.4 1175.2L1149.8 1172.5L1150.3 1169.8L1150.8 1167.2L1151.2 1164.5L1151.7 1161.9L1152.2 1159.3L1152.7 1156.6L1153.2 1154.0L1153.7 1151.3L1154.3 1148.7L1154.8 1146.0L1155.3 1143.4L1155.9 1140.8L1156.4 1138.1L1157.0 1135.5L1157.5 1132.9L1158.1 1130.3L1158.7 1127.6L1159.3 1125.0L1159.9 1122.4L1160.5 1119.8L1161.1 1117.2L1161.8 1114.6L1162.4 1112.0L1163.1 1109.3L1163.7 1106.7L1164.4 1104.1L1165.1 1101.5L1165.8 1098.9L1166.5 1096.4L1167.3 1093.8L1168.0 1091.2L1168.8 1088.6L1169.6 1086.0L1170.4 1083.5L1171.2 1080.9L1172.1 1078.3L1173.0 1075.8L1173.9 1073.2L1174.9 1070.7L1175.9 1068.1L1176.9 1065.6L1178.0 1063.1L1179.1 1060.5L1180.3 1058.0L1181.5 1055.5L1182.7 1053.1L1184.1 1050.7L1185.5 1048.4L1187.1 1046.2L1188.7 1044.0L1190.5 1041.9L1192.4 1040.0L1194.5 1038.2L1196.7 1036.5L1199.0 1035.0L1201.4 1033.7L1203.9 1032.6L1206.5 1031.7L1209.0 1031.0L1211.6 1030.6L1214.1 1030.4L1216.6 1030.5L1219.1 1030.9L1221.4 1031.6L1223.8 1032.5L1226.0 1033.6L1228.3 1034.8L1230.5 1036.3L1232.6 1037.9L1234.7 1039.6L1236.7 1041.4L1238.7 1043.4L1240.6 1045.4L1242.5 1047.5L1244.4 1049.6L1246.2 1051.7L1247.9 1053.9L1249.7 1056.0L1251.3 1058.2L1253.0 1060.4L1254.6 1062.6L1256.1 1064.8L1257.7 1067.0L1259.2 1069.3L1260.7 1071.5L1262.2 1073.8L1263.6 1076.0L1265.1 1078.3L1266.5 1080.6L1267.9 1082.8L1269.3 1085.1L1270.7 1087.4L1272.1 1089.7L1273.4 1092.0L1274.8 1094.3L1276.2 1096.6L1277.5 1098.9L1278.9 1101.2L1280.2 1103.6L1281.6 1105.9L1282.9 1108.2L1284.3 1110.5L1285.6 1112.9L1286.9 1115.2L1288.3 1117.5L1289.6 1119.9L1290.9 1122.2L1292.2 1124.5L1293.5 1126.9L1294.9 1129.2L1296.2 1131.6L1297.5 1133.9L1298.8 1136.3L1300.1 1138.6L1301.4 1141.0L1302.7 1143.4L1304.0 1145.7L1305.3 1148.1L1306.6 1150.4L1307.9 1152.8L1309.2 1155.1L1310.5 1157.5L1311.8 1159.9L1313.1 1162.2L1314.4 1164.6L1315.7 1166.9L1317.0 1169.3L1318.3 1171.7L1319.6 1174.0L1320.9 1176.4L1322.3 1178.7L1323.6 1181.1L1324.9 1183.4L1326.2 1185.8L1327.5 1188.1L1328.9 1190.5L1330.2 1192.8L1331.5 1195.1L1332.9 1197.5L1334.2 1199.8L1335.6 1202.1L1336.9 1204.5L1338.3 1206.8L1339.6 1209.1L1341.0 1211.4L1342.4 1213.8L1343.8 1216.1L1345.1 1218.4L1346.5 1220.7L1347.9 1223.0L1349.3 1225.3L1350.7 1227.6L1352.1 1229.9L1353.6 1232.2L1355.0 1234.4L1356.4 1236.7L1357.8 1239.0L1359.3 1241.3L1360.7 1243.6L1362.2 1245.8L1363.6 1248.1L1365.1 1250.4L1366.5 1252.6L1368.0 1254.9L1369.5 1257.1L1371.0 1259.4L1372.4 1261.6L1373.9 1263.9L1375.4 1266.1L1376.9 1268.3L1378.4 1270.6L1380.0 1272.8L1381.5 1275.0L1383.0 1277.2L1384.5 1279.4L1386.1 1281.6L1387.6 1283.8L1389.2 1286.1L1390.7 1288.2L1392.3 1290.4L1393.9 1292.6L1395.4 1294.8L1397.0 1297.0L1398.6 1299.2L1400.2 1301.4L1401.8 1303.5L1403.4 1305.7L1405.0 1307.8L1406.6 1310.0L1408.3 1312.2L1409.9 1314.3L1411.5 1316.4L1413.2 1318.6L1414.8 1320.7L1416.5 1322.8L1418.2 1325.0L1419.8 1327.1L1421.5 1329.2L1423.2 1331.3L1424.9 1333.4L1426.6 1335.5L1428.3 1337.6L1430.0 1339.7L1431.7 1341.8L1433.5 1343.9L1435.2 1346.0L1436.9 1348.0L1438.7 1350.1L1440.5 1352.1L1442.2 1354.2L1444.0 1356.2L1445.8 1358.2L1447.6 1360.2L1449.4 1362.2L1451.2 1364.2L1453.1 1366.2L1454.9 1368.2L1456.8 1370.1L1458.6 1372.1L1460.5 1374.0L1462.4 1375.9L1464.3 1377.9L1466.2 1379.8L1468.1 1381.6L1470.0 1383.5L1472.0 1385.4L1473.9 1387.2L1475.9 1389.1L1477.9 1390.9L1479.9 1392.7L1481.9 1394.5L1483.9 1396.2L1485.9 1398.0L1488.0 1399.7L1490.0 1401.5L1492.1 1403.2L1494.2 1404.9L1496.3 1406.5L1498.4 1408.2L1500.5 1409.8L1502.7 1411.4L1504.8 1413.0L1507.0 1414.6L1509.2 1416.2L1511.4 1417.7L1513.6 1419.3L1515.8 1420.8L1518.1 1422.3L1520.3 1423.8L1522.6 1425.3L1524.8 1426.7L1527.1 1428.2L1529.4 1429.6L1531.7 1431.0L1534.0 1432.4L1536.3 1433.8L1538.6 1435.2L1541.0 1436.6L1543.3 1437.9L1545.7 1439.3L1548.0 1440.6L1550.4 1441.9L1552.8 1443.2L1555.2 1444.5L1557.5 1445.8L1559.9 1447.1L1562.3 1448.3L1564.7 1449.6L1567.1 1450.8L1569.6 1452.0L1572.0 1453.3L1574.4 1454.5L1576.8 1455.7L1579.3 1456.9L1581.7 1458.1L1584.1 1459.2L1586.6 1460.4L1589.0 1461.6L1591.5 1462.7L1593.9 1463.9L1596.3 1465.0L1598.8 1466.2L1601.2 1467.3L1603.7 1468.4L1606.2 1469.5L1608.6 1470.7L1611.1 1471.8L1613.5 1472.8L1616.0 1473.9L1618.5 1475.0L1620.9 1476.0L1623.4 1477.0L1625.9 1478.0L1628.4 1479.0L1630.9 1479.9L1633.4 1480.8L1635.9 1481.7L1638.5 1482.6L1641.0 1483.4L1643.6 1484.2L1646.1 1484.9L1648.7 1485.6L1651.3 1486.3L1653.9 1487.0L1656.5 1487.6L1659.2 1488.2L1661.8 1488.7L1664.4 1489.3L1667.1 1489.8L1669.7 1490.3L1672.4 1490.8L1675.1 1491.3L1677.7 1491.7L1680.4 1492.2L1683.1 1492.6L1685.8 1493.1L1688.4 1493.5L1691.1 1494.0L1693.8 1494.4L1696.5 1494.9L1699.1 1495.3L1701.8 1495.8L1704.5 1496.3L1707.2 1496.7L1709.8 1497.2L1712.5 1497.7L1715.1 1498.3L1717.8 1498.8L1720.4 1499.3L1723.1 1499.9L1725.7 1500.4L1728.4 1501.0L1731.0 1501.6L1733.7 1502.1L1736.3 1502.7L1738.9 1503.3L1741.6 1503.8L1744.2 1504.4L1746.8 1505.0L1749.5 1505.5L1752.1 1506.1L1754.8 1506.6L1757.4 1507.2L1760.0 1507.7L1762.7 1508.2L1765.3 1508.7L1767.9 1509.2L1770.6 1509.7L1773.2 1510.1L1775.9 1510.6L1778.5 1511.0L1781.2 1511.4L1783.9 1511.8L1786.5 1512.2L1789.2 1512.6L1791.8 1513.0L1794.5 1513.3L1797.2 1513.6L1799.8 1514.0L1802.5 1514.3L1805.2 1514.5L1807.9 1514.8L1810.5 1515.1L1813.2 1515.3L1815.9 1515.6L1818.6 1515.8L1821.3 1516.0L1823.9 1516.2L1826.6 1516.4L1829.3 1516.6L1832.0 1516.8L1834.7 1517.0L1837.4 1517.1L1840.1 1517.3L1842.8 1517.4L1845.5 1517.6L1848.2 1517.7L1850.9 1517.8L1853.6 1517.9L1856.3 1518.0L1859.0 1518.1L1861.7 1518.2L1864.4 1518.3L1867.1 1518.3L1869.8 1518.4L1872.5 1518.5L1875.2 1518.5L1877.9 1518.6L1880.6 1518.6L1883.3 1518.7L1886.0 1518.7L1888.7 1518.7L1891.4 1518.8L1894.1 1518.8L1896.8 1518.8L1899.5 1518.8L1902.3 1518.8L1905.0 1518.8L1907.7 1518.9L1910.4 1518.9L1913.1 1518.9L1915.8 1518.9L1918.5 1518.9L1921.2 1518.9L1923.9 1518.9L1926.6 1518.9L1929.3 1518.9L1932.0 1518.9L1934.7 1518.9L1937.4 1518.9L1940.1 1518.9L1942.8 1518.9L1945.5 1518.9L1948.2 1518.9L1950.9 1518.9L1953.6 1519.0L1956.3 1519.0L1959.0 1519.0L1961.7 1519.0L1964.4 1519.1L1967.0 1519.1L1969.7 1519.1L1972.4 1519.2L1975.1 1519.2L1977.8 1519.3L1980.5 1519.3L1983.1 1519.4L1985.8 1519.5L1988.5 1519.5" fill="none" stroke="#000000" stroke-width="4.0" stroke-linejoin="round"/>
<g fill="#000000" clip-path="url(#c3i)"><circle cx="1125.6" cy="1359.6" r="10.0"/><circle cx="1211.9" cy="1030.5" r="10.0"/><circle cx="1298.2" cy="1135.3" r="10.0"/><circle cx="1384.6" cy="1279.5" r="10.0"/><circle cx="1470.9" cy="1384.3" r="10.0"/><circle cx="1557.2" cy="1445.6" r="10.0"/><circle cx="1643.5" cy="1484.1" r="10.0"/><circle cx="1729.8" cy="1501.3" r="10.0"/><circle cx="1816.2" cy="1515.6" r="10.0"/><circle cx="1902.5" cy="1518.8" r="10.0"/><circle cx="1988.8" cy="1519.5" r="10.0"/></g>
<path d="M1125.5 1359.6L1125.8 1356.3L1126.0 1353.0L1126.2 1349.7L1126.5 1346.4L1126.7 1343.0L1127.0 1339.7L1127.2 1336.4L1127.4 1333.1L1127.7 1329.8L1127.9 1326.4L1128.2 1323.1L1128.4 1319.8L1128.6 1316.5L1128.9 1313.2L1129.1 1309.9L1129.4 1306.5L1129.6 1303.2L1129.8 1299.9L1130.1 1296.6L1130.3 1293.3L1130.6 1290.0L1130.8 1286.6L1131.1 1283.3L1131.3 1280.0L1131.6 1276.7L1131.8 1273.4L1132.1 1270.1L1132.3 1266.8L1132.6 1263.5L1132.8 1260.1L1133.1 1256.8L1133.3 1253.5L1133.6 1250.2L1133.9 1246.9L1134.1 1243.6L1134.4 1240.3L1134.6 1237.0L1134.9 1233.7L1135.2 1230.4L1135.4 1227.0L1135.7 1223.7L1136.0 1220.4L1136.3 1217.1L1136.5 1213.8L1136.8 1210.5L1137.1 1207.2L1137.4 1203.9L1137.6 1200.6L1137.9 1197.3L1138.2 1194.0L1138.5 1190.7L1138.8 1187.4L1139.1 1184.1L1139.4 1180.7L1139.7 1177.4L1140.0 1174.1L1140.3 1170.8L1140.6 1167.5L1140.9 1164.2L1141.2 1160.9L1141.5 1157.6L1141.8 1154.3L1142.1 1151.0L1142.5 1147.7L1142.8 1144.4L1143.1 1141.1L1143.4 1137.8L1143.8 1134.5L1144.1 1131.2L1144.4 1127.9L1144.8 1124.6L1145.1 1121.3L1145.5 1118.0L1145.8 1114.7L1146.2 1111.4L1146.5 1108.1L1146.9 1104.8L1147.2 1101.5L1147.6 1098.2L1148.0 1094.9L1148.3 1091.6L1148.7 1088.3L1149.1 1085.0L1149.5 1081.7L1149.9 1078.4L1150.2 1075.1L1150.6 1071.8L1151.0 1068.5L1151.4 1065.2L1151.8 1061.9L1152.2 1058.6L1152.7 1055.3L1153.1 1052.0L1153.5 1048.7L1153.9 1045.4L1154.3 1042.1L1154.8 1038.8L1155.2 1035.5L1155.7 1032.2L1156.1 1028.9L1156.6 1025.6L1157.0 1022.3L1157.5 1019.0L1157.9 1015.7L1158.4 1012.4L1158.9 1009.1L1159.3 1005.8L1159.8 1002.5L1160.3 999.2L1160.8 995.9L1161.3 992.6L1161.8 989.3L1162.3 986.0L1162.8 982.7L1163.4 979.5L1163.9 976.2L1164.5 972.9L1165.0 969.6L1165.6 966.3L1166.2 963.1L1166.7 959.8L1167.3 956.5L1167.9 953.3L1168.6 950.0L1169.2 946.8L1169.8 943.5L1170.5 940.3L1171.2 937.1L1171.8 933.8L1172.5 930.6L1173.2 927.4L1174.0 924.2L1174.7 921.0L1175.5 917.8L1176.2 914.6L1177.0 911.4L1177.8 908.2L1178.7 905.1L1179.5 901.9L1180.4 898.7L1181.4 895.6L1182.4 892.4L1183.4 889.3L1184.5 886.1L1185.7 882.9L1187.0 879.8L1188.3 876.6L1189.8 873.4L1191.3 870.2L1192.9 867.1L1194.7 864.1L1196.6 861.2L1198.6 858.6L1200.7 856.2L1203.0 854.2L1205.5 852.6L1208.2 851.5L1211.0 850.9L1214.0 850.8L1217.2 851.3L1220.5 852.2L1223.7 853.6L1226.9 855.2L1229.9 857.2L1232.7 859.3L1235.2 861.6L1237.5 864.0L1239.7 866.6L1241.6 869.2L1243.5 871.9L1245.3 874.7L1246.9 877.5L1248.5 880.4L1250.0 883.3L1251.5 886.3L1252.9 889.3L1254.3 892.3L1255.6 895.3L1257.0 898.3L1258.3 901.4L1259.6 904.4L1261.0 907.5L1262.3 910.5L1263.6 913.6L1264.9 916.6L1266.3 919.7L1267.6 922.7L1268.9 925.8L1270.2 928.8L1271.5 931.9L1272.9 934.9L1274.2 938.0L1275.5 941.0L1276.8 944.1L1278.1 947.1L1279.4 950.2L1280.7 953.2L1282.0 956.3L1283.3 959.3L1284.6 962.4L1285.8 965.5L1287.1 968.5L1288.4 971.6L1289.7 974.7L1291.0 977.7L1292.2 980.8L1293.5 983.8L1294.8 986.9L1296.0 990.0L1297.3 993.1L1298.6 996.1L1299.8 999.2L1301.1 1002.3L1302.3 1005.3L1303.6 1008.4L1304.8 1011.5L1306.1 1014.6L1307.3 1017.7L1308.6 1020.7L1309.8 1023.8L1311.0 1026.9L1312.3 1030.0L1313.5 1033.1L1314.7 1036.2L1316.0 1039.2L1317.2 1042.3L1318.4 1045.4L1319.7 1048.5L1320.9 1051.6L1322.1 1054.7L1323.4 1057.7L1324.6 1060.8L1325.8 1063.9L1327.1 1067.0L1328.3 1070.1L1329.5 1073.2L1330.8 1076.2L1332.0 1079.3L1333.3 1082.4L1334.5 1085.5L1335.7 1088.6L1337.0 1091.6L1338.2 1094.7L1339.5 1097.8L1340.7 1100.9L1342.0 1103.9L1343.3 1107.0L1344.5 1110.1L1345.8 1113.2L1347.1 1116.2L1348.3 1119.3L1349.6 1122.4L1350.9 1125.4L1352.2 1128.5L1353.5 1131.5L1354.8 1134.6L1356.1 1137.7L1357.4 1140.7L1358.7 1143.8L1360.0 1146.8L1361.3 1149.9L1362.7 1152.9L1364.0 1155.9L1365.3 1159.0L1366.7 1162.0L1368.0 1165.1L1369.4 1168.1L1370.8 1171.1L1372.2 1174.1L1373.5 1177.2L1374.9 1180.2L1376.3 1183.2L1377.8 1186.2L1379.2 1189.2L1380.6 1192.2L1382.1 1195.2L1383.6 1198.1L1385.1 1201.1L1386.6 1204.0L1388.1 1207.0L1389.6 1209.9L1391.2 1212.9L1392.8 1215.8L1394.4 1218.7L1396.0 1221.6L1397.7 1224.4L1399.3 1227.3L1401.0 1230.2L1402.7 1233.0L1404.4 1235.9L1406.1 1238.7L1407.8 1241.6L1409.5 1244.4L1411.3 1247.2L1413.0 1250.1L1414.8 1252.9L1416.5 1255.7L1418.3 1258.5L1420.1 1261.3L1421.8 1264.2L1423.6 1267.0L1425.4 1269.8L1427.1 1272.6L1428.9 1275.5L1430.6 1278.3L1432.3 1281.1L1434.1 1284.0L1435.8 1286.8L1437.5 1289.7L1439.2 1292.5L1440.9 1295.4L1442.6 1298.3L1444.3 1301.1L1446.0 1304.0L1447.7 1306.8L1449.4 1309.7L1451.1 1312.5L1452.9 1315.3L1454.7 1318.1L1456.5 1320.9L1458.3 1323.6L1460.2 1326.3L1462.1 1329.0L1464.0 1331.7L1466.0 1334.3L1468.1 1336.9L1470.1 1339.5L1472.3 1342.0L1474.4 1344.5L1476.6 1347.0L1478.8 1349.4L1481.1 1351.9L1483.3 1354.3L1485.6 1356.8L1487.9 1359.2L1490.1 1361.7L1492.4 1364.1L1494.6 1366.6L1496.9 1369.1L1499.1 1371.6L1501.3 1374.1L1503.6 1376.6L1505.8 1379.1L1508.0 1381.7L1510.2 1384.2L1512.4 1386.7L1514.6 1389.2L1516.9 1391.7L1519.1 1394.2L1521.4 1396.7L1523.7 1399.1L1526.0 1401.5L1528.3 1403.9L1530.7 1406.2L1533.1 1408.5L1535.5 1410.8L1537.9 1413.0L1540.4 1415.2L1542.9 1417.4L1545.4 1419.5L1548.0 1421.6L1550.5 1423.7L1553.1 1425.7L1555.8 1427.8L1558.4 1429.7L1561.1 1431.7L1563.8 1433.6L1566.5 1435.5L1569.2 1437.3L1571.9 1439.1L1574.7 1440.9L1577.5 1442.7L1580.3 1444.4L1583.2 1446.1L1586.0 1447.8L1588.9 1449.4L1591.8 1451.0L1594.7 1452.6L1597.6 1454.2L1600.5 1455.7L1603.5 1457.2L1606.5 1458.7L1609.4 1460.1L1612.4 1461.5L1615.5 1462.9L1618.5 1464.3L1621.5 1465.6L1624.6 1467.0L1627.7 1468.3L1630.7 1469.5L1633.8 1470.8L1636.9 1472.0L1640.1 1473.2L1643.2 1474.4L1646.3 1475.5L1649.5 1476.6L1652.6 1477.7L1655.8 1478.8L1659.0 1479.9L1662.2 1480.9L1665.3 1481.9L1668.5 1482.9L1671.7 1483.9L1675.0 1484.8L1678.2 1485.7L1681.4 1486.6L1684.6 1487.5L1687.9 1488.4L1691.1 1489.2L1694.3 1490.1L1697.6 1490.9L1700.8 1491.7L1704.1 1492.4L1707.3 1493.2L1710.6 1493.9L1713.8 1494.6L1717.1 1495.3L1720.3 1496.0L1723.6 1496.7L1726.9 1497.3L1730.1 1498.0L1733.4 1498.6L1736.7 1499.2L1739.9 1499.8L1743.2 1500.3L1746.5 1500.9L1749.8 1501.4L1753.0 1502.0L1756.3 1502.5L1759.6 1503.0L1762.9 1503.4L1766.1 1503.9L1769.4 1504.4L1772.7 1504.8L1776.0 1505.2L1779.3 1505.6L1782.6 1506.0L1785.9 1506.4L1789.1 1506.8L1792.4 1507.2L1795.7 1507.5L1799.0 1507.9L1802.3 1508.2L1805.6 1508.5L1808.9 1508.8L1812.2 1509.1L1815.5 1509.4L1818.8 1509.7L1822.1 1510.0L1825.4 1510.2L1828.7 1510.5L1832.0 1510.7L1835.3 1510.9L1838.6 1511.2L1842.0 1511.4L1845.3 1511.6L1848.6 1511.8L1851.9 1512.0L1855.2 1512.2L1858.5 1512.4L1861.8 1512.5L1865.1 1512.7L1868.5 1512.9L1871.8 1513.0L1875.1 1513.2L1878.4 1513.3L1881.7 1513.4L1885.0 1513.6L1888.4 1513.7L1891.7 1513.8L1895.0 1513.9L1898.3 1514.1L1901.6 1514.2L1905.0 1514.3L1908.3 1514.4L1911.6 1514.5L1914.9 1514.6L1918.3 1514.7L1921.6 1514.8L1924.9 1514.9L1928.2 1515.0L1931.6 1515.1L1934.9 1515.2L1938.2 1515.2L1941.5 1515.3L1944.9 1515.4L1948.2 1515.5L1951.5 1515.6L1954.8 1515.7L1958.2 1515.8L1961.5 1515.9L1964.8 1515.9L1968.2 1516.0L1971.5 1516.1L1974.8 1516.2L1978.1 1516.3L1981.5 1516.4L1984.8 1516.5L1988.1 1516.6" fill="none" stroke="#80ff00" stroke-width="4.0" stroke-linejoin="round"/>
<g fill="#80ff00" clip-path="url(#c3i)"><path d="M1125.6 1351.1L1133.0 1365.9L1118.2 1365.9Z"/><path d="M1211.9 843.4L1219.3 858.2L1204.5 858.2Z"/><path d="M1298.2 987.9L1305.6 1002.7L1290.8 1002.7Z"/><path d="M1384.6 1192.7L1392.0 1207.5L1377.2 1207.5Z"/><path d="M1470.9 1332.9L1478.3 1347.7L1463.5 1347.7Z"/><path d="M1557.2 1421.4L1564.6 1436.2L1549.8 1436.2Z"/><path d="M1643.5 1467.1L1650.9 1481.9L1636.1 1481.9Z"/><path d="M1729.8 1490.5L1737.2 1505.3L1722.4 1505.3Z"/><path d="M1816.2 1502.1L1823.6 1516.9L1808.8 1516.9Z"/><path d="M1902.5 1506.8L1909.9 1521.6L1895.1 1521.6Z"/><path d="M1988.8 1509.3L1996.2 1524.1L1981.4 1524.1Z"/></g>
</g>
<rect x="1797.3" y="862.5" width="172" height="176" fill="#fff" stroke="#000" stroke-width="2"/>
<path d="M1800.3 884.0H1857.3" stroke="#000080" stroke-width="4"/>
<g fill="#000080"><path d="M1807.9 877.4L1815.3 892.2L1800.5 892.2Z"/><path d="M1827.4 877.4L1834.8 892.2L1820.0 892.2Z"/><path d="M1847.2 877.4L1854.6 892.2L1839.8 892.2Z"/></g>
<text class="lg" transform="translate(1866.8 893.8) scale(1.230 1)">&#945;</text>
<text class="lg" x="1888.5" y="893.8">=0.1</text>
<path d="M1800.3 927.5H1857.3" stroke="#ff0000" stroke-width="4"/>
<g fill="#ff0000"><path d="M1810.3 917.7L1820.1 927.5L1810.3 937.3L1800.5 927.5Z"/><path d="M1845.3 917.7L1855.1 927.5L1845.3 937.3L1835.5 927.5Z"/></g>
<text class="lg" transform="translate(1866.8 937.3) scale(1.230 1)">&#945;</text>
<text class="lg" x="1888.5" y="937.3">=0.2</text>
<path d="M1800.3 971.0H1857.3" stroke="#000000" stroke-width="4"/>
<g fill="#000000"><circle cx="1810.3" cy="971.0" r="10.0"/><circle cx="1845.3" cy="971.0" r="10.0"/></g>
<text class="lg" transform="translate(1866.8 980.8) scale(1.230 1)">&#945;</text>
<text class="lg" x="1888.5" y="980.8">=0.3</text>
<path d="M1800.3 1014.5H1857.3" stroke="#80ff00" stroke-width="4"/>
<g fill="#80ff00"><path d="M1807.9 1007.9L1815.3 1022.7L1800.5 1022.7Z"/><path d="M1827.4 1007.9L1834.8 1022.7L1820.0 1022.7Z"/><path d="M1847.2 1007.9L1854.6 1022.7L1839.8 1022.7Z"/></g>
<text class="lg" transform="translate(1866.8 1024.3) scale(1.230 1)">&#945;</text>
<text class="lg" x="1888.5" y="1024.3">=0.4</text>
<text class="pr" x="1562.6" y="965.3">Pr=45</text>
</svg></body></html>
